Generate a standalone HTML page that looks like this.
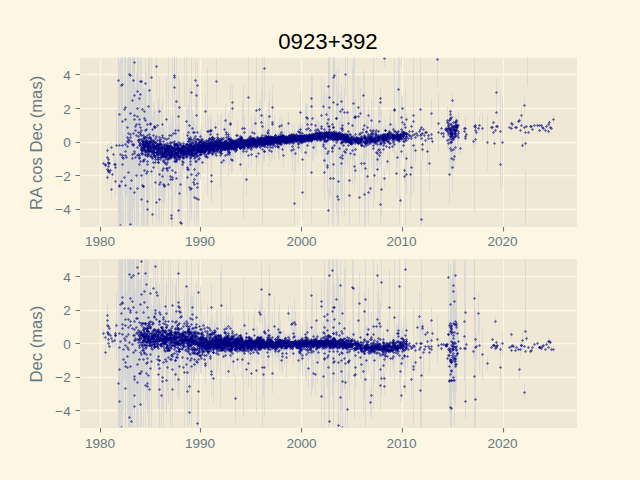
<!DOCTYPE html><html><head><meta charset="utf-8"><title>0923+392</title><style>html,body{margin:0;padding:0;background:#fdf6e3;font-family:"Liberation Sans",sans-serif}svg{display:block}</style></head><body><svg width="640" height="480" viewBox="0 0 640 480"><defs>
<clipPath id="c1"><rect x="80" y="57.6" width="496" height="168"/></clipPath>
<clipPath id="c2"><rect x="80" y="259.2" width="496" height="168"/></clipPath>
</defs>
<rect width="640" height="480" fill="#fdf6e3"/>
<rect x="80" y="58" width="497" height="169" fill="#eee8d5"/>
<rect x="80" y="259" width="497" height="169" fill="#eee8d5"/>
<path d="M100.5 59V226M200.5 59V226M301.5 59V226M402.5 59V226M503.5 59V226M81 209.5H576M81 175.5H576M81 142.5H576M81 108.5H576M81 74.5H576M100.5 260V427M200.5 260V427M301.5 260V427M402.5 260V427M503.5 260V427M81 410.5H576M81 377.5H576M81 343.5H576M81 310.5H576M81 276.5H576" stroke="#fdf6e3" stroke-width="1.3" fill="none"/>
<defs><marker id="m" markerUnits="userSpaceOnUse" markerWidth="4" markerHeight="4" refX="2" refY="2" overflow="visible"><path d="M2 0.44999999999999996 L3.55 2 2 3.55 0.44999999999999996 2z" fill="#000080" fill-opacity="0.6"/></marker></defs><g clip-path="url(#c1)"><g transform="translate(.5 .5)">
<path d="M120 182.4V227.1M122 115.5V173.8M123 134V181.8M125 55.1V227.1M127 69.2V222.9M127 58.9V194.1M127 116.8V165.7M129 183.6V227.1M130 133.3V227.1M131 101.1V181.3M132 55.1V227.1M132 124.9V190.3M133 130.3V158.6M133 55.1V131.6M134 55.1V227.1M136 72.3V176.2M138 123.6V156.5M139 131.5V195.7M139 141.7V172.9M140 146.7V176.3M140 136.1V152.1M141 127V142.7M141 125.8V153.6M141 144.8V155M142 142.1V150M142 135.7V150.8M142 147.2V153.7M143 140.4V147.2M143 146.3V149.8M143 145.2V152.3M143 142.8V146.2M144 134.5V156.8M144 146.2V150.3M144 89V147.3M144 137.9V147.6M144 133.5V140.9M145 151V156.1M145 145.5V163.7M145 143.7V148.2M145 130.8V143.2M146 116.2V227.1M146 139V145.2M147 142.2V145.6M147 143.3V149.4M147 128.4V140.6M147 145.9V154.8M147 142.1V151M147 144.3V153M148 143.2V150.4M148 143.9V149.6M148 141V166.7M149 142.6V146.9M149 139.7V150.2M149 55.1V150.5M149 147.4V154M150 145.6V149.8M151 142.4V159.7M151 55.1V178M151 144.7V166.6M151 147.1V160M151 133.6V144.1M152 140.4V149.5M152 149.3V164.5M153 135.2V148.2M153 158.2V175.2M154 147V152.9M154 143.7V160.2M154 140.6V145.7M154 141.7V148.1M154 138.8V152.5M154 107.7V146.8M154 152.5V156.9M154 141.6V151.8M155 144.1V148.1M155 152.9V160M155 133.9V142.8M155 148.2V215M156 144V148.5M157 134.6V145.1M157 143.9V158.8M157 146.5V152.2M157 148.1V156.1M158 98.9V218.8M158 154.6V169.1M158 143V153.8M158 143.1V146.7M158 147.5V175.9M159 134.3V151.8M159 140.2V148.5M159 147.1V158.7M159 106.7V172.4M159 151.5V156.3M159 126.1V148M160 145.9V155.3M160 141.2V146.5M160 145.8V149.1M161 144V150.8M162 148.5V153.4M162 141.2V161.2M162 97.9V149.8M163 136.9V151.5M163 155.6V164M163 150.9V157.3M164 153.6V158.4M164 152.3V160.4M164 127.4V149.5M164 172.3V199.8M165 144V155.9M165 149.8V153.4M165 141.4V147.5M165 147.9V157.9M165 146.2V153.7M165 144.6V154.4M165 146.8V153.3M166 152.7V158.8M166 143.2V147.3M166 145.3V156.9M166 151.4V155.5M166 160.3V166.8M166 144.1V150.6M166 145.2V152.3M166 138.8V151.3M167 142.5V159.8M168 144.3V148.3M168 152.8V163.1M168 154.4V162.9M168 146.9V151.9M169 150.5V153.3M169 147.1V156.9M169 152V157.2M170 151.2V160.9M170 112.3V181.3M170 149.2V158.6M170 152.1V159.1M171 147.5V154.7M171 150.6V156.4M171 145.9V157.9M172 145.5V155.7M172 129.2V180.9M173 115.9V150.4M174 144.3V151.9M174 152.3V162.2M174 142.5V153.2M174 148.3V152.1M174 136.3V149.3M174 139.8V149M174 151.3V158.8M175 149V160.6M175 147.4V152.8M175 148.7V155.2M176 156.7V161.7M176 141.2V154M176 145.6V154.8M176 155V159.8M177 151.9V157.5M177 144.2V151.2M177 144.9V149.2M177 152.5V156.7M178 139.2V155.7M178 148.8V163.1M179 154.4V159.5M179 148.3V152.3M179 148.5V151.8M179 147.6V153.8M180 149.7V156.8M180 147.9V151M180 153.1V159.8M182 147.4V153.8M182 144.2V157.2M182 139.8V154.1M183 132.2V152.9M183 141.1V151.3M183 153.5V160.1M183 150.5V156.7M184 144.3V147.7M184 147V154.2M184 137V163.1M186 148.4V155.6M186 129.5V159.3M186 150.4V164.5M186 144V152.1M186 139.3V151M186 151V157.7M186 141.2V163.4M186 55.1V194.9M187 139.4V149.6M187 142.7V150.1M187 148V152M187 142.5V154.4M187 148.6V157.2M187 152.3V156.6M188 147V153.3M188 140.5V156M188 144.3V157.4M188 147.5V152.9M189 141.5V147.7M189 146.2V151.9M189 131.5V145.7M189 143.5V149.3M189 150.2V154.3M189 141.5V152.2M190 152.3V155.7M190 165.8V212.2M190 126.2V196.8M191 145.7V152.4M191 147V152.5M191 148.2V152.8M191 149.8V153.6M191 147.8V159.1M192 147.7V149.9M192 140.4V144.9M192 136.4V164.8M192 151.1V155.7M192 145.1V151.5M192 146.8V151.2M192 151.3V155.3M193 116.8V147.4M193 153.4V156.9M194 137.5V154.2M194 141.5V149.9M194 148.6V151.6M194 146V153.1M194 140.8V148.7M195 136.1V148M195 148.1V173.5M195 144.4V150.5M195 151.7V161.7M195 147.5V156.5M196 134.7V144.1M196 150.1V160.1M197 141.9V147.3M197 144.8V152.1M197 147V152.1M197 148.2V152.6M197 143.6V153.7M197 151.4V158.9M197 144.9V156.5M197 92.4V171.7M198 148.2V152.1M198 147.2V156.9M199 147.5V152.6M199 145.7V151.7M199 149.7V165.4M199 142.8V146.6M199 138V145.6M200 129.2V142.5M201 139.7V162.9M201 148.1V153.5M201 133.3V148.7M201 146.2V152.2M202 136.5V149.3M203 142.7V145.6M203 141.2V144.4M203 141.7V145.9M204 139.3V152M204 145.4V148.2M204 143.3V160.8M204 150.1V153.2M204 140.6V148.5M205 141.3V146.4M205 147.7V153.4M205 140.3V144.1M206 145.2V153.5M206 142.9V151.5M206 148.1V151.4M206 141.3V149.6M206 133.7V146.5M207 145.8V151.1M207 147.2V151.5M207 142.3V146.2M208 140.8V144.8M208 143.6V150.2M208 144.3V148.4M208 144.8V153.3M208 117.5V143.8M208 149.4V155.8M208 139.3V143M208 144.3V151.7M208 142.9V149.2M209 144.5V147.5M209 141.3V145.6M209 143.5V152.4M209 147.4V154.8M209 142.3V149.1M209 146.8V155M209 134.4V157.5M209 147.7V153.5M210 142.9V152.5M210 144.5V153.1M211 147V153.5M211 133.9V149M211 141.6V146.3M211 133.8V142.4M211 143.8V151.1M211 140.2V146.7M211 144V146.5M212 146.3V149.8M212 143.3V147.7M212 143V147.9M212 142.2V145.5M212 129.9V144.7M213 138.4V157.6M213 144.3V148M213 143V155M213 142.6V145.7M213 144.7V148M213 139.8V145.1M213 141.6V146M214 147.3V153.4M214 146.7V154M215 141.8V144.3M215 146.3V149.2M215 121.4V133M215 141.9V146.4M216 146.9V151.2M216 143.6V151.1M216 143.9V146.9M217 143.3V146.9M217 141.9V147.5M217 142.4V150.4M217 141.2V147.1M217 145.7V155.9M217 143.9V147.4M217 137.2V142.8M217 113.2V155.4M217 143.3V146M218 135.1V153.4M218 135V140.3M218 142.1V151.2M218 140.4V145.6M218 141.2V148.2M219 137.5V142M219 140.4V143.7M219 142.9V145.9M220 115.1V187.1M220 144.4V147.7M220 144.7V148.9M221 145.5V153.8M221 142.3V146.3M221 147.7V157.4M221 141.5V146.4M221 137.5V146M221 141.5V144.3M222 141.5V145.1M223 144.2V148.5M223 142.9V145.8M223 139.2V149.3M224 140.5V144.3M224 142.7V145.9M224 147.2V151.2M224 139.6V147.7M224 144.6V146.7M225 141.2V147.6M225 143V145.5M225 140.9V146.3M225 139.3V143.2M225 147V163.9M225 140.5V147M225 141.8V145.6M225 146.7V150.7M225 130.2V157.4M226 118.9V145M226 145.7V148.6M226 139.1V143.7M226 143.9V148M227 142.6V152M227 146.8V150.4M227 143.8V147.8M228 141.4V149.9M228 123.1V175.8M228 147.8V155M228 113V159.1M228 143.6V149.5M229 136.1V141.3M229 143.8V150.3M229 145V158.1M229 148.3V150.7M230 135.9V157.5M230 141.8V147M230 145.6V150.1M231 142.7V150.2M231 139.7V142.5M231 144.7V147.6M231 137.9V144.7M231 143.7V146.5M231 139.6V143.2M231 145.2V173.5M232 142.9V146M232 104V111.5M232 137.7V157.3M232 138.2V143.3M232 145.5V147.9M232 141.5V147.3M233 146.4V150.1M234 140.3V146.7M234 142.6V145.9M234 139.9V145.3M234 143.5V149.1M234 145.7V148.3M234 142.8V146.2M235 144.2V149.1M235 143.9V147.2M235 143.5V146.4M236 139.7V147.6M236 131.6V139.1M236 142V146.4M236 143.7V148.3M236 142.9V146.8M236 138.8V144.4M236 139.5V142.8M236 143.2V146.3M237 144.3V147.9M237 121.3V149.4M237 144.3V148.1M238 141.9V146.8M239 138.8V143.7M239 142.2V146.1M240 140.2V144.4M240 136.1V141.7M240 141.4V146.5M240 142.1V154.6M240 143.1V149.6M241 138.8V143.4M241 134.8V140.1M241 137.1V140.4M241 140.6V143.4M241 141.2V147.7M242 142.1V147.9M242 140.7V145.5M242 137.5V145M243 141.9V146.9M243 135.3V149.9M243 140.1V145.7M243 137V142.3M244 141.9V149.9M244 142.8V147.5M245 134.1V145.8M245 141.5V144.3M245 143V147.8M245 136.5V142.5M246 149.1V153.1M246 143.2V147.7M247 140.9V145.1M247 137.3V142.8M247 142.9V149.7M247 144.9V147.1M248 143.8V147.9M248 142.9V145.3M248 143.2V148.2M248 130.6V146.7M248 143.9V148.5M249 127.6V147M249 141.2V144.6M249 141.3V145.6M249 139.1V146.6M249 141V146.2M249 139.3V143.6M249 139.1V144.6M249 141.7V145.8M250 138.4V141.1M250 142.1V144.8M250 142V144.2M251 140.1V144.4M251 140.5V144.9M251 142.9V147.2M251 136.2V140.3M251 141.1V146.3M252 141V145.2M253 139V143.8M253 134.9V140.6M253 140.1V146.1M253 140.5V144M253 138.3V155.5M254 143.1V146.1M254 141.8V146.7M254 137.2V141.5M254 141V147.3M254 140.3V143.8M255 136.5V156.2M255 139.5V144.8M255 137.8V142.6M255 140.3V143M255 140.6V146.9M255 140.4V144.6M256 144.5V148.9M256 143.7V148.6M256 141V146.9M256 141.6V146.5M257 138.2V143.1M257 134.6V140.3M257 137V143.1M257 134.9V139.6M259 139.5V142.7M259 139.6V141.8M259 140.6V144.2M260 133.9V142.1M260 136.4V142.1M260 135.5V140.8M260 140.3V143.5M260 139.6V142.6M260 139.5V144.1M261 138.4V141.7M262 138.3V144.9M262 138.9V144.5M262 137V143.5M262 140.6V143.6M262 141.1V145M262 55.1V227.1M263 135.6V145.9M264 141.8V144.9M264 142.4V144.7M264 142.1V159.6M264 137.9V141.7M265 141.2V145.7M265 134.7V140.8M266 141.7V143.7M267 139.6V144.7M267 138V149.4M267 138.3V141.4M268 140.1V142.3M268 137.4V141.1M268 140.4V143.6M268 139.9V146.7M268 136.9V140.9M268 138.8V141.4M269 90V142M269 134V166.6M270 138V140.4M270 140.6V143.3M270 135.3V137.8M270 139.3V144.2M271 137.3V140.3M271 136.8V139.1M271 136.8V140.3M271 135.1V139M271 136.5V140.4M272 136.5V140.5M272 136.1V140M272 135.9V140.4M272 139V144M273 139.3V142.6M273 138.6V143.4M273 136.4V138.5M274 137.1V140.2M274 113.9V160.3M274 135.5V139.1M275 138.4V141.2M275 136.6V143.8M276 139.3V144.1M276 136.7V140M276 136.3V143M276 138.7V143.7M276 137V142.9M277 137.8V143.6M277 133.6V141.3M277 139.5V145.3M278 138.4V145.2M278 132.2V141.5M278 132.8V139.6M278 138.5V141.8M279 137.8V140.7M279 137.9V140.8M279 140.1V144.4M279 118V134.9M280 137.9V149.2M280 135.1V138.8M280 135.3V139.9M281 126.9V137.3M281 137.6V140.2M281 140.4V147.5M281 139V146M281 135.1V140.7M282 135.6V140.5M282 135.7V139.5M282 138.4V141.8M282 137.3V140.8M282 137.7V160.2M283 135.6V138.9M283 137.7V142.3M283 129.8V146M284 134.6V138.1M284 136.7V141.3M284 138.7V141.9M285 136.6V140.6M285 134.9V142.4M285 134.1V140M286 133.2V142.5M286 139.3V145.9M286 139.1V143.9M286 135.7V144.7M286 137.2V140.4M287 136.7V142.8M288 133.6V139.1M288 137V139.2M288 135.9V139.4M288 134.7V139.3M290 135.4V141.9M290 138.1V140.5M291 133.8V137.2M291 134.2V137.8M291 142.1V158.3M291 135.4V139.9M292 134.9V142.6M292 136.7V140.6M292 138.4V141.3M292 135.5V140M292 138V141M293 134.8V139.7M293 136.9V144.8M294 134.6V137.9M294 135.6V139.7M294 135V138.1M294 136.7V139.2M295 137V141M295 136.4V138.7M295 136.4V139.6M296 134.1V136.2M296 135.3V142M296 133.9V139.7M296 132V135.5M296 135.9V141.6M297 136.9V139.6M298 134.8V137.1M298 135.6V141.9M298 136V138.2M298 135.3V142.9M298 136.2V140.7M299 138.6V141.2M299 135.9V142.3M300 130.7V150.2M300 137.3V141.8M300 136.2V142.1M300 133.7V140.8M300 139.1V141.9M301 134.3V139.8M301 133.2V136.5M301 136.5V140.6M301 135V138M302 129.3V148M302 139.4V144.5M302 128.6V137.9M302 123.3V149.5M302 137.5V141.8M303 136.3V141M303 135.9V138.5M303 133.7V137.9M304 133.1V138.1M304 135.3V139.2M305 134.7V143.9M305 133.5V137.7M305 131.8V139.4M305 104.2V199.5M306 136.7V140.7M306 135.8V139M306 135.9V138.5M307 135V138.6M307 129.6V139.6M307 135.3V138.4M307 135.9V142.6M307 133.4V138.3M307 135.8V140.2M308 134.1V141.6M308 135.4V140.9M308 135.9V140.6M308 134.9V138.2M308 134.9V137.4M308 134.5V144.7M309 136.3V139.8M309 136.5V138.8M309 134.4V140.1M309 135.3V138M310 134.7V140.8M310 134.5V138.2M310 136.7V139.7M310 134.6V138.6M310 132.5V139.4M310 136.8V139.1M311 133.7V145.8M311 134.4V136.5M311 134.4V136.7M311 119.4V225.3M311 133.9V138.1M312 135.4V140M312 136.3V139.9M312 135.1V139.2M312 131.3V138M312 136.5V140.7M313 136.1V139.9M313 135.3V138.8M313 135.5V138.3M313 133.7V137.9M314 135V137.1M314 135.1V137.3M314 134.9V141.3M314 134.5V139.8M314 135.9V139.1M315 124.8V151.9M315 135.5V139.3M315 132.1V136.8M316 133.7V136.9M316 135.1V138.4M316 134V140M317 125.2V140.6M317 134.1V138.2M317 119.3V138.8M318 132.4V138.5M318 133.9V136.3M319 120.7V143.6M319 133.9V142.2M319 131.6V135.4M319 134.9V137.6M319 132.6V141.3M320 132.2V137.8M320 130.1V136.4M320 131.3V135.3M320 135.7V141.9M320 137.8V141.3M321 134.1V137.9M321 76.1V154.7M322 134V137.2M322 135V137.9M322 135.9V139M322 134V136.5M322 132V136.3M322 133.1V136.6M323 135V138.5M323 131.8V134.6M323 131.9V138.6M324 152.6V192.1M324 125.6V138.8M324 120.8V155.2M325 128.4V138.1M325 134.4V137.1M325 135.8V138.7M325 131.1V137.9M325 135.2V144.9M326 132.6V137.8M326 130.9V135.8M327 137.6V142.9M327 102.2V143.4M327 136.6V143.4M327 133.4V137.4M328 186.1V227.1M328 110.8V127.1M329 132.5V138.7M329 134.6V136.7M329 131.9V138M329 132.5V139.7M330 132.9V137.8M331 131.8V134.4M331 135.7V138.3M332 133.7V137.3M332 130.2V135.3M332 79.4V223.3M332 131.6V136.1M332 132.8V137.5M332 134.6V142.2M333 136.2V140.1M333 136.1V139M333 113.8V153.2M333 133.5V143.5M333 55.1V205.9M333 118.7V136.2M333 135.9V140.1M334 126.6V134.8M334 130.4V135.8M334 55.1V94.5M334 138.3V151.9M334 126.1V150M334 55.1V73.8M334 132.8V137.3M335 135.3V140M336 132.9V137M336 69.8V213.5M336 130.9V133.6M337 143.2V227.1M337 137.9V140.1M338 137.1V141.5M338 134.6V139.2M338 135.9V140.4M338 134.4V138.1M339 134.2V137.8M339 125.1V141M339 138.7V157.1M339 119.6V144.5M340 132.9V135.7M340 130.7V140.4M340 135.9V139.3M340 134.3V137.2M341 134V152.4M341 134.3V138.7M342 144V165.4M342 134.7V141.2M342 129.7V139.9M342 123.8V136.6M343 132.4V137.8M343 137.8V152.7M343 134.3V137M343 136.9V144.1M344 131.2V136.1M344 136.1V141.3M344 135.8V137.9M345 135.9V140.5M345 133.8V138.9M346 132V136.3M346 137.8V141.8M347 137.1V140.2M347 134.5V139.1M347 138.8V143.2M348 110.9V135.1M350 138.1V141.3M350 140.5V143.9M350 125.1V142.4M351 138.6V141.1M352 136.1V139.5M353 135.4V141M353 55.1V155M354 137V142M354 137.1V141.4M355 138.2V142.1M355 144.1V152.9M355 140.5V145.2M355 138.2V140.6M355 138.4V142.8M355 132.2V135.8M355 98.6V133.6M356 135V139.5M356 139.8V142.1M357 138.9V141.7M357 135.9V141M358 138.7V141.4M358 140.5V144.9M358 135.6V140.7M358 75.3V137.9M359 135.7V140M360 130.4V135.7M360 86.6V140.1M361 135.5V142.7M361 141.8V148.2M362 137V141.4M363 69.7V119.7M363 92.5V166.1M364 140.1V144.7M364 133.5V141.1M365 140.1V145.1M365 137.1V144.4M365 136.6V140.1M366 128.6V158.3M366 139.5V142.8M367 137.4V142.2M368 137.8V140M368 106V123.8M368 134.8V138.9M368 136.3V140.4M370 138.5V143.4M370 129V142.4M370 135.4V142.3M370 135.2V140.1M370 141.2V144.9M370 136.6V143.8M370 124.6V135.6M371 132.8V143.1M371 136.8V139.2M371 133.8V138M371 139.2V142.3M371 138.6V141.9M372 128.2V138.2M372 133.3V148.3M373 55.1V206.4M373 137.5V141M373 135.9V141M373 137.5V140.6M373 138.7V141.7M373 129.8V150.8M374 137.3V142.6M374 150.5V200.1M374 138.1V143.3M375 138.3V141.5M375 126.6V138.2M375 131.9V136.2M376 55.1V59M376 138.6V141.3M377 134.9V140.6M377 132.2V141.8M377 133.7V139.7M377 134.9V171.9M378 137.8V140.7M378 133.9V137.1M379 135.9V139.9M379 106.5V134.7M379 141.4V156.5M379 135.1V139.4M380 133.5V138.8M380 135.9V140M381 161.4V216.6M381 133.1V137.4M382 134.9V141.6M383 136.7V142M383 131.6V143.7M383 136V139.5M383 130V142.8M384 135.1V137.7M384 133.3V135.5M384 168.9V187.8M384 137V148.1M385 132.4V136.6M386 136.3V141.1M386 134.8V143.5M386 135.5V138.8M387 134.5V140.3M387 135.9V138.9M387 137.6V140.1M387 132.2V135.5M387 152V169.6M387 125.1V143.9M387 131V136.9M388 134V147.9M388 135.7V139.3M389 122.2V139.4M390 135.4V138.5M390 134.2V138M392 134.1V140.7M392 123.2V149.5M392 132.4V137.9M393 131.9V138M393 133.4V135.8M394 136V138.3M394 93.7V125.7M395 135.6V139.2M395 135.8V139M396 151.1V195.1M396 134.4V138M396 138.2V140.6M396 136.9V139.5M397 132.2V136.7M397 131.9V136.8M397 147.5V167.3M399 55.1V227.1M399 137.3V140.2M400 133V137.5M400 132.7V136.2M400 132.2V138.1M400 132.2V140.5M400 133.8V138.1M401 125.6V133.1M401 134.3V137.9M402 130.6V132.7M402 133.1V135.2M403 135.2V140.5M403 132.3V156.8M403 125.2V157.4M404 126.7V139.7M404 131.6V135.4M406 152.6V163.9M406 113.1V124.5M107 144V156M107 152.7V160.7M108 168.1V174.1M114 153.9V173.9M115 166.9V194.9M400 195V205M421 158.8V227.1M411 122.9V128.9M409 132.6V136.6M408 132V136M408 135V141M414 132V136M417 132V138M422 131.4V135.4M421 134.8V140.8M422 138.8V158.8M428 132.6V136.6M438 121.8V141.8M466 131.9V135.9M465 134.4V138.4M465 136.2V140.2M473 132.8V148.8M475 132.9V144.9M496 124.4V128.4M497 122.8V128.8M494 138V148M502 97V187M511 126V130M518 117.5V123.5M521 106.9V122.9M521 122.9V126.9M524 124.8V128.8M528 130V134M532 126.9V130.9M537 121.9V127.9M539 122.9V126.9M539 127.9V131.9M545 126.9V132.9M551 126V130M454 120.9V139.9M456 126.9V133.5M456 118.7V124M455 125.4V133.9M456 120.1V132.6M448 122.2V127.4M451 128.1V138.2M457 122.2V147.1M451 126.6V130.7M450 124V143.7M455 130.2V137.7M448 126.2V130.6M448 125.6V139.3M453 134.4V139.1M455 121.6V129.9M453 137.8V140.6M450 129.3V143.5M458 126.8V135.5M452 127.9V138.7M452 130.4V137.5M455 123.8V136.8M452 127.3V138.2M450 131.4V133.7M450 108.9V128.8M452 128.1V134.4M452 92V108M450 110V118M449 144V204M193 168V196M197 166.8V198.8M197 156.9V216.9M194 171.7V221.7M196 167.8V227.1M195 55.1V110M170 167.5V183.5M174 55.1V106.5" stroke="#d3d3d3" stroke-opacity="0.69" fill="none"/>
<path d="M115 161.2V166.7M118 55.1V227.1M119 141.5V227.1M119 62V166.5M119 80.3V227.1M121 87.9V227.1M122 135.7V191.5M122 123.1V186.2M127 118V155.9M128 112.9V171.2M130 171.5V227.1M132 65.9V227.1M133 112V178.7M134 55.1V196.4M134 78.4V227.1M134 55.1V227.1M134 104.8V201.2M135 96.9V154.5M135 147.6V166.6M137 141.1V168.7M137 55.1V133.6M137 55.1V181.6M138 133.7V174M138 60.3V219.2M138 107.3V156.5M139 141.4V167.9M140 134.2V151.5M140 102.7V152.1M141 76.9V227.1M141 144.9V204.6M141 143.9V154.7M141 55.1V200.1M142 146.3V156.4M142 78.4V140.1M142 145.8V149.9M143 142.1V146.1M143 85.9V203.7M143 119V150.7M144 144V150M144 142.4V152.3M144 141.3V155.9M144 134.8V138.7M144 138.1V202.2M145 136.3V145M145 88.7V172M145 55.1V127.8M145 147.3V153.8M146 135.7V146.1M146 134V140.2M146 126.7V162.1M146 70.4V188.3M147 142.4V148.6M147 139.6V145.4M147 140.1V146.9M148 149.1V156.9M148 136.9V151M148 55.8V155.2M148 136.3V146.2M149 138.8V146.1M150 144.1V152.7M150 99.5V146.1M150 92V155.7M150 136.3V146.2M150 145.4V151.8M150 153.2V157.8M151 142.8V150.7M151 138.6V147M151 132V148.1M152 153.9V161.3M152 142.1V146.8M152 146.3V155.8M153 144.8V154.7M153 153.3V171.2M153 142.4V147M153 152.4V154.4M153 143.4V149.9M154 149.2V156.5M154 143.3V152.2M154 144.9V167.3M154 143.2V149.9M154 149.3V153.9M154 142.6V148.6M154 105.8V145.8M155 144.5V173.8M155 125.7V157.3M156 144.7V160.3M156 147.8V156.2M156 141.2V155.3M156 143.5V147.4M157 137.6V152M157 139.9V147.4M158 143V151.2M158 151.8V156.5M158 147.9V153.5M158 142.9V149.7M158 146.4V151.8M159 142.8V153.1M159 76.4V146M159 142.8V148M159 145.1V152.3M160 135.7V147.3M160 152.9V160.1M161 140.7V148.2M161 146.2V150.9M161 153V158.5M162 150.1V202.6M162 145V149.4M162 149.3V158.6M163 135.6V200.4M163 129.9V227.1M163 148.2V159.3M163 153V214.6M163 145.6V150.5M164 141.7V147.7M164 152.2V156.2M165 153.4V158.3M165 157.3V161.4M165 143.8V151.7M165 146.3V155.4M166 145.6V153.9M166 151.9V157.2M166 125.3V151.8M167 157.9V166.3M167 144.1V152.7M167 139.6V152.4M167 156.3V161.6M167 142.1V152.4M167 144.1V150.4M168 149V158.2M168 148.3V153M169 150V154.9M169 143.9V148.9M169 150.2V157.4M170 150.4V159.5M170 155V160.2M170 144V150.2M170 143.6V152.2M171 121V149.2M171 142.7V148.9M171 145.8V151.1M171 149.4V154.9M172 146.7V159.5M172 115.2V227.1M172 141.2V153.3M172 148V152.8M172 55.1V227.1M172 144.9V151.6M172 153.1V158.8M173 144.5V151.6M174 148.4V155.4M174 143.1V150.1M174 153.9V162.8M174 152V155.3M174 138.3V183M175 149.2V156.4M175 137.6V151.2M175 142.1V147.8M175 99.6V159.6M176 146.6V150.9M176 139.9V148M176 137.3V150.2M177 151.6V155.4M177 135.8V154.4M177 134V153.8M177 148V157.4M178 73.6V157.6M178 145V158.9M178 149.4V157M178 134.2V165.4M178 147V153.3M178 115.2V176.5M179 154.1V163.9M179 146.7V150.4M179 151.7V159.6M179 153.2V159.4M180 139.7V147.2M180 142.9V147M180 147.9V158.8M180 149V152.6M181 148.8V154.7M181 144.5V151.3M182 151.8V158.8M182 145.5V151.4M183 150.6V155.7M183 154V169.5M183 142.7V148.7M184 144.6V151.4M184 150.4V159.1M184 146.3V153.4M185 143.6V151.3M185 149.8V153.5M185 146.7V155.8M185 149.7V153.3M186 144.7V150.4M186 153.6V158.3M186 144.9V151.3M187 153.5V158.2M187 147.9V151.4M187 145.7V151M188 144.7V150.6M188 146.3V150.8M188 144.6V154.1M189 150.4V158.7M190 138.4V149.7M190 152.3V164.1M190 136.9V141.5M190 146.2V154M190 138.4V147.7M191 138.3V153.9M191 146.7V154.5M191 148.4V156.7M192 139.7V156.4M192 143.8V166M192 138.5V145.8M192 152.1V156.9M193 145V148.4M193 146.8V149.5M193 144.6V148M193 139.3V156.4M194 150.6V155.4M194 140.5V146.9M194 151.7V155.9M195 138.4V144.3M195 144.8V151.7M195 141.7V151.8M196 146.5V152.3M196 149.6V153.6M196 139.3V145.2M197 146.4V150.5M197 144.4V149.5M197 146.8V155.2M197 144.5V148M198 135.8V227.1M198 141.5V146.5M198 146.3V199.8M198 147.8V152.2M199 131.4V160M199 148.4V152.9M199 138.6V145.6M200 134V148.2M200 147.7V151.1M200 146.2V157.2M201 141V146M201 142.2V149.3M202 149.6V152.7M202 148.7V150.8M202 140.8V148.9M202 138.6V155M202 138.4V149.1M202 137.3V145.1M203 147.9V153.1M203 142.6V148.2M203 142.3V149.4M203 142.5V154.5M203 141.5V151.4M203 147.5V155.6M203 148.8V152.8M203 141.4V144.7M204 139.2V152M204 142.8V149M204 144.8V156.9M204 151.6V157.2M204 144.2V152.4M205 148.7V153.4M205 147.8V151M205 142.1V149.4M206 143.1V149.1M206 142.6V150.8M206 146.5V150.6M206 141.9V152.9M206 144.7V149.1M207 144.3V151.3M207 145.2V149.7M207 141.5V153.9M207 142.1V147.4M207 67.5V194.5M207 144.1V148.9M207 145.2V168.3M207 142.6V152M208 146.7V149.8M209 145.5V148.5M209 140.2V144.8M209 143.2V146.8M210 142.7V151.2M210 145.9V153.8M210 150.4V153.7M210 114.1V147.1M210 122.2V137.7M211 160.2V202.8M211 140.8V146.4M212 150.6V154.7M212 151.1V156.2M212 139.3V146.8M212 140.5V144.4M212 143.8V148.2M212 129V148.2M212 144.3V148.3M213 147.6V150.9M213 147.5V152.7M213 142.2V147.9M213 133.7V155.1M213 142.3V149.5M213 149.4V152.9M214 143.7V152.6M215 140.9V145.9M215 143.1V147.9M215 141.7V147.5M216 142.9V149M216 150.7V159.2M216 145.6V148.7M216 142V144.6M216 143.5V149.4M216 148.7V153.1M216 138.8V145.7M217 137.7V140.7M217 144V146.4M217 145.9V152.4M217 141.9V151.1M218 143.1V146.2M218 143.5V149.8M218 143.2V148.3M219 150V155M219 138.5V147.9M219 140V144M219 141.6V145M220 145.2V148.9M220 140.4V144.6M220 146.5V151.5M220 136.1V143.8M220 148.5V161.8M221 149.1V156.3M221 144.5V149.1M221 112.3V212.3M221 135.7V150.4M221 135.9V139.9M221 142.6V146.1M222 145.7V151.8M222 142.5V148.6M222 139.8V143.2M222 141.9V145.5M222 141.5V144.1M223 152.1V167.1M223 146.1V150.3M223 135.9V140.4M223 144.2V147.3M223 142.4V156.3M223 141.7V151.8M224 146.3V150.9M224 122.6V134.6M224 144.5V151.9M224 134.1V161.1M224 142.7V146.6M224 125.1V158.3M225 103.6V136.4M225 139.3V145.2M225 144.5V148.8M225 142.8V146.7M226 140.1V143.6M226 145.8V149M226 125.7V149.3M226 145.5V150.3M226 128.7V140.3M227 142.6V149.2M227 142V145M227 143.7V146.6M227 141.8V147M227 143.2V146.5M227 151.1V156.5M227 143.3V146.7M227 147.1V150.4M228 143.6V146.6M228 134.7V140.4M229 140.2V143.5M229 143.6V146.4M229 146.7V149.2M229 144.1V164.2M229 142.2V150.4M229 138.2V146.6M229 144.3V146.4M230 145V151.8M230 115V130.3M230 138.6V141.6M230 139.1V143.6M231 140.1V142.5M231 136.3V142.1M231 139.3V144.9M231 143.6V147.8M231 131.4V148.1M231 143.3V145.4M232 143.2V146.6M232 146.6V148.7M232 144.7V146.7M232 139V144.1M232 142.2V146.1M232 137.5V145.6M232 147.5V172.5M232 140.5V144.4M233 143.8V146.1M233 137.2V161M233 144.1V146.9M233 139.6V143.2M233 141.7V146M234 144.7V153.5M234 138.1V147.7M234 143.5V152.1M234 137.1V152.3M235 138.4V141M235 145.3V147.5M235 144.4V152.9M237 140.9V146.3M237 140.9V149.5M238 136.3V141.1M238 143.6V146.2M238 143.4V149.1M238 141.7V146.5M239 141.6V144.6M240 139.7V144.3M240 140.1V144.1M240 156.6V170.4M240 145.4V148.1M240 143V150.4M241 143.3V149.8M241 135V158.6M241 140.2V144.9M241 144V148M241 142.2V144.5M241 141.1V143.4M242 138.6V143.5M242 142.8V147.8M242 130.4V147.1M242 140.5V143M242 137.3V148.4M242 142.7V145M243 143V145.8M243 141.6V148.9M243 144.8V149.1M243 83.9V218.8M243 144.1V148.1M244 140.2V145.1M244 138.9V143.5M244 137.5V142.5M244 142.7V147.4M244 123.1V132.7M244 144.6V148.5M244 142.6V145.3M244 142V147.5M244 141.7V154.9M245 142.1V146.5M245 140.9V143.7M246 162.4V194.7M246 142.5V147.2M246 139.6V142.4M246 142.2V145.8M247 141.8V144M247 139.4V142.8M248 142.2V145.7M248 143.5V146.1M249 142.2V144.7M249 139.9V142.8M249 139.7V144.3M249 143.1V146.5M250 139.3V142.8M250 136.9V144.5M250 143.3V146.4M250 139V144.2M250 141.7V145.2M251 138V143.5M251 138.9V142M251 142.7V149.4M251 144V154.8M251 143.3V148.8M251 140.7V143.3M251 140.6V145.3M252 122.6V141.8M253 134.9V142M253 140V143.9M254 139.3V147M254 142.1V145.4M255 142.4V146.2M255 139.4V143.1M256 141V150.3M256 143.4V168.3M257 142.9V146.3M257 143V147.1M257 141.5V146.9M258 139.4V142.8M258 139.6V142.3M258 137V141.1M258 135.9V143.4M258 138.5V143.3M258 136.5V141.2M258 138.5V142.4M258 140.8V143.1M259 142.6V146M259 137.9V142M259 139.4V144M259 138.1V150M260 138V156.5M260 137V139.5M260 139.6V146.2M260 142.5V146.4M261 137.9V142.2M261 106.3V137.1M261 137.9V141.4M261 138.1V145.3M261 136V138.8M261 142.2V145.1M261 140.8V144.6M261 139.3V141.3M261 90.1V139.1M262 139.2V142.7M262 137.1V139.8M262 142.8V146.3M262 139.2V144.4M263 140.3V144.8M263 140.9V143.8M263 113.3V163.3M263 137.6V141.7M263 137.7V144.7M264 140.3V143.6M264 142V159.7M264 144V147.6M264 137.9V141.1M264 137.9V140.8M264 138.6V143.8M265 138V142.8M265 135.1V139M265 140.2V144.3M266 135.1V139.4M266 138V144.1M266 139V142.2M266 138V140.9M266 137.9V143.7M266 139V146.5M267 138.5V155.5M267 140V147.4M267 137.1V142.4M267 138.2V141M268 139.5V143.6M268 136.8V141.2M268 135.9V139.3M268 132.2V146.1M268 138V142M268 129.3V147.8M268 132.3V142.2M268 133.8V138.6M269 135.9V143.5M269 135.7V138.5M269 137.9V142.8M269 139V141.8M270 133.9V138.2M270 138.6V147.6M271 141V160.5M271 139.5V144.9M271 138.7V141.9M271 142.3V145.6M271 137.8V142M271 138.5V143.2M271 138.2V143.1M271 137.7V145.3M271 139.3V143.2M271 139.3V143.3M271 138.4V143M272 140.1V143.1M272 136.3V140.5M272 138.9V142.4M272 84.8V158.7M272 135.5V141.6M273 140.5V144.8M273 138.5V143.3M273 141.5V149.1M273 140.5V147.4M274 137.9V141.7M274 139.8V142.8M274 137.4V142.6M274 133.9V143.4M275 136.9V140.7M275 138.1V142.7M275 140.6V143.4M276 131.4V146.4M276 134.5V138.6M276 139.9V143.2M276 137.3V142M276 138V143.5M277 139.9V152.6M277 134.7V143.1M277 140.1V148.8M277 141.2V144.7M278 135.5V139.2M278 136.5V140.5M278 139.6V152M279 131.6V144.6M279 137.9V145.5M279 135V140.8M279 139.2V142.1M279 135.9V140.3M279 127V149.4M279 122.3V159.9M280 134.5V140.4M280 135.1V140.5M280 134V140.7M280 132.9V138.3M280 137.9V144.7M280 138.3V142.7M281 132V141.5M281 137.4V143M281 127.3V146.2M281 136.2V139.1M281 137.2V140.8M282 135.5V139.9M282 139.9V143.3M282 138.7V141.4M282 133.6V139.4M282 133.6V136.6M283 135.5V140M283 139V141.1M283 132.1V140M283 138.5V142.3M283 136.4V140.1M284 137.5V140.6M284 127.1V150.3M285 135.5V140.1M285 138.2V141.9M285 133.9V140.3M285 136.1V146.9M285 138.6V141.4M285 135.1V140.4M285 135.3V140.6M286 137.9V140.4M286 138.1V140.4M286 139.8V145.1M286 135.1V140.1M286 138.9V141.6M286 135.9V138.9M287 135.9V143.7M287 136.8V139.6M287 137.9V144.2M287 135.6V139.2M287 138.5V143.4M288 135.3V142M288 138.3V145.8M288 134.6V141.8M288 136.5V141.4M289 134.5V139.9M289 135.6V142.8M289 134.4V140.2M289 129.7V139.7M290 134.4V141.9M290 136.5V142.1M290 137V141.6M290 135.1V139.5M291 137.7V142.5M291 138.7V142.4M291 137.1V139.2M292 136.8V139.8M292 136.1V141M293 135V141.5M293 136.6V139.6M294 136.9V140.2M294 125.5V144.8M294 136.2V139.8M295 131.8V145.9M295 135.1V171.1M295 137.3V141.2M295 139.1V143.8M295 136.4V139.4M296 132.7V148.5M297 136.4V140.4M297 136V139.6M297 134.3V137.5M297 135.6V138.1M298 136.4V138.7M298 134V140.5M298 135.3V138.5M298 136.4V139.7M298 137.3V140.1M299 133.7V144.1M299 137.2V140M299 134.4V138.4M300 136.3V140.2M300 136.5V142.7M300 133.5V139.8M300 136.2V138.3M300 135.6V139.9M301 134.5V140.5M301 135.8V140.7M301 134.7V140.7M301 135.6V140.2M301 136.1V139.2M301 134.2V137.7M302 135V138.7M302 134.9V138.4M303 137V142M303 137.2V141M303 134.4V139.5M303 135.3V141.8M303 133.5V138.6M303 136.1V142.9M305 135.2V139.8M305 137.2V139.5M306 132.9V137.1M306 133.9V136.8M306 135.8V139.4M307 136.3V139.4M308 135.9V145.3M308 136V138.8M309 133.9V139.6M309 133.7V136.5M309 135.5V141M310 138.1V142.1M310 135V137.8M310 138.1V141.4M310 133.1V136.7M310 130.8V140.8M311 132.8V135.7M311 74.2V122.5M311 137.9V144.4M312 134.6V141.4M312 133.5V138.7M312 136.3V142.4M312 134.1V138.9M313 132.1V138.8M313 133.1V138.5M313 135V139.6M313 134.4V160M314 136.7V140.6M314 134.6V139.8M315 130.3V135.1M315 134.2V138M315 126.2V146.2M315 131.2V140.7M315 133.4V137.6M315 135.4V140.4M315 133.7V138.7M316 135V138.5M316 135V138.4M316 133.5V136.7M316 135.1V139.3M316 124.3V140M316 133.8V136.1M316 134.1V141.5M316 132.2V138.3M316 132.5V135M316 135V138.6M317 129.3V136.2M317 132.6V137.5M317 135.9V137.9M317 133.8V136.9M317 130.4V139M317 132.9V137M318 135.1V138.9M318 132.7V137M318 134.2V137.2M318 132.8V138.4M319 133.9V139.7M319 132.2V138.1M319 133.5V137.1M320 135.1V137.3M320 132.2V136.4M320 134.5V138.8M320 133.4V137.1M320 132.1V137.7M321 131.7V137.9M321 134.9V139.7M321 113.2V142M321 133.7V139.3M321 133.4V137.5M322 129.3V142.1M322 134.3V139.3M323 135.8V139.6M324 135.3V138M325 133.7V136.6M325 131.5V164.5M325 131.7V138.5M326 127.9V135.4M326 130.5V136.3M326 131.8V136.5M327 128.2V145.7M327 142.9V191.9M327 135.4V138.5M327 114.8V191.6M328 133.2V136.6M328 62.6V108.7M328 131.8V136.8M328 55.1V132.5M328 140.8V161.9M329 128.9V136.1M329 132.9V137.1M330 133.5V136.8M330 161V195.7M330 133.2V136.1M330 134.5V137M330 133.7V136.1M331 133.9V137.8M332 132.7V135.8M332 134.7V141.4M332 132V135.9M332 137.2V140.6M332 135.1V137.4M332 131.3V134.7M332 133.4V135.7M332 133.1V140.8M332 136.5V139.2M333 55.1V107.9M333 134.8V139.7M333 114.5V139.8M333 137.7V141.7M333 134.1V136.9M334 134.2V139M334 133.5V135.9M334 133.3V136.7M335 136V141.2M336 130.5V147.6M336 99.8V135.5M337 133.5V136.8M337 131.5V149.2M338 132.2V135.1M338 134.6V140.1M338 137.2V223.9M338 133.3V137.7M339 134.5V137.5M339 134.9V138.2M340 119.4V194.3M340 134.1V138.9M340 135.4V138.7M340 130V137.7M341 130.5V134.7M341 135.7V139.6M341 134.1V136.1M341 122.7V132.5M341 134.6V138.8M342 120.5V164.2M342 134.3V139.1M342 112.9V142.8M342 115.2V201.1M343 134.1V137M343 135.2V138.5M343 137.1V140.1M343 136V140.3M344 133.9V137.6M344 133.5V138.1M344 135V139M344 88.4V135.5M344 137.8V141.4M347 138.2V142.2M347 131.1V141M347 133.1V137M347 132.1V140.6M348 138.3V142.9M348 138.8V141M348 135.9V140.4M348 138V143.7M348 138.5V141.7M349 155.9V204.6M349 133.2V140.9M349 139.8V142.3M349 133V135.9M351 136.2V141.8M351 139.6V144.9M351 133.7V137.9M351 139.2V144.7M352 138.3V141.9M352 140.4V159M353 124.1V160.8M354 136.3V139.8M355 110.9V123M356 135.6V138.9M357 136.2V139.3M357 140V142.8M358 105.3V126.7M359 152.7V227.1M360 137.7V140.9M360 139.6V142.4M360 138.8V144.1M361 153.8V172.3M361 137.5V141.6M361 131.6V141.1M362 124.7V140M364 135.1V156.1M364 134.8V138M364 106.5V142.6M365 135.1V138.1M365 137.2V199M365 142.1V144.5M366 139.6V143.1M366 120V143.2M367 140.4V143M367 118.7V134.9M368 141.7V145.3M370 179.5V195.8M371 139.2V142.5M371 98.1V167.4M371 135.3V139.6M371 108.6V131.6M372 138.1V142.1M373 134.9V143.7M375 141.5V145M376 139.4V144.2M376 131.1V136.9M377 154.4V182.7M377 137.9V141.9M377 137.2V140.7M378 134.4V141.4M378 137.8V141.2M378 100.2V162.8M378 132.6V139.6M378 140.6V159.4M379 138.1V141.1M380 123V164.4M380 87.9V116.4M380 181.1V226.9M381 135.4V150.7M382 132.6V136.6M383 136.4V139.5M383 134.4V138.7M383 125.5V145.3M383 138.4V142.1M384 135.5V140.7M385 137.2V139.7M387 135V141.4M387 132.7V136.2M388 138V143M388 134.3V138.5M389 116.3V178.2M389 133.6V139.9M389 137.6V140.2M389 130.6V134.5M390 136.4V139M390 140V145.3M391 134.2V139M392 135.3V139M392 133V142.6M392 137.4V141.7M392 133.3V137.7M392 140.5V151.5M393 134.8V142.1M393 137.5V140.5M394 133V136.9M394 57.6V160.4M394 127.5V153.1M394 141.8V145.7M394 123.4V138.1M395 123V139.7M397 129.1V138.4M397 133V138M397 130.9V133.3M398 134.4V139.3M398 134.2V141.4M398 55.1V130.3M400 130.6V137.3M401 135V140.1M402 94.7V120.5M403 130.3V133.9M404 130.8V135.4M404 105.8V142.5M404 137.1V144.2M405 87.5V179.4M406 137.5V141.5M406 132.2V135.3M406 135.3V137.9M406 131.3V135.1M103 159.9V165.9M105 162.1V168.1M108 155.9V161.9M108 159V165M108 162.8V168.8M109 168V176M113 146V162M111 176.9V200.9M404 165.8V173.8M404 170V182M411 135.8V139.8M415 138V162M415 135V139M421 125.1V129.1M419 128.9V132.9M425 137V143M422 136.2V152.2M427 130.9V170.9M429 132.8V192.8M431 131.8V135.8M431 135.5V139.5M432 137.9V143.9M437 55.1V85.8M441 130V136M443 130V136M464 126V130M479 116.9V132.9M478 124.6V130.6M491 124.8V128.8M496 107V117M500 90.8V170.8M500 138.8V188.8M509 124.8V128.8M511 120V126M512 121.9V125.9M520 127.9V131.9M526 124V128M531 124V128M534 122.9V126.9M542 124.8V128.8M543 125.6V129.6M448 119.2V132.5M458 133.8V141.1M450 125.9V131.5M452 116V135.8M451 124.5V143.3M448 125.5V141.8M453 124.8V127.5M453 121V134.7M455 128.8V133.4M454 130.5V135.3M450 128.1V131.5M447 120.2V124.3M452 133.9V136.2M454 124.8V127.9M453 126.7V132M456 116.2V124.6M455 122V128.5M456 125.8V133M456 120.2V134M450 115.7V120.3M453 131.7V165.4M451 130V169.2M446 126.9V130.9M159 163.9V183.9M160 167.7V195.7M152 174V227.1M171 174.9V227.1M181 152.7V227.1" stroke="#d3d3d3" stroke-opacity="0.69" fill="none"/>
<path d="M115 155.9V177.3M116 108.4V180.7M119 123.6V167M121 55.1V194.6M122 55.1V227.1M122 100.1V141.2M122 136.9V177.9M123 195.1V227.1M125 55.1V207.5M128 55.1V141.5M128 116.1V149.7M128 55.1V227.1M129 55.1V227.1M130 55.1V227.1M131 79.8V227.1M134 131.2V170.2M135 86V173.9M136 73.7V196.2M136 126.2V227.1M139 136.4V180.6M139 113.7V176.8M140 55.1V127.3M140 120.5V170M140 123.3V141M142 134.5V148.2M142 148.7V157.1M142 148.7V158.4M143 141.4V227.1M143 140.2V143.9M143 139.4V179.7M143 131.6V144M143 149.2V222.5M144 201.6V227.1M144 145.4V154M144 140V177.9M144 88.4V132.9M145 87.9V151.7M145 147.5V152.8M146 133V152.5M146 134.9V144.2M146 142.4V146.9M147 108.3V227.1M147 141.5V145.5M147 142.6V152.4M147 150.3V154.2M147 180.4V220.7M147 146.9V166M148 135.5V140.5M148 145.9V154M148 146.6V151.4M148 140.1V153.9M148 144.1V146.9M149 114V153.9M149 134.7V146.7M150 142.4V147.1M151 148.2V154.6M151 154.8V188M151 144.3V152.1M152 147V155.7M152 139.4V163.6M153 143.7V153.3M153 136.8V151.7M154 145.7V152.2M154 140V169.3M155 150.1V174.2M155 137.6V145.5M156 138V153.7M156 131.7V140.4M157 97.6V151.8M157 148.6V155.9M157 140.7V148M157 149.5V157.6M157 144.7V154.1M157 144.3V151.5M158 147.3V167.4M159 166.1V201.6M159 145.7V150M160 143.9V151.7M160 141.4V146.5M160 127.8V150M161 142.6V150M161 145.4V151.5M161 154.5V160.2M161 152.7V156.1M162 145.6V152.8M162 125.1V145.1M162 121.1V153.9M162 152.8V160.4M162 144.5V148.2M163 151.2V161.1M163 150.8V157.5M163 142V155.8M163 128.4V153M163 152.1V159.3M163 150.9V154.7M164 148.4V155.1M164 148.8V154.5M164 153.3V157.5M164 151.5V155.2M165 130V195M166 149.1V186.2M166 147.7V155.1M166 130.6V183.2M166 74.7V162.9M166 144.7V152.9M167 149V154.1M167 154.9V185.5M167 137.6V148.8M167 149.8V186.5M167 150.5V157.6M168 154V160.6M169 151.2V156.1M169 145.3V153.5M169 153V160.9M169 147.2V151.5M169 146.8V152.3M169 125.3V145.4M170 137.9V147.1M170 149.5V154.2M170 139.6V156.4M170 146.2V150M170 141.8V149.2M171 150.8V156.4M171 146.9V153.8M171 154.3V158.7M171 147.5V155.6M172 143.6V150M172 135.6V149.1M172 163.7V189.5M173 147V152.3M173 146.7V149.9M174 134.6V146.6M174 152.6V155.6M174 142.8V146.5M174 152.9V159.5M175 141.5V148.8M175 151.6V155.2M175 148.1V156.3M175 147.3V166.6M175 145.9V197.6M176 132.1V156.2M176 55.1V163.3M176 156.2V163.4M176 148.7V156.6M177 124.3V165.3M177 152V156.2M177 144.1V148M178 110.4V150.4M178 147.9V153.1M178 144.4V152.6M178 148.4V154.2M178 151.1V155.2M179 79.1V135.7M179 147.3V152.3M179 133.2V163.8M179 139.3V157.5M179 146V152.6M180 149.1V153M180 146V154.7M181 145.9V153.7M181 149.3V151.4M181 146.5V151.6M181 143.1V151.9M182 148.6V154.9M182 152.4V160.7M182 148.4V158.8M183 146V155.7M183 143.2V151.6M183 152.9V160.3M183 143.8V153.2M183 140.7V149.8M183 145.2V153M184 150.4V154.9M184 55.1V106.4M185 141.6V160.7M185 149V155M185 149.4V157.4M185 146.7V153.9M186 139.4V148.6M186 149.8V158.4M187 144.2V158.7M187 161.6V191.7M187 155.6V177.4M187 127.8V141.3M187 149.3V156.3M188 142.1V149.4M188 148.2V157.6M188 127.7V154.1M188 144.8V152.3M188 147.1V151.7M188 148.2V152.1M188 145.1V152.4M188 132.1V144M189 149.9V157.9M189 146.7V154.9M189 142.7V145.4M189 147.4V154M189 87.4V162.6M189 149.9V157.1M190 148.2V153.4M190 157V171.9M190 146.5V154.5M190 143.8V146.1M190 137.8V144M190 153.2V161M191 147.3V152.9M191 146V151.6M191 144.7V147.9M191 152.8V156.4M191 148.1V151.2M192 139.3V146.1M193 150.6V153.4M193 145.9V148.6M194 149.9V157.8M194 143.6V148.4M194 151.2V156.8M194 120.7V143.2M195 140.7V147.9M195 148.4V150.8M196 133.4V152.5M196 78V152.5M196 141.9V148.5M196 143.4V161.8M196 145V176M197 147.3V151.1M197 136.8V141M198 149.1V154.5M198 141.8V149.3M198 151.2V166M198 136V142.8M198 143.4V147.2M198 144V149.8M198 146.2V151.6M199 140.5V147.5M199 143.9V151M199 151.6V159.2M199 147.2V153.3M199 144.8V147.6M199 137.9V147.3M199 138.6V145.1M200 144.4V153.6M200 150.9V157.6M200 145.2V147.9M200 144.8V149.9M201 140.1V147M201 150.4V154.6M201 141.6V153.3M201 123.2V154M201 140.9V149.3M201 143V147.9M201 147.6V151.7M201 140.9V146.7M201 146.9V152.9M201 142.8V153.4M201 141.8V150.1M201 141.3V148.4M201 134.1V147.2M202 142.5V148M202 146.3V151M202 148.9V154.2M202 146.5V153.2M202 135V142.8M203 146.7V151M204 142.8V147M204 148.1V155.4M204 133.6V149.7M204 137.5V143.7M204 142.7V150.7M206 139.5V147.2M206 137.3V149M206 150.5V158.5M207 144.2V148.4M207 145.4V150.4M208 132.6V158.7M208 149.2V152.9M208 141.5V147.4M208 149.5V156M208 147V150.9M208 137.1V143.3M209 133.8V142.3M209 136.6V141.3M210 140.1V147.3M210 143.3V145.8M210 142.5V151.9M210 131.8V146.5M210 146V151.3M211 116.7V142.5M211 141.3V146.7M211 146.9V151M211 139.4V145.8M212 149.9V154.1M212 145.5V152.7M212 141.9V146.9M212 140.8V147.4M213 139.6V145.9M213 144.5V148.8M213 144.5V149.3M214 143.2V147.9M214 145.8V155.8M214 138.2V144.4M214 143.5V146.2M214 145.1V150M215 141.4V150.4M215 137.7V147M215 144.6V147M215 138.1V143.2M216 136.3V148.3M216 58.2V103.3M216 140.7V146.8M216 140.4V144.6M216 141.5V146.3M217 146.6V151.1M217 147.3V151.5M217 144.3V149.7M218 138.1V143.3M218 141.5V150.4M218 141.4V146.9M218 146.1V151.1M218 144.3V149.6M218 139.5V145.5M218 139.9V147M219 138.3V144M219 141.1V144M219 142.6V146M219 140.6V147.2M219 138V153.4M220 149.4V152.5M220 143.3V146.9M220 147.5V149.7M220 143.8V150.4M220 143.9V149.4M220 142.1V150.3M220 136.9V146.2M221 142.3V147M222 144.3V147.9M222 142.8V146.4M224 139.2V148.5M225 142.1V144.3M225 147V151.5M226 141.7V146.5M226 146V149.4M226 143.5V149.7M226 140.9V143.4M227 145.7V151.2M227 144V149M227 139.9V158.6M227 143.6V146.1M227 139.6V147.7M227 144.4V147.7M228 141.4V154.1M228 140.6V142.8M228 138.9V151.8M228 148.6V155.3M228 142.4V147.5M228 140.8V142.9M228 145.5V148.6M228 145.5V148.7M228 134.6V155.3M228 138.9V147.6M229 142.5V145M229 144.6V146.8M230 145.5V148.1M231 145.3V147.9M231 141.2V143.4M231 142.1V145.8M231 143.5V147M232 140.4V144.4M232 142.7V145.4M232 138.9V145.5M232 141.5V147.7M232 84.9V119.3M233 142.1V149.7M233 141.2V144.1M233 142.6V146.2M233 139.3V143.8M233 138.9V141.6M233 141.3V146.4M233 140.5V144.3M234 145.1V149.6M234 138.2V144.6M234 139.6V148.8M235 139.3V145M235 136.9V145.1M235 141.1V147M236 142.3V147M236 139.3V145.2M236 138.5V143.3M236 140.5V145.1M236 143.6V149.3M236 145.4V149.6M236 141.1V143.5M236 138.6V142.8M237 138.6V142.9M237 141.3V146.7M237 139.6V143.9M237 142.7V147.3M237 140.4V144.7M237 143.5V146.1M237 142.3V149.5M237 140.2V142.7M237 137.7V140.3M238 142.6V146.5M238 141.8V145.9M239 136.6V139.8M239 142.9V146.8M239 142V144.7M239 136.8V143M239 141.8V144M240 141.3V146M240 143.2V151M240 143.4V145.6M240 140.7V145.5M240 140.1V143.9M240 144.1V146.7M240 132.7V138.5M240 144.1V149.8M240 139.8V148.6M241 135.7V139.2M241 135V141.6M241 136.8V139.6M241 137.5V143.7M241 134V153.1M242 100.2V156M242 143.4V147.3M242 139.3V143.4M243 139.3V143.1M243 143.8V148.9M243 140.3V143.9M244 138.9V142.3M244 114.8V148.6M244 138.2V144.4M245 141.6V144.1M245 142.4V144.5M246 139.9V147.6M246 137.2V145.7M246 140.6V143.4M247 142.8V146.9M247 140.8V143M247 139.9V145.8M247 140.4V144.6M248 139.5V142.8M248 139V141.5M248 140.8V144.1M248 144.5V148M249 140.8V145.6M249 142.1V145.5M249 138.9V146.6M250 140.1V142.6M250 142.3V149.6M250 128.7V143.1M250 142.3V152.7M250 140.4V146M250 141.4V145.2M250 140.1V144.7M251 138.1V141.3M251 117.3V162.9M251 144.1V146.2M251 141.2V145.2M251 141.9V166.2M251 139.8V145.2M252 135.7V140.1M252 141.2V144.2M252 140.3V145.1M253 141.7V144.7M253 138.2V141.2M253 142.4V145.2M254 115.2V151.6M254 138.6V142.3M254 134.7V140.6M254 139.7V142.4M254 141.7V144.3M254 138.7V145.5M254 137.2V143.5M254 137.8V141.3M255 141.6V143.6M255 138.6V143.8M255 137.9V143.2M255 138.3V143.7M256 136V142M256 141.8V146.8M257 137.7V141.9M257 140.2V143.8M257 137.7V141.2M258 138.7V143.3M258 138.8V141.8M258 140.2V142.6M258 139.9V142.7M259 138.5V142.5M259 142.5V149M259 141.2V144.8M259 142.1V146.6M259 139.5V143.7M260 139.3V142.2M260 136.8V145M261 136.4V139.7M261 142.6V146.8M261 138.3V141.9M261 142.1V146.9M261 136.5V141.7M261 139.5V142.5M262 102.8V149M262 138.7V144.9M263 139.2V146.2M263 134.5V152.1M263 138.9V141.5M264 127.3V160.8M264 131.7V142.5M264 55.1V101.8M264 138.2V141M264 142V145.5M265 137.6V141.9M265 121.3V149.2M266 138.5V141M267 137.2V142.8M268 102.2V157.9M268 131.4V139.9M268 131.5V144.3M268 140.8V145.3M268 138.9V141.9M269 138.9V142.5M269 130.7V147.4M269 138.7V143.1M269 137V140.2M269 142.6V147.9M270 137.8V143M270 141.1V146.9M270 138.7V145.7M270 139.4V145.1M270 140V145.3M271 133.4V141.1M271 139.3V143.3M271 139.2V142M271 135.3V140.5M272 135.4V138.6M272 136.2V144.5M272 134.9V140M272 129.1V149.9M272 96.4V117.5M272 139.5V142.9M272 137.1V140.6M273 141.3V144.7M273 140.3V142.7M273 136.9V140.7M274 136.9V139.7M274 139.5V143.1M275 139.4V142.8M275 139.5V142.9M275 135.7V139M275 136.2V142.9M275 130.7V145.2M275 129.4V150.2M275 127.7V142.4M275 136.1V142.4M276 138.7V140.8M276 139.3V142.7M276 136.5V140.1M276 138.8V141.8M276 138.5V141.6M277 132.9V141.4M278 135.3V159.3M278 137.6V142.4M278 136V143.3M278 131.4V141.2M278 135.3V140.7M278 136.6V141.6M279 139.2V141.8M279 136.9V142.5M279 140.2V144.2M280 139.9V143.5M280 137.4V140.9M280 132.7V138.9M280 136V140.4M280 141V145.3M281 137.4V141M281 114.4V135.7M281 134.2V140.4M281 136.8V139.1M281 139.9V142.8M281 136.8V142.7M281 134.9V140.2M282 120.3V149.4M282 137.9V140.4M282 137.9V141M282 138.6V141.2M283 138.5V141M283 133.6V137.2M284 138.1V143.2M284 139.1V142.3M284 137V142M285 135.4V141.5M285 139.9V142.9M285 131.9V141.5M285 134.1V142.8M285 135.9V142.3M286 137.3V142.2M286 136V140.5M286 133.2V138.7M286 137.2V141.7M286 134.2V145M286 129V146.6M287 135.3V138.1M287 136.9V140.3M287 136.5V139.9M287 140.5V143.9M287 137V140M288 137.2V140M288 137.9V142.1M288 134.7V140.6M289 138.9V141.9M289 132V138.6M289 137.1V140.3M290 139V143.3M290 137.5V139.5M290 132.9V144.2M290 138V142.8M290 139.6V142.7M290 135.9V142.3M291 136V142M291 139.6V141.7M291 138.3V140.7M291 137V141.4M291 134.6V138.7M291 136.6V147M291 131.9V137M292 134.7V141.5M292 136.8V139M292 132.5V142.1M292 122.3V170M292 137.8V141.6M293 132.7V150.8M293 134.2V146.6M293 141.4V156.8M293 136.9V140.8M293 135.3V138.5M294 132.5V138M294 137.3V140M294 136.2V140.7M294 137.2V140.1M294 123.6V227.1M294 138V141.7M295 134.2V141.2M295 136.2V139.2M295 136.6V139.5M296 137.5V141M297 129.1V142.1M297 135V139.1M297 138.9V142.9M298 138.1V141.3M298 125.8V136.9M298 133.9V138.4M298 132.4V162.1M298 137V140.5M298 137.1V140.9M298 136.7V142.3M299 132.9V136.2M299 134.8V141.2M300 118.9V139M300 112.1V151.5M300 90.4V134.5M300 135.1V139.8M301 133.3V139M301 136.6V140M301 136.6V139.5M301 139.1V145.1M301 135.7V139.7M301 133V138.2M302 133V138M302 136V140.5M302 134.2V138.8M303 137.3V143.7M304 135.3V138.6M304 136.1V140.6M304 135.8V140.9M304 133.7V136.2M304 133V137.2M305 134.2V137.5M305 135.6V142.5M305 135.8V138.6M306 135.9V139.4M306 136.9V140.8M306 135.4V139.3M306 107.6V125.6M306 134.4V137.7M307 134.1V138.8M307 134.4V156.3M307 103.8V131.9M307 138.2V141.8M307 134.4V137.4M307 110.5V137.9M308 137.5V140.4M308 135.1V139M308 135.7V138.5M308 116.8V138.5M308 136.5V139.2M308 133.5V137.9M309 129.2V138.7M310 118.3V141.5M310 135.8V138.6M310 134.7V137.3M311 134.8V139.5M311 132.1V139.7M311 137.1V141.8M311 133.8V139.2M311 135.1V137.9M311 135.9V138.1M311 137.1V139.6M311 135.4V139.3M312 133.3V135.9M312 133.9V137.3M313 132V135.6M313 134.5V137.5M313 133V137.1M313 132.9V136.8M313 134.4V138.8M313 131V136.6M313 132.4V136.9M314 134.4V136.8M315 124.9V135M315 134.3V136.8M315 133.4V137.1M315 132.5V141.2M315 112.9V138.1M316 133V136.8M316 135.2V141.7M317 132.9V141.6M317 132.7V138.8M317 132.5V143.8M318 134.1V136.8M318 134.5V139.4M319 133.5V136.8M319 125.1V138.1M319 136.7V140.5M319 133.9V137.9M319 132.6V136.2M320 134.2V137.5M320 135.3V137.9M320 134.5V136.9M320 133.3V140.6M320 134.6V138M321 129.5V144.9M321 135.8V138.5M321 112.2V139.8M321 137.7V140.7M321 133.8V140.1M321 131V137.5M321 130.5V134.1M321 130.7V145.7M322 135.3V139.8M322 134.4V139.8M323 132.8V136.4M323 128V163.1M324 121.2V144.7M324 134.8V136.9M324 126.7V144M324 135.9V139.9M324 136.3V141.3M324 81.4V200.7M324 132V135.7M324 132.3V137.1M324 132.1V137M324 132.9V136.7M324 134.6V137.3M325 133.7V137.5M325 134.5V136.9M325 134.3V147.1M326 133.1V137M326 132.6V136.2M326 129.5V134.1M326 136.3V144.9M326 130.2V134M327 144.5V184.8M327 133V135.4M328 134.2V138.5M328 131.7V134.9M328 135.4V138.9M328 136.1V141.8M328 132.4V136.8M328 129V134.3M328 134V136.7M328 135.5V137.7M329 134.2V139.9M329 136.5V139.8M329 132.1V137.5M330 134.5V139.9M330 132.6V134.7M330 133V137M331 129.6V134.9M331 132.9V135.8M331 134.1V136.8M332 133.5V138M332 133.4V138.9M333 144.5V210.7M333 134.6V139.4M333 133.6V139M333 131.7V137.2M333 130.3V145.5M333 72.6V227.1M334 135.5V139.5M334 135V138.1M334 133.3V139.1M334 130.5V136.5M335 132.8V138M335 135.8V138M335 131.7V135.8M335 130.9V137.1M335 131.2V135.5M335 136.8V140.6M336 130.7V134.9M336 109.9V126.9M336 133V137.9M336 134.3V137.2M337 132.1V135.9M337 132.4V140.5M337 132.7V136.9M337 134V140.7M338 131.1V134.5M338 134.3V137.1M338 133.3V138.7M340 135V137M340 134.2V137.6M341 84.3V117.8M341 130.1V139.9M342 115.9V133.7M342 97.3V120.4M343 134.1V138.3M343 129.2V144.8M343 134.1V136.3M343 136.3V140.6M343 136.5V139.1M344 135.8V138.7M344 136.8V140.4M344 133.1V140.4M344 136.6V140.6M345 140.2V164.4M345 137.5V142.3M345 133.9V147.9M346 138.3V144.1M346 135.9V138.5M346 135.2V138.9M346 141.3V157M347 55.1V168.8M347 132.4V138.4M347 132.8V141.8M348 114.8V146.5M348 138.6V142.5M348 136.6V140.3M348 141.9V147.5M349 137.3V140.1M349 137V139.4M351 133.2V140.3M351 139.7V142.6M351 136.3V140.3M351 137.1V142M351 142.5V145.9M352 65.5V183.8M352 141.6V144M353 133.3V139.6M354 137.4V140.9M355 160.7V180M356 139.2V143M356 138.7V142.4M356 136.1V141.5M357 138.6V142.6M357 134.2V143.1M358 140.5V143.9M358 140.8V144.8M358 139.9V145M358 136.9V138.9M360 137.9V142.2M360 138.5V142.6M360 138.3V144.8M360 135.4V142.4M361 137V141M362 135.9V140.7M364 134.7V139.1M364 73V227.1M364 153.3V227.1M364 138.2V144.7M364 132.1V136.9M364 125.9V149.9M365 158.1V227.1M365 138.4V143.3M365 134.3V141.7M366 134V145.7M366 114.6V147M366 142.9V147.5M366 135.5V141.4M366 139.6V143.1M366 136.5V141.7M367 133.4V137.9M367 140.2V142.7M367 138.6V145.2M368 132V136.8M369 138.6V141.8M369 135.8V137.8M370 135.4V142.2M371 136.8V142M372 139V141.6M373 135.9V142.6M375 136.1V139.3M375 134.3V137.9M375 135V139.9M376 122.8V138M377 138.2V142.6M378 135.4V139.7M379 136.5V140.4M380 91.5V105.1M380 138.4V141.1M380 132.8V137.3M381 140.3V143.1M382 136.8V141.7M382 135.3V139.9M383 129.4V141.8M383 136.5V140.9M383 131.7V138.1M384 133.3V136.1M384 55.1V66.2M385 133.8V138.5M385 119.1V141.5M385 135V142.6M385 137V140.8M385 134.3V142.2M386 134.5V137.1M386 135.6V139.4M388 134.7V137.4M388 133.4V137.5M388 133.3V136.6M389 136.6V148.8M389 126.8V137.4M389 135.6V138.7M391 130.5V135.9M392 134.9V137.9M393 133.7V151M394 134.8V138.3M394 134.5V137.4M394 136.8V139.5M396 131.3V134.6M396 132V137.9M397 134.4V137.5M397 132.9V138.5M397 135.3V143.7M397 132.9V136.5M398 126V136.9M398 131.9V148.6M399 134.7V141.8M400 129.9V137.2M401 137.5V140M402 128.9V136.4M402 127.9V133.6M403 132.2V137.1M405 121.7V131.5M405 158.7V227.1M406 132.2V140.4M110 166.8V172.8M111 142V152M112 168.9V178.9M412 128.9V132.9M416 131V135M420 127V131M424 132.6V136.6M431 98V128M441 125.4V131.4M464 128.8V132.8M475 127.1V133.1M476 129V135M492 124.8V128.8M496 77.8V105.8M515 124.8V128.8M519 116.5V122.5M524 96.9V112.9M525 130V134M522 136.9V152.9M525 135V151M546 123.8V127.8M549 118V126M553 113.9V123.9M527 55.1V85.5M449 127.9V132.5M451 134.5V141.1M451 122.1V140.1M455 131.6V139.6M450 125.9V138.3M453 115.4V127.9M449 119.1V136.2M456 123.2V129.1M447 130.8V148.2M450 138.4V145.2M457 117.7V136.4M449 111.8V128.1M456 119.4V129M451 130.8V141.6M456 117.9V133.7M451 121.7V133.1M453 127.1V131.9M448 136.3V150.6M451 127.4V156M450 127.8V169.2M450 106.9V114.9M446 126.4V130.4M454 143.9V167.9M451 144V172M453 146.8V170.8M452 141.9V191.9M191 163.9V183.9M196 162.7V186.7M194 168.8V188.8M194 171.6V195.6M197 62.5V106.5M196 77V113M159 158.8V227.1M171 177.8V227.1M180 164V204M178 150V227.1M180 151.9V227.1M174 55.1V99.5M174 67V107" stroke="#d3d3d3" stroke-opacity="0.69" fill="none"/>
<path d="M118 55.1V227.1M120 55.1V227.1M122 55.1V148M124 55.1V165.2M124 160.5V194M125 131.8V170.7M125 55.1V227.1M125 149.5V220.3M125 55.1V227.1M125 82.2V131.2M126 118.1V195.7M128 120V157.7M129 55.1V227.1M130 55.1V126.5M130 55.1V227.1M130 100.1V168.6M132 55.1V227.1M133 56.6V209.4M134 56.4V133.8M134 57.4V172.3M136 129.7V220M137 134.3V159.6M137 140.1V227.1M137 82.3V133.3M138 55.1V227.1M139 76.5V118.8M139 87.1V161M139 101.3V136.7M139 129.4V154.8M139 118.1V160M140 112V156.2M140 55.1V158.5M141 135.1V160.1M141 140.7V164.5M141 122.3V138.5M141 137.9V155.6M141 129.5V148.9M142 133.5V227.1M143 129.1V152.6M143 137.6V150M143 134.8V146.9M143 139.4V143.8M143 109.3V212.3M144 142.4V147.8M144 134.8V143.1M144 143.8V148.6M145 147V156.2M145 138.8V149.5M145 141.9V149.8M145 141.1V147.4M145 140.1V148.4M146 122.7V158.2M146 139.4V144.2M146 144.1V158.2M146 136.7V147.3M147 149.4V177.9M147 149.2V158.5M147 131.4V227.1M147 111.5V135.6M147 144.5V146.7M147 129.7V192.4M148 65.2V227.1M148 141.6V147.6M148 145.3V153.7M148 141.6V150.5M149 148V152.8M149 140V147.7M149 148.2V153M149 86.3V200.2M149 119.6V154.2M150 145.2V149.5M150 135.1V147.7M150 137.7V146.6M150 138.4V164.5M150 117.8V158.7M150 129.9V145.1M151 142.7V148.4M152 148.5V156.2M152 144.7V148.4M152 116.1V142.3M152 136.6V148.1M152 147.1V153.8M153 137.6V143.7M153 151.5V155.9M153 144.4V150.9M153 101.2V169.1M153 127.7V152.6M154 138.9V144.1M154 143.5V150.8M155 144.5V150.1M155 135.9V178.1M155 145.9V150.7M155 109.2V144.9M156 137.1V148M156 143.5V155.1M156 55.1V95.6M157 150.2V156M157 140.9V150.9M157 146V151.4M157 144.5V158.9M157 139.5V168.2M157 147.5V169.7M157 152.3V157.7M158 136.6V154.3M158 131.4V181.7M159 143.4V160M159 145.7V153.6M160 139.3V147.5M160 148.9V157.2M160 154V163.8M160 149.4V152.8M161 147.2V152.7M161 153V157.5M161 104.2V227.1M161 136.9V166.9M161 145.8V159.3M162 151V154.3M162 138.9V155.3M162 150V158.4M162 158V181.2M163 147.7V174.2M163 149.3V158.1M164 154.8V169.2M164 149.9V156.1M164 148.6V154.1M164 167.2V202.9M164 140.1V151.2M164 143.7V149.8M164 142.7V153.6M165 145.8V152.5M165 151.3V162.8M165 147.6V153.9M166 150.7V156.9M166 151.4V159.8M167 144.4V151M167 143.1V148.6M167 146.5V154.1M168 55.1V227.1M168 151V157.1M168 145.1V151M168 142.2V148.2M168 143V148M168 148.4V153.7M169 144.7V150.4M169 147V151.1M169 148.5V154.1M169 159.3V174.9M170 142.5V149M170 149.4V155.6M170 149.9V159.4M170 132.9V152.6M170 145.5V150.7M170 152.5V161.3M170 143.4V152M171 150.5V158.5M171 128.9V171M171 143.9V150.4M171 150.8V157.6M171 153.3V159.3M171 142.6V155.3M172 144.1V150.7M172 147.7V158.8M172 149.3V160.6M173 145.5V150.9M173 147.5V154.9M174 147.1V158.5M174 145.4V148.7M175 148.1V152.4M175 151.4V155.1M175 157.3V164.3M175 103.9V162M176 163.9V191.9M176 150.4V159.5M176 152.8V165.6M176 158.3V162.7M176 145.3V151.8M176 148.9V157.4M177 151.4V154.3M177 149.2V155.1M177 152.4V156.1M178 148.4V153.1M178 152V160.5M178 150.2V155.8M178 155.7V161.1M178 152.5V158.2M178 138.2V145M178 146.6V152.3M179 153.2V159.8M179 137.4V150.4M179 143.8V153.9M179 169.4V217.5M180 147.4V152.9M180 153.5V160.1M181 149.9V154.9M181 144.3V150.5M181 141.9V147.7M181 151.1V155.1M182 149.5V154.6M182 145.1V149.4M182 143.6V159.1M182 148.4V154.2M182 148.4V178.6M182 151V154.9M182 155.8V166.8M182 148.8V157.3M183 152V156.1M183 148.1V168.2M183 140.6V152.3M183 149.8V155.7M183 142.2V151.1M184 144.6V147.4M184 147.3V153.2M185 142.7V152.3M185 149.6V153.4M185 151.3V159.1M187 138.4V160.6M187 115.3V172.3M187 108.1V227.1M188 137.6V143.6M188 148.8V155.6M188 147.2V153.5M188 141.7V158.9M188 143.6V151.5M188 147.2V152.6M188 101.8V161.4M189 107.8V227.1M189 148.3V152.6M189 144.9V150.9M190 145.4V152.2M190 142.9V152.1M190 131.8V142.3M190 142.5V147.1M191 83.7V206.3M191 152.6V155.8M191 159.8V215.3M191 129.3V148.5M191 142.2V148M191 127.4V184.2M191 55.1V220M191 145.7V151.7M192 144.2V149M192 142V152.9M192 148.6V158.2M192 110.1V146.5M192 143.2V153M193 151.5V155.5M193 153.4V156.9M193 149.8V160.3M193 147.7V151.7M193 146.9V152.1M193 146.8V151M193 121.8V158.8M194 151.5V165.2M194 135.5V140.8M194 146.4V152.9M194 153.7V158.1M195 142.7V151.1M195 141.4V149.2M195 125.1V147.3M196 144.4V158.8M197 151.1V160.4M197 142.2V146.6M197 140.4V156.9M197 143.7V148.3M197 144.3V152.6M198 146V151.8M199 139.7V154.8M199 136V144.8M199 143.5V147.9M200 144.5V149.7M200 129.3V179.1M200 148.2V153M200 144.6V148.3M201 145.6V148.3M201 146.9V161.7M201 141.5V150.3M202 148.6V151.2M202 145.5V151.4M202 142.5V152.8M202 152.4V172.2M203 146V153.3M203 144.9V150.9M203 144.6V154M203 137.6V147.2M204 135.9V151M204 138.9V145.5M204 141.8V152.8M205 148.5V163.4M205 93V129.4M205 146.3V156.3M205 141.9V148.3M206 143.4V148M206 146.4V151.4M206 135.6V149.9M206 153V158.8M206 140.4V145.2M206 144.8V151.8M207 147.2V150.1M207 137.8V144.9M208 148.5V155.8M208 145.4V147.9M209 148.2V153.2M209 138.6V148.9M209 142.4V145.9M210 140.2V144.1M210 141.7V145.2M210 135.9V160.8M210 133.6V154.3M210 119.9V148.2M211 152.9V196.6M211 146.9V149.6M211 138.1V143.6M211 144.5V147.8M211 143.6V148.4M212 147.3V153.6M212 133.2V141.2M212 143.7V151M212 146.7V149.8M213 136.5V143.6M213 140V148.1M213 139V151.2M213 139.6V148.2M213 142.5V147M213 147V150.2M213 147V151.4M213 130.5V147.7M214 136.3V139.9M214 139.9V148.6M214 148.6V152.3M215 140.6V145.5M215 139.6V146.1M215 138.5V144.7M215 149.7V155.7M215 142.1V150.5M215 141V145.5M216 142.1V146.5M216 142V148.8M216 145.4V148.4M216 137.9V142.1M216 139.1V151.1M217 146.6V152.4M217 141.4V144.9M217 123.4V150.4M218 141V148M218 144.8V149.2M218 133.8V148.6M218 139.4V147.1M218 145.1V149.3M218 145.3V149.9M219 144.6V147.1M219 144.2V150.2M219 145.5V148.5M219 138.4V143.1M220 145.2V150.6M220 135V142.6M221 147.2V151.9M221 146.3V149.5M221 146.6V150.2M221 142.2V148.8M221 137.8V141.9M221 143.1V154M222 142.1V146.7M222 137.5V140.1M222 135.9V150.9M223 140.2V146.5M223 142.8V149M223 141.5V144.6M223 135.2V152.4M223 141.9V147.1M223 141.4V152.1M224 139.6V143M224 142V150.2M224 136.8V146.4M224 140.6V143.7M225 139.6V142.6M225 143.4V149.1M225 140.8V148.7M225 144.9V150.8M226 139.9V151.7M226 142.1V148.1M226 117.5V162.7M227 139.7V145.8M227 145.2V148.3M228 126.9V141.4M228 135.6V141.5M228 140.8V148.1M229 143.8V147.9M229 136V142.7M229 142.6V146.5M229 136.2V141.6M229 149.6V153.6M229 143.5V147.8M230 138.8V142.2M230 82.4V165.5M230 140.2V146.2M230 139.2V144.1M230 140.7V146M230 132.6V143.6M231 144.4V149.8M231 135.2V145.9M231 147.9V150.6M231 138.5V144.4M232 145.2V147.6M232 141.4V144.6M234 141.7V145.2M234 146.3V149M234 142.7V145.4M234 144.2V149.3M234 145.5V147.9M235 141.8V148M235 143V151M235 139.2V162.9M235 141.8V145.3M236 148.1V152.5M236 142.2V145.4M236 147.2V150.6M236 139.9V143M237 140.6V144.7M238 142.6V146.2M238 140.9V144.6M238 142.6V145.4M239 138.7V144.2M239 145.4V148.5M239 137V143.4M239 140.7V143.9M239 134V143.5M240 144.5V147.1M240 144.6V149.7M240 137.9V141.5M240 138.5V156.7M241 142.4V145.3M241 139.5V142.2M242 136.4V144.5M242 145.5V149.4M242 142.9V146.3M243 139.2V143.7M243 136.7V142.8M243 138.3V143.7M243 137.7V144.2M243 137.7V141.7M243 141.3V157.5M244 138.5V144.2M244 142.1V144.7M244 141.5V148.7M245 139.6V143.6M245 140.8V144.2M245 140.6V146.8M246 139.5V144.1M246 142.4V146M247 141.1V146M247 144.7V150.5M247 140.6V145.6M247 139V147.9M247 137.4V140.9M247 135V146.1M247 138.3V143.8M248 137.3V142.1M248 55.1V151.1M248 142.2V167.8M248 139.1V143.1M248 141.8V152M248 143.5V145.7M248 138.9V144.5M248 139.2V142.6M249 142.1V146.5M249 137.9V144.5M249 141.9V144.2M249 136.4V139.6M249 143.8V147.8M249 137.9V142.8M249 143.6V145.9M249 141.1V144.3M249 140.8V147.1M250 141.4V145M250 139.6V143.5M250 139.9V142.4M251 139.8V147.2M251 137.5V139.8M251 141.3V143.7M251 136.1V140.7M251 143V149.3M251 139.3V141.7M251 140.9V144.8M252 141V143.6M252 140.4V144M252 141.5V144.8M252 135.5V144.8M252 142V148.2M252 142.6V146.4M252 137.5V146.8M253 136.3V142.5M253 142.2V145.5M253 137.7V141M254 138.8V141M254 137.1V140.5M254 139.8V143.6M255 115V130.4M255 139.6V144.4M255 139.3V146.4M255 135.6V145.2M256 137.2V141.9M256 139.1V142.2M256 55.1V174.7M257 140.6V143.4M257 143.1V146.1M257 141.4V144.1M257 130.6V148.5M257 139.8V142.3M257 137.8V142.4M258 138.6V143.5M258 138.2V141.9M258 143.3V163.6M258 139.9V146.4M258 138.4V143.5M258 138.8V142.5M258 140V144.2M258 139.8V143.1M259 140.3V145.6M259 141V145.9M259 98.5V119.9M259 134.1V141.8M259 136.1V143M260 140V145.9M260 138V142M260 137.2V140.8M261 136.1V139.6M261 139V142.2M261 140.8V145.1M261 136.2V144M261 136.3V144.5M261 136V141.4M261 141.8V145.1M262 137.8V145.5M262 126.4V144.2M262 137.7V142.1M262 142.6V145.8M262 143.3V146.7M262 138.4V141.5M263 143.1V146.6M263 135.2V141.2M263 140.8V143.6M263 138.7V142.7M263 136.4V141.7M264 134.4V144M264 140.1V143.4M265 139.7V145.6M265 139.1V142.5M265 138.8V143.6M265 138.3V140.8M265 143.9V147.7M266 134V139M266 139.2V143.4M266 137.2V139.9M266 134.5V138.9M266 137.7V142.6M267 137.7V140.7M267 137.9V143M267 137.6V142M267 115.5V149.1M267 140.6V147.5M267 137.6V139.6M268 123.6V143.3M268 138.4V141.9M268 128.2V147.8M268 134.8V143.1M268 139.2V142.7M268 134.1V140.3M269 140.4V143M269 140.7V143.6M270 135.1V141.1M270 137.1V140.4M270 138.2V143.2M270 144.9V148.3M270 141.9V145.7M271 133.8V147.6M271 139.6V142.5M271 138.4V141.5M271 134.2V140.8M272 135.9V139.6M272 134.4V139.4M272 103.2V145.2M272 143.8V149.3M272 137.6V140.9M273 139.6V141.6M273 139.3V142.8M273 138.4V140.4M274 137.5V139.8M274 135.1V146.7M274 135.5V140.9M274 133.6V140.3M274 137.4V141.3M274 140V145M275 138.1V143.4M275 140V151.4M275 132.5V138.2M275 136.7V145.1M275 138.4V142.2M275 139.9V142.2M275 137.9V141M276 137.3V140.1M276 136V142.8M276 137.3V142.5M276 138.8V143.1M277 135.9V140.2M277 132.2V146.3M277 140V143.9M277 138.9V143.7M277 137.6V140.8M278 138.3V140.7M278 137.7V141M278 134.8V141M279 136.7V141M279 138.2V143.4M279 139.9V147M279 140.1V144M279 137.1V140.6M280 135.2V140.5M280 132.2V145.7M280 138V140.7M280 138.4V141.2M280 140.2V145.4M280 128.1V139.6M281 134.9V139.3M282 132.8V138.7M282 136.6V141.3M282 136.7V140.9M282 135.9V140.5M282 132.2V141.5M282 136.5V139.4M283 135.1V141.2M283 137.2V139.9M283 143.3V166.8M284 140V144.6M284 141.1V145.5M284 134.7V141M284 139.8V144M285 137.3V143.4M286 136.2V140.8M286 140V143.3M286 136.4V139.7M286 123.7V154.6M286 136.7V144.6M286 138.8V141.3M286 138.2V144.2M287 136.5V140.8M287 136.4V138.8M287 138.4V142.4M287 136.6V141.7M287 139.4V142.7M288 133.6V139.5M288 136.5V139.8M288 137.9V141.9M288 134.7V147.5M288 112.5V133.1M288 137.3V140.3M289 139.4V143.2M289 136.4V142.9M289 136V150.3M289 137.4V139.8M290 135.9V140.2M290 135.5V142.6M290 134.4V137.5M290 136.9V140.8M291 137.8V142.6M291 138.3V143.7M292 136.6V138.8M292 135.8V139.1M292 132.4V137.5M292 135.5V139.3M292 136.9V139.8M292 134.4V138.1M293 138.8V147M293 137.8V141.1M293 131.6V139.8M293 131.7V136M293 134.6V137.9M293 136.7V139.2M294 136.8V140M294 135.9V138.1M294 136.1V139.9M294 136.8V140.9M294 137V139.1M294 137V141.6M294 136.5V139.8M295 135.8V141.1M295 136.3V140.9M295 135V138.7M295 134.4V137.9M295 134.6V139.2M296 134.6V138.3M296 137.4V143.1M296 135.5V138.9M296 137.5V140.1M297 136.7V140M297 136V139.9M297 134.8V138.4M298 132.1V140.2M298 136.8V148.5M298 133.4V139.7M298 135.5V139M298 134.9V140M298 133.8V153.4M299 122.7V141.5M299 139.9V144.1M299 133.3V139M299 135V139.4M299 135.8V138.8M300 134.1V138.2M300 137.7V143M300 135.1V137.9M300 136.7V138.9M300 137.8V140.6M300 130.8V138.5M300 135.3V143.1M300 135.7V138.1M300 135.5V138.4M301 137.4V140.1M301 137.7V139.8M301 124.4V153M301 131.8V140.2M301 134.1V138.8M301 136.5V146.6M301 131.7V147.4M302 147.5V170M302 164.7V218.6M302 136.9V138.9M302 133.4V140.5M302 135.4V138.5M303 137.8V142.2M303 132.6V141.6M303 135.5V138.7M303 135.6V138.3M304 138.6V142.8M304 135.6V139.8M304 134.6V137.2M304 138.4V141.4M305 136.3V139.3M305 137.4V141.6M305 135.6V140.5M305 135.1V137.8M305 134.4V137.6M305 139V142.7M305 134.4V142.1M306 102.8V154.5M306 137.5V141.6M306 136.1V138.9M307 134.2V138.3M308 136.3V138.7M308 136.8V139.5M308 131.3V138.8M308 135.5V139.9M309 133.2V139.6M309 135.3V140.6M309 133.5V138.2M309 127.8V146.7M309 134.6V139.2M309 136.8V140.7M310 135.7V139.1M311 135.5V139.1M311 113.5V134.2M311 135.2V139.6M311 89V123.8M312 75V160.8M312 136.5V141.7M312 131.9V140.3M312 130.9V138M312 132.5V136.7M313 135.2V138.8M313 133.2V138.8M314 133.4V137.7M314 127.4V148.4M314 136.2V139M315 134.3V136.3M315 132V134.4M316 132.6V138.9M316 136.8V139M316 136.1V141.7M316 127.4V141.3M316 133.1V138.4M316 119.8V155M316 133V137M316 134.2V138M317 134.9V142M317 133.1V138.3M317 138.1V141.7M318 134V136.9M318 135.7V141.2M318 121V139.6M318 132.2V135.3M319 131.2V136.5M319 132.3V135.8M320 133.9V138.2M320 130.8V136M320 130.9V135M320 133.7V137.6M320 135.7V138M321 132.5V137.2M321 134.4V137.6M321 131.7V135M322 133.6V139.9M322 133V137.6M322 132V137.6M322 124.3V142.6M322 133.7V140.5M322 133.2V135.8M322 125.9V141.9M322 134.9V137.9M323 137.6V151M323 93.1V119.4M323 136.6V140.9M323 132.7V136M324 133.1V141.5M324 117.2V140.3M324 131.8V136.4M324 141.2V179M325 133.4V136.5M325 134V137.2M325 131.5V134.2M325 132.5V136.3M325 134.3V140.3M325 133.7V136.2M325 133.7V137.2M325 131.4V138.5M326 132.3V135.9M326 92.1V136.6M327 135.8V138.8M327 134.2V137.6M327 131.3V135.3M328 115.2V137.7M328 134.1V136.6M328 133.9V136.1M328 134.2V138.3M328 130.2V138.5M328 132.9V137.4M328 133.8V137.4M328 133.9V137.2M328 126.1V142.3M328 135.7V137.8M329 129.4V133.1M329 132.4V136.7M329 55.1V165.3M329 135V138.7M329 77.7V135.5M329 130V134.5M329 123.6V134.2M329 55.1V199.2M330 131.6V134.8M330 135V138.2M330 136.7V140.4M331 135.5V139.2M332 80.7V216.2M332 131V137.5M332 137.9V155.5M332 111.4V136.3M332 135.2V138.6M332 134.1V138.4M333 132.7V135.8M333 132.6V137M333 131.7V135.1M333 134.2V136.9M333 130V134.6M334 135.1V138M334 133.4V140.2M334 129.2V136.9M334 134.3V138.9M334 136.7V139.8M335 132.9V135.2M335 132.7V135.6M335 133.1V136.3M335 132.4V134.8M335 133.5V141.3M336 132.5V136.1M336 133.6V136M336 132.7V140.9M336 136V138.7M337 89.4V118.2M337 135.2V137.3M338 131.1V136.6M338 134.6V141.2M338 66.1V227.1M339 135.3V140M339 122V146.4M339 133.2V136.8M339 135.1V137.3M340 133.1V143.8M340 134V138M340 91.5V129.8M340 137V141.8M340 134.3V138.8M341 114.5V212.5M341 137.9V140.8M341 107.6V177M342 133V135.8M342 133.1V137.3M342 137.8V144.1M342 132.1V139.8M342 134.6V139.2M342 135.5V139M343 136.7V141.7M343 132.1V138.7M344 133.3V139.2M344 135.7V143.8M344 133.4V137.8M344 136V139.4M344 87.4V215M345 55.1V94.4M345 132.3V136.4M345 134.3V139.6M345 139.6V143.9M345 135.3V140.5M346 133.1V140.8M346 137.4V140M347 137.5V139.6M347 136.9V141.3M348 140.2V143.6M349 148.6V227.1M349 136.3V141.8M350 139V142.2M350 141.8V144M350 138.5V144.6M350 147.2V158.9M350 140.6V145.4M351 138.8V141.9M351 137.6V139.9M351 139.5V146.9M352 137V140.8M352 138V140.3M353 135.9V141.7M354 139.4V143.2M354 152.6V180M354 145.1V163.1M354 55.1V190.3M355 138.3V142.5M355 137.6V141M357 132.5V143.2M358 140.5V145.8M358 136.5V142.2M359 132.1V136.1M360 137.2V141.2M360 141.6V143.7M361 142.8V146.3M362 142.4V148M362 139.4V143.8M363 139V142.3M365 136.8V140.3M365 140.4V144.8M367 167.6V183.8M368 135.6V227.1M368 132.4V143.2M369 140V142.7M369 132.2V137.5M369 140.2V142.8M370 133.7V139.5M371 121.6V146.5M372 135.1V137.2M372 125.6V136.9M372 136.6V141.2M373 139.9V150.7M373 131.6V136.6M373 113.5V183.4M374 135.7V141.2M374 136.1V146.3M374 130V145.6M375 137.6V142.2M375 140.3V144.4M375 138V143.3M376 133.6V136.7M376 138.3V165.3M377 133.9V154M377 151.1V167.6M379 134.5V138.9M379 136.7V139.7M379 142V167.5M380 140.7V144.4M380 145.6V157.7M381 109.6V164.1M382 134.7V139.6M382 133.6V138.9M382 137.7V142.2M383 140.7V149.3M383 130.1V137.4M383 138.1V143.9M383 141.5V155.9M384 136.4V142.4M384 137V146.8M384 134.8V138.1M384 132.3V139.6M385 119.9V139.2M386 142.6V148.9M386 134.5V136.6M387 138.8V142.4M388 131.5V135.2M388 133.2V136.1M390 134.3V138.9M390 131.2V136.4M390 109.1V138.1M391 134.6V138M391 131V137.1M392 133.9V138.6M393 130.2V139.1M393 113V145.1M393 132.1V135.4M395 130.8V141.1M395 132.2V138.4M397 136.4V139.8M397 133.3V135.7M397 135.4V142.3M398 138.2V140.8M398 133V145.7M398 130.9V138.6M399 134.1V140.2M400 136.3V140.4M400 134.2V138.8M401 142.6V158.5M401 94.9V140M401 55.1V66M402 134.9V140.1M402 116.1V128.7M403 134.2V136.9M403 133.4V138.3M403 133V136.3M404 127V136.2M405 134.5V143M405 136.9V139.3M406 133.1V137.9M406 131.3V135.5M105 159.9V167.9M108 160.5V164.5M109 159.9V165.9M107 164.9V172.9M108 166.8V172.8M107 168.9V184.9M413 55.1V191M406 153.8V193.8M410 137.8V209.8M413 115.9V125.9M412 132.6V136.6M413 135V155M411 136.9V196.9M410 134V138M409 129V133M420 55.1V227.1M423 127V131M421 132V136M420 132.6V136.6M426 129.5V133.5M425 130.1V134.1M428 136V140M438 93V153M443 132.9V138.9M460 141.6V153.6M465 115.6V139.6M474 55.1V211.4M475 121.1V129.1M475 124V130M482 112.6V142.6M487 114V170M493 118.8V124.8M495 127.5V131.5M493 130V134M516 124.8V128.8M530 124V128M541 122.9V126.9M548 128V134M548 119.9V127.9M550 124.8V128.8M525 169.5V227.1M455 133.3V138.2M457 121.6V128.5M451 124.7V140.3M455 116.9V126.6M451 130.9V140.9M451 137.4V145.1M455 127V131.3M451 119.9V128.5M450 119.5V129.3M447 106.2V133M450 133.9V137.8M458 119.7V129.4M449 136.6V140.6M451 114.5V119.3M452 118.4V135.1M454 123.8V129.3M450 126.2V132.6M455 128.1V137.4M453 136.1V139.8M452 136.4V141.8M448 118.2V127.7M447 127.5V134.9M456 124.5V130.2M454 127.1V134.5M458 111.6V153.6M455 114.2V129M455 133.5V160.7M446 127.5V131.5M447 126.9V130.9M445 127.1V131.1M188 161V177M194 163V175M156 171.9V227.1M170 169.1V189.1M168 168V200" stroke="#d3d3d3" stroke-opacity="0.69" fill="none"/>
<path d="M115 164 115 167 116 145 118 80 119 186 119 145 119 114 119 185 120 154 120 225 121 85 121 181 122 84 122 164 122 121 122 157 122 155 122 145 123 158 124 109 124 177 125 151 125 144 125 185 125 119 125 155 125 107 126 157 127 146 127 127 127 137 127 141 128 139 128 133 128 142 128 172 129 140 129 74 130 75 130 188 130 137 130 224 130 113 130 134 131 141 131 180 132 144 132 158 132 154 132 100 133 144 133 80 133 133 133 145 134 192 134 151 134 119 134 62 134 153 134 95 134 115 135 126 135 157 135 130 136 135 136 175 136 124 137 155 137 147 137 188 137 91 137 116 137 108 138 154 138 140 138 136 138 132 138 140 139 158 139 98 139 124 139 119 139 142 139 139 139 155 139 164 139 145 139 157 140 81 140 134 140 143 140 127 140 145 140 161 140 94 140 132 140 144 141 148 141 153 141 130 141 199 141 135 141 175 141 149 141 147 141 139 141 81 141 140 141 150 142 151 142 141 142 109 142 146 142 148 142 143 142 153 142 150 142 185 142 154 143 186 143 141 143 142 143 144 143 160 143 144 143 148 143 145 143 135 143 138 143 144 143 149 143 141 143 145 143 142 143 161 143 186 144 147 144 145 144 146 144 139 144 147 144 149 144 150 144 148 144 118 144 137 144 159 144 111 144 170 144 143 144 146 144 137 145 152 145 154 145 144 145 141 145 146 145 155 145 146 145 120 145 150 145 130 145 144 145 83 145 144 145 137 145 151 146 140 146 141 146 143 146 140 146 137 146 173 146 142 146 151 146 144 146 142 146 142 146 129 146 145 147 164 147 171 147 144 147 146 147 146 147 154 147 144 147 209 147 124 147 135 147 150 147 148 147 146 147 152 147 143 147 201 147 147 147 161 147 143 147 156 147 149 148 138 148 155 148 145 148 153 148 150 148 150 148 149 148 144 148 147 148 147 148 106 148 145 148 147 148 146 148 141 148 154 149 150 149 144 149 142 149 145 149 145 149 134 149 90 149 151 149 151 149 143 149 137 149 141 150 148 150 147 150 148 150 145 150 123 150 124 150 141 150 141 150 149 150 142 150 156 150 151 150 138 150 137 151 147 151 146 151 151 151 77 151 156 151 154 151 151 151 171 151 143 151 139 151 140 151 148 152 152 152 147 152 145 152 158 152 144 152 151 152 151 152 157 152 129 152 142 152 151 152 150 153 141 153 154 153 150 153 162 153 145 153 153 153 147 153 142 153 167 153 148 153 135 153 140 153 148 153 144 154 153 154 141 154 148 154 150 154 152 154 147 154 149 154 143 154 156 154 155 154 145 154 146 154 127 154 147 154 152 154 155 154 146 154 147 154 126 155 159 155 146 155 147 155 157 155 142 155 156 155 138 155 182 155 162 155 142 155 148 155 127 156 152 156 152 156 143 156 149 156 146 156 148 156 136 156 146 156 66 156 145 157 153 157 145 157 125 157 140 157 144 157 146 157 152 157 149 157 144 157 152 157 154 157 154 157 159 157 149 157 151 157 149 157 148 157 152 157 155 158 159 158 147 158 157 158 145 158 162 158 148 158 154 158 157 158 151 158 145 158 162 158 146 158 149 159 143 159 152 159 144 159 184 159 148 159 148 159 150 159 111 159 153 159 145 159 140 159 154 159 149 159 137 160 141 160 143 160 148 160 153 160 151 160 159 160 144 160 144 160 139 160 151 160 147 160 157 161 144 161 150 161 149 161 155 161 147 161 156 161 146 161 148 161 157 161 152 161 154 161 153 162 149 162 135 162 153 162 176 162 147 162 151 162 137 162 157 162 151 162 146 162 154 162 170 162 147 162 154 162 124 163 156 163 154 163 144 163 168 163 160 163 154 163 184 163 161 163 149 163 148 163 141 163 156 163 153 163 154 163 154 164 162 164 153 164 145 164 156 164 156 164 151 164 152 164 185 164 146 164 138 164 152 164 147 164 155 164 148 164 186 164 153 164 154 165 156 165 150 165 152 165 144 165 149 165 159 165 163 165 157 165 153 165 148 165 150 165 151 165 149 165 151 165 150 166 150 166 168 166 154 166 156 166 151 166 157 166 119 166 149 166 145 166 151 166 153 166 164 166 147 166 156 166 149 166 145 166 155 166 139 167 162 167 148 167 152 167 170 167 146 167 148 167 143 167 168 167 146 167 159 167 150 167 151 167 154 167 147 167 147 168 157 168 138 168 154 168 148 168 154 168 146 168 158 168 145 168 146 168 151 168 151 168 159 168 149 169 152 169 154 169 149 169 148 169 152 169 149 169 152 169 146 169 157 169 151 169 167 169 149 169 150 169 135 169 155 169 154 170 156 170 146 170 142 170 155 170 152 170 152 170 155 170 143 170 148 170 147 170 148 170 148 170 157 170 145 170 158 170 147 170 154 170 148 170 156 170 148 171 135 171 146 171 155 171 150 171 154 171 150 171 151 171 157 171 147 171 148 171 154 171 152 171 154 171 156 171 149 171 152 171 152 172 147 172 151 172 147 172 153 172 142 172 177 172 179 172 147 172 150 172 170 172 153 172 155 172 148 172 155 172 156 173 150 173 148 173 148 173 148 173 133 173 151 174 153 174 147 174 141 174 152 174 147 174 148 174 158 174 157 174 154 174 154 174 145 174 161 174 148 174 150 174 143 174 156 174 144 174 155 175 155 175 150 175 145 175 153 175 144 175 150 175 153 175 153 175 152 175 145 175 161 175 133 175 157 175 172 175 152 175 130 176 159 176 149 176 144 176 144 176 178 176 101 176 155 176 159 176 148 176 150 176 160 176 161 176 157 176 153 176 144 176 149 176 153 177 154 177 145 177 155 177 153 177 148 177 154 177 147 177 152 177 146 177 145 177 144 177 153 177 155 177 154 178 116 178 151 178 130 178 147 178 151 178 156 178 156 178 152 178 153 178 148 178 151 178 153 178 158 178 155 178 142 178 149 178 150 178 150 178 153 178 146 179 157 179 150 179 107 179 150 179 159 179 149 179 150 179 149 179 148 179 156 179 144 179 156 179 149 179 149 179 156 179 151 179 193 180 155 180 153 180 143 180 149 180 156 180 150 180 145 180 157 180 151 180 153 180 151 180 150 181 152 181 152 181 150 181 148 181 147 181 150 181 149 181 145 181 148 181 153 182 155 182 152 182 147 182 148 182 151 182 152 182 151 182 164 182 157 182 153 182 161 182 154 182 153 182 151 182 151 182 147 183 143 183 154 183 158 183 151 183 153 183 147 183 146 183 157 183 146 183 162 183 153 183 149 183 145 183 146 183 157 183 154 183 147 183 149 184 148 184 153 184 146 184 146 184 151 184 150 184 155 184 150 184 150 185 147 185 151 185 152 185 147 185 152 185 151 185 152 185 153 185 150 185 155 185 152 186 144 186 152 186 144 186 157 186 148 186 145 186 148 186 156 186 154 186 148 186 152 186 121 186 154 187 144 187 151 187 156 187 146 187 177 187 149 187 167 187 144 187 169 187 150 187 135 187 148 187 153 187 150 187 154 187 153 187 148 188 146 188 153 188 141 188 152 188 141 188 150 188 148 188 150 188 149 188 148 188 149 188 149 188 150 188 150 188 150 188 148 188 149 188 132 188 151 188 138 188 149 188 150 189 154 189 187 189 151 189 144 189 151 189 150 189 145 189 149 189 139 189 155 189 125 189 146 189 153 189 148 189 152 189 147 190 144 190 151 190 154 190 164 190 189 190 150 190 149 190 158 190 147 190 139 190 145 190 137 190 145 190 141 190 150 190 143 190 161 190 157 191 149 191 150 191 145 191 146 191 150 191 149 191 154 191 150 191 152 191 151 191 146 191 188 191 139 191 145 191 155 191 156 191 92 191 149 191 150 191 153 191 153 192 147 192 148 192 147 192 149 192 153 192 143 192 155 192 128 192 151 192 142 192 148 192 153 192 148 192 149 192 143 192 154 192 153 193 154 193 132 193 152 193 147 193 148 193 155 193 147 193 146 193 155 193 155 193 148 193 150 193 149 193 149 193 140 194 153 194 154 194 144 194 146 194 158 194 138 194 146 194 154 194 154 194 146 194 132 194 150 194 150 194 150 194 156 194 145 195 144 195 142 195 150 195 161 195 147 195 141 195 148 195 147 195 147 195 157 195 145 195 136 195 152 196 153 196 149 196 139 196 143 196 115 196 152 196 145 196 153 196 161 196 155 196 142 196 152 197 148 197 156 197 145 197 147 197 148 197 144 197 150 197 149 197 151 197 149 197 146 197 150 197 139 197 149 197 155 197 146 197 151 197 148 197 132 198 152 198 146 198 159 198 139 198 145 198 147 198 199 198 150 198 144 198 149 198 173 198 152 198 150 198 149 199 144 199 147 199 150 199 149 199 158 199 150 199 155 199 150 199 147 199 146 199 146 199 143 199 151 199 145 199 140 199 142 199 146 199 142 199 142 200 149 200 147 200 154 200 154 200 151 200 141 200 147 200 147 200 149 200 152 200 136 200 146 201 151 201 144 201 144 201 151 201 152 201 147 201 146 201 139 201 147 201 154 201 145 201 146 201 145 201 150 201 144 201 150 201 141 201 148 201 146 201 149 201 145 201 141 202 151 202 145 202 150 202 145 202 149 202 150 202 148 202 147 202 144 202 152 202 150 202 141 202 148 202 143 202 162 202 139 203 150 203 150 203 144 203 143 203 148 203 144 203 149 203 145 203 146 203 149 203 148 203 146 203 152 203 151 203 142 203 143 204 146 204 146 204 146 204 145 204 152 204 151 204 142 204 147 204 143 204 141 204 154 204 152 204 152 204 147 204 142 204 148 204 147 204 145 205 151 205 144 205 149 205 156 205 146 205 111 205 151 205 145 205 151 205 142 206 149 206 143 206 146 206 147 206 143 206 147 206 146 206 150 206 149 206 149 206 143 206 156 206 147 206 154 206 143 206 148 206 147 206 145 206 140 207 148 207 148 207 147 207 148 207 146 207 145 207 146 207 149 207 131 207 144 207 149 207 147 207 148 207 157 207 147 207 141 208 146 208 143 208 151 208 144 208 147 208 152 208 153 208 146 208 149 208 149 208 131 208 147 208 153 208 140 208 141 208 148 208 148 208 146 209 146 209 151 209 138 209 143 209 144 209 147 209 148 209 139 209 144 209 142 209 151 209 146 209 151 209 146 209 145 209 151 210 147 210 142 210 145 210 144 210 150 210 148 210 143 210 152 210 131 210 149 210 148 210 130 210 145 210 147 210 139 210 149 210 144 210 134 211 150 211 141 211 175 211 148 211 130 211 181 211 144 211 144 211 138 211 144 211 141 211 149 211 143 211 147 211 143 211 146 211 145 211 146 212 150 212 148 212 148 212 153 212 154 212 137 212 152 212 147 212 146 212 143 212 142 212 145 212 149 212 144 212 144 212 146 212 139 212 137 212 148 212 146 212 144 213 140 213 148 213 146 213 149 213 149 213 144 213 144 213 150 213 143 213 145 213 145 213 144 213 146 213 147 213 142 213 144 213 144 213 145 213 144 213 149 213 149 213 139 213 146 213 151 213 147 214 146 214 138 214 151 214 150 214 144 214 148 214 141 214 150 214 145 214 148 214 150 215 143 215 143 215 143 215 143 215 148 215 146 215 145 215 142 215 142 215 127 215 144 215 153 215 146 215 143 215 145 215 146 215 141 216 142 216 146 216 81 216 149 216 144 216 144 216 155 216 145 216 147 216 147 216 143 216 147 216 145 216 146 216 151 216 140 216 145 216 142 216 142 216 144 217 139 217 145 217 145 217 145 217 150 217 146 217 144 217 151 217 143 217 146 217 149 217 149 217 137 217 147 217 140 217 149 217 147 217 134 217 147 217 145 218 144 218 138 218 141 218 145 218 146 218 145 218 147 218 144 218 147 218 141 218 147 218 149 218 143 218 147 218 143 218 142 218 145 218 146 218 147 218 148 218 143 219 152 219 146 219 141 219 143 219 144 219 140 219 143 219 144 219 147 219 142 219 147 219 144 219 142 219 143 219 141 219 146 220 151 220 151 220 145 220 145 220 147 220 146 220 147 220 143 220 149 220 148 220 149 220 147 220 147 220 139 220 146 220 142 220 140 220 155 221 150 221 150 221 144 221 145 221 153 221 153 221 144 221 147 221 148 221 162 221 145 221 143 221 138 221 148 221 145 221 140 221 142 221 143 221 149 221 144 222 149 222 143 222 146 222 144 222 146 222 145 222 142 222 144 222 143 222 139 222 143 223 143 223 146 223 146 223 160 223 144 223 143 223 144 223 144 223 144 223 148 223 138 223 147 223 146 223 149 223 147 224 141 224 142 224 149 224 144 224 144 224 129 224 149 224 146 224 144 224 148 224 148 224 146 224 142 224 145 224 142 224 142 225 144 225 141 225 146 225 143 225 144 225 149 225 144 225 120 225 145 225 141 225 155 225 144 225 144 225 142 225 147 225 148 225 145 225 149 225 144 226 142 226 132 226 144 226 147 226 147 226 141 226 137 226 146 226 145 226 148 226 147 226 148 226 134 226 146 226 140 226 148 226 142 227 146 227 148 227 147 227 144 227 143 227 147 227 147 227 145 227 149 227 145 227 144 227 145 227 154 227 145 227 144 227 149 227 146 227 149 227 146 228 148 228 134 228 142 228 146 228 149 228 145 228 145 228 138 228 139 228 152 228 145 228 151 228 142 228 147 228 144 228 147 228 145 228 136 228 144 228 143 228 147 229 146 229 142 229 145 229 148 229 144 229 154 229 146 229 139 229 139 229 145 229 147 229 139 229 152 229 152 229 146 229 142 229 149 229 146 229 145 230 140 230 148 230 123 230 140 230 147 230 124 230 144 230 143 230 148 230 141 230 142 230 143 230 138 230 147 231 146 231 141 231 144 231 147 231 141 231 147 231 139 231 142 231 144 231 142 231 146 231 146 231 141 231 145 231 141 231 140 231 145 231 149 231 144 231 141 231 159 231 141 232 145 232 146 232 144 232 148 232 143 232 108 232 142 232 144 232 146 232 147 232 142 232 142 232 144 232 142 232 141 232 147 232 143 232 160 232 145 232 142 232 102 232 144 233 146 233 145 233 143 233 144 233 149 233 142 233 146 233 140 233 144 233 148 233 141 233 142 233 144 234 143 234 144 234 149 234 148 234 144 234 143 234 147 234 143 234 144 234 148 234 147 234 146 234 147 234 145 234 147 234 141 234 144 234 144 235 140 235 147 235 142 235 146 235 145 235 147 235 146 235 141 235 151 235 149 235 145 235 144 235 144 236 144 236 150 236 144 236 135 236 144 236 145 236 142 236 149 236 146 236 141 236 143 236 145 236 145 236 146 236 142 236 141 236 148 236 141 236 145 236 142 236 141 237 144 237 141 237 144 237 142 237 145 237 143 237 143 237 145 237 146 237 146 237 141 237 145 237 135 237 139 237 146 237 146 238 145 238 144 238 144 238 139 238 145 238 146 238 143 238 144 238 144 238 144 238 144 239 141 239 147 239 138 239 140 239 142 239 139 239 145 239 143 239 140 239 143 239 143 239 141 239 144 240 146 240 147 240 144 240 142 240 147 240 142 240 142 240 139 240 144 240 164 240 144 240 147 240 148 240 147 240 140 240 146 240 143 240 142 240 145 240 136 240 148 240 147 240 144 241 147 241 144 241 147 241 141 241 143 241 137 241 146 241 138 241 137 241 143 241 138 241 141 241 142 241 139 241 142 241 144 241 141 241 144 242 141 242 140 242 145 242 128 242 139 242 145 242 147 242 145 242 142 242 142 242 143 242 141 242 141 242 145 242 143 242 144 243 141 243 140 243 141 243 144 243 141 243 141 243 146 243 143 243 144 243 142 243 140 243 145 243 149 243 147 243 151 243 143 243 140 243 146 244 143 244 141 244 140 244 145 244 128 244 147 244 144 244 141 244 145 244 143 244 141 244 145 244 146 244 145 244 132 244 141 244 148 245 144 245 143 245 142 245 140 245 143 245 143 245 145 245 142 245 141 245 142 245 144 245 140 246 142 246 179 246 151 246 145 246 144 246 141 246 141 246 144 246 144 246 142 246 145 247 143 247 140 247 143 247 146 247 144 247 145 247 144 247 148 247 143 247 143 247 139 247 142 247 145 247 141 247 141 247 146 247 141 247 143 247 142 248 146 248 144 248 140 248 97 248 141 248 144 248 140 248 146 248 155 248 139 248 145 248 142 248 146 248 146 248 141 248 147 248 145 248 142 248 143 248 141 249 137 249 143 249 144 249 143 249 143 249 141 249 143 249 143 249 141 249 143 249 144 249 144 249 138 249 141 249 146 249 142 249 142 249 140 249 143 249 145 249 145 249 143 249 144 249 144 250 141 250 143 250 142 250 142 250 141 250 141 250 140 250 146 250 145 250 142 250 141 250 136 250 143 250 148 250 143 250 143 250 143 250 142 250 143 251 142 251 144 251 141 251 139 251 142 251 143 251 140 251 145 251 146 251 138 251 149 251 146 251 140 251 140 251 146 251 143 251 140 251 145 251 142 251 143 251 138 251 154 251 143 251 143 251 144 252 142 252 142 252 143 252 140 252 143 252 145 252 145 252 138 252 132 252 143 252 142 252 143 253 141 253 139 253 144 253 138 253 143 253 142 253 143 253 140 253 147 253 141 253 138 253 144 253 144 253 139 253 142 254 145 254 140 254 139 254 133 254 140 254 138 254 141 254 144 254 143 254 139 254 143 254 144 254 142 254 140 254 142 254 142 254 140 254 144 254 142 255 146 255 144 255 143 255 141 255 123 255 142 255 142 255 143 255 141 255 141 255 140 255 142 255 141 255 140 255 144 255 143 256 139 256 144 256 146 256 147 256 146 256 140 256 144 256 144 256 156 256 141 256 110 257 141 257 145 257 140 257 142 257 145 257 137 257 140 257 142 257 145 257 143 257 144 257 137 257 140 257 141 257 139 257 140 258 141 258 141 258 140 258 141 258 140 258 141 258 153 258 139 258 141 258 143 258 140 258 141 258 141 258 142 258 141 258 141 258 139 258 141 258 140 258 142 259 141 259 144 259 140 259 140 259 142 259 143 259 143 259 140 259 109 259 146 259 143 259 142 259 138 259 144 259 144 259 142 259 140 259 141 259 142 260 147 260 138 260 143 260 140 260 138 260 143 260 139 260 138 260 141 260 142 260 139 260 141 260 144 260 141 260 142 261 138 261 138 261 140 261 122 261 145 261 140 261 142 261 140 261 137 261 141 261 140 261 144 261 143 261 140 261 143 261 140 261 145 261 139 261 141 261 140 261 139 261 115 261 143 262 126 262 142 262 135 262 141 262 140 262 140 262 138 262 142 262 145 262 142 262 144 262 142 262 145 262 142 262 140 262 140 262 142 262 143 262 149 263 143 263 145 263 142 263 141 263 138 263 140 263 141 263 141 263 138 263 143 263 142 263 141 263 143 263 139 263 140 264 142 264 143 264 144 264 151 264 139 264 144 264 151 264 137 264 140 264 142 264 68 264 146 264 140 264 144 264 139 264 139 264 141 265 143 265 140 265 143 265 138 265 141 265 135 265 140 265 137 265 141 265 142 265 140 265 146 266 143 266 136 266 140 266 141 266 137 266 139 266 141 266 141 266 137 266 139 266 141 266 143 266 140 267 142 267 139 267 147 267 144 267 144 267 140 267 140 267 140 267 132 267 140 267 140 267 144 267 140 267 140 267 139 268 142 268 133 268 142 268 141 268 130 268 139 268 136 268 139 268 142 268 138 268 140 268 138 268 138 268 139 268 143 268 140 268 139 268 139 268 141 268 137 268 143 268 137 268 136 268 140 268 139 268 140 269 116 269 141 269 142 269 143 269 150 269 140 269 139 269 142 269 141 269 139 269 137 269 140 269 145 269 140 270 138 270 139 270 140 270 139 270 140 270 136 270 144 270 141 270 142 270 142 270 142 270 143 270 147 270 137 270 144 270 142 270 143 271 151 271 141 271 141 271 139 271 142 271 140 271 144 271 140 271 137 271 140 271 138 271 141 271 141 271 141 271 141 271 141 271 139 271 137 271 141 271 141 271 138 271 138 271 138 271 141 272 142 272 139 272 137 272 140 272 137 272 138 272 137 272 139 272 138 272 107 272 124 272 138 272 141 272 141 272 147 272 139 272 122 272 138 272 142 272 139 272 139 273 141 273 141 273 143 273 141 273 141 273 145 273 143 273 141 273 137 273 139 273 144 273 141 273 139 274 139 274 137 274 140 274 141 274 139 274 137 274 141 274 140 274 139 274 138 274 137 274 138 274 139 274 143 274 141 275 141 275 141 275 139 275 146 275 141 275 140 275 135 275 137 275 140 275 140 275 138 275 140 275 141 275 140 275 140 275 140 275 135 275 141 275 139 275 142 275 139 276 142 276 139 276 140 276 139 276 139 276 139 276 138 276 141 276 137 276 142 276 140 276 140 276 141 276 138 276 141 276 140 276 140 276 141 276 140 276 140 277 138 277 139 277 141 277 139 277 137 277 146 277 139 277 137 277 142 277 144 277 142 277 141 277 143 277 139 278 147 278 142 278 139 278 139 278 140 278 140 278 137 278 137 278 138 278 136 278 136 278 139 278 140 278 138 278 146 278 139 279 139 279 141 279 139 279 138 279 142 279 141 279 143 279 140 279 138 279 141 279 139 279 141 279 142 279 138 279 138 279 142 279 139 279 141 279 142 279 126 280 144 280 137 280 138 280 137 280 142 280 138 280 136 280 141 280 137 280 138 280 139 280 140 280 139 280 136 280 139 280 138 280 140 280 143 280 143 280 134 281 132 281 137 281 139 281 140 281 125 281 139 281 137 281 137 281 144 281 142 281 138 281 137 281 141 281 138 281 138 281 140 281 138 281 139 282 138 282 138 282 136 282 139 282 138 282 135 282 140 282 142 282 140 282 139 282 139 282 149 282 139 282 138 282 139 282 136 282 140 282 136 282 140 282 135 282 137 282 138 283 138 283 137 283 140 283 140 283 140 283 138 283 139 283 136 283 155 283 138 283 140 283 135 283 138 284 142 284 141 284 143 284 136 284 139 284 140 284 138 284 139 284 139 284 141 284 139 284 142 285 138 285 138 285 140 285 141 285 139 285 137 285 137 285 142 285 141 285 140 285 140 285 138 285 139 285 137 285 138 285 139 285 138 286 138 286 140 286 139 286 143 286 139 286 142 286 138 286 141 286 138 286 139 286 139 286 142 286 140 286 138 286 141 286 140 286 140 286 140 286 137 286 136 286 139 286 140 286 138 286 139 286 141 287 140 287 139 287 140 287 138 287 138 287 141 287 140 287 139 287 141 287 137 287 139 287 138 287 137 287 142 287 138 287 141 288 139 288 139 288 140 288 139 288 137 288 136 288 138 288 142 288 138 288 140 288 141 288 138 288 138 288 123 288 138 288 139 288 137 288 139 289 141 289 137 289 140 289 139 289 137 289 135 289 140 289 143 289 139 289 135 289 139 289 139 290 138 290 138 290 141 290 139 290 138 290 139 290 138 290 139 290 139 290 140 290 139 290 139 290 137 290 136 290 141 290 139 290 139 291 140 291 135 291 139 291 141 291 140 291 136 291 150 291 139 291 140 291 141 291 138 291 137 291 142 291 134 291 138 291 141 292 138 292 138 292 139 292 138 292 139 292 137 292 137 292 140 292 135 292 138 292 139 292 139 292 137 292 138 292 146 292 140 292 139 292 138 292 138 292 136 293 139 293 138 293 142 293 143 293 139 293 140 293 136 293 137 293 149 293 134 293 136 293 141 293 139 293 137 293 138 293 138 294 138 294 137 294 138 294 135 294 139 294 138 294 136 294 139 294 139 294 138 294 139 294 139 294 138 294 138 294 203 294 140 294 135 294 137 294 138 294 138 295 138 295 139 295 137 295 138 295 139 295 153 295 138 295 139 295 136 295 139 295 141 295 137 295 138 295 138 295 138 295 138 296 136 296 141 296 139 296 140 296 137 296 135 296 139 296 137 296 134 296 139 296 139 297 138 297 138 297 138 297 138 297 136 297 138 297 136 297 137 297 138 297 137 297 141 297 137 298 136 298 136 298 140 298 138 298 138 298 143 298 137 298 139 298 131 298 137 298 136 298 137 298 137 298 147 298 139 298 137 298 137 298 144 298 138 298 139 298 139 298 138 298 139 298 139 298 136 299 132 299 142 299 136 299 135 299 137 299 138 299 139 299 140 299 137 299 139 299 139 299 136 300 138 300 129 300 136 300 140 300 136 300 132 300 140 300 140 300 112 300 138 300 140 300 139 300 139 300 135 300 137 300 139 300 137 300 137 300 137 300 138 300 137 300 137 300 141 301 139 301 139 301 137 301 138 301 138 301 136 301 138 301 138 301 138 301 139 301 142 301 135 301 138 301 138 301 139 301 136 301 136 301 138 301 138 301 136 301 136 301 136 301 142 301 140 302 139 302 142 302 159 302 192 302 136 302 137 302 138 302 138 302 137 302 133 302 136 302 140 302 137 302 137 302 137 303 140 303 137 303 139 303 140 303 139 303 137 303 137 303 137 303 137 303 139 303 141 303 136 303 136 303 139 304 136 304 137 304 137 304 141 304 138 304 138 304 138 304 137 304 136 304 135 304 135 304 140 305 136 305 139 305 139 305 136 305 138 305 137 305 139 305 138 305 138 305 136 305 136 305 136 305 141 305 138 305 152 305 138 306 129 306 138 306 139 306 139 306 137 306 117 306 135 306 140 306 137 306 137 306 138 306 135 306 138 306 138 306 136 307 137 307 136 307 145 307 138 307 135 307 137 307 118 307 140 307 139 307 136 307 124 307 136 307 136 307 138 308 137 308 141 308 138 308 139 308 137 308 138 308 137 308 138 308 136 308 137 308 138 308 136 308 137 308 140 308 139 308 128 308 138 308 135 308 136 308 138 309 136 309 138 309 137 309 138 309 138 309 135 309 136 309 137 309 137 309 134 309 138 309 137 309 137 309 139 310 130 310 138 310 140 310 136 310 137 310 140 310 137 310 135 310 136 310 138 310 136 310 137 310 136 310 136 310 138 311 140 311 134 311 135 311 98 311 137 311 137 311 136 311 136 311 172 311 124 311 139 311 137 311 137 311 141 311 136 311 137 311 138 311 137 311 136 311 106 312 138 312 118 312 139 312 136 312 138 312 136 312 135 312 134 312 139 312 136 312 138 312 137 312 135 312 139 312 135 312 136 313 138 313 135 313 137 313 137 313 137 313 134 313 136 313 136 313 135 313 137 313 135 313 136 313 147 313 137 313 136 313 136 313 134 313 135 314 136 314 138 314 136 314 136 314 136 314 138 314 138 314 137 314 139 314 138 314 137 315 135 315 138 315 130 315 133 315 136 315 136 315 136 315 136 315 136 315 135 315 137 315 137 315 125 315 138 315 134 315 133 315 136 316 136 316 137 316 138 316 137 316 139 316 135 316 137 316 135 316 137 316 137 316 132 316 135 316 138 316 135 316 134 316 138 316 134 316 137 316 136 316 135 316 137 316 138 316 135 316 136 317 133 317 133 317 136 317 135 317 129 317 138 317 137 317 135 317 135 317 137 317 136 317 135 317 136 317 137 317 140 317 138 318 136 318 137 318 135 318 135 318 138 318 135 318 135 318 130 318 136 318 136 318 137 318 134 318 135 319 132 319 135 319 132 319 137 319 139 319 138 319 133 319 136 319 135 319 135 319 134 319 136 319 134 319 134 319 137 320 136 320 136 320 137 320 136 320 136 320 133 320 135 320 134 320 134 320 133 320 137 320 133 320 133 320 137 320 139 320 135 320 140 320 136 320 136 320 135 320 137 321 136 321 137 321 137 321 135 321 135 321 126 321 137 321 128 321 139 321 137 321 136 321 134 321 115 321 132 321 138 321 137 321 135 321 133 322 137 322 135 322 135 322 136 322 138 322 136 322 136 322 137 322 135 322 133 322 134 322 137 322 137 322 134 322 134 322 137 322 136 322 135 323 144 323 135 323 146 323 137 323 106 323 133 323 139 323 138 323 135 323 134 324 133 324 137 324 136 324 135 324 172 324 138 324 139 324 134 324 129 324 132 324 141 324 134 324 138 324 134 324 160 324 135 324 135 324 135 324 136 324 137 325 135 325 135 325 133 325 136 325 136 325 137 325 148 325 133 325 136 325 136 325 135 325 134 325 137 325 135 325 135 325 135 325 135 325 140 325 141 326 135 326 135 326 132 326 134 326 132 326 141 326 134 326 132 326 133 326 134 326 114 326 133 327 137 327 137 327 167 327 140 327 136 327 123 327 140 327 133 327 135 327 165 327 137 327 153 327 134 328 126 328 135 328 135 328 136 328 136 328 134 328 135 328 135 328 136 328 86 328 134 328 136 328 133 328 137 328 139 328 210 328 135 328 119 328 134 328 132 328 135 328 137 328 151 328 137 329 131 329 135 329 136 329 97 329 137 329 133 329 137 329 135 329 138 329 135 329 107 329 132 329 129 329 136 329 126 329 135 329 136 330 137 330 135 330 134 330 137 330 135 330 133 330 137 330 139 330 135 330 178 330 135 330 136 330 135 331 137 331 137 331 132 331 133 331 134 331 135 331 136 331 137 332 136 332 133 332 148 332 134 332 134 332 136 332 138 332 147 332 134 332 139 332 124 332 151 332 136 332 134 332 137 332 135 332 133 332 136 332 138 332 136 332 135 332 137 332 134 332 138 333 134 333 77 333 137 333 135 333 178 333 138 333 133 333 137 333 138 333 134 333 127 333 138 333 102 333 127 333 136 333 136 333 134 333 138 333 140 333 164 333 135 333 132 333 138 333 134 334 138 334 131 334 137 334 133 334 75 334 137 334 137 334 136 334 135 334 133 334 135 334 137 334 137 334 136 334 136 334 138 334 134 334 145 334 138 334 135 335 138 335 134 335 135 335 137 335 134 335 135 335 134 335 134 335 139 335 134 335 137 335 133 335 139 336 135 336 134 336 133 336 135 336 118 336 142 336 136 336 139 336 137 336 135 336 137 336 136 336 118 336 132 337 196 337 135 337 104 337 136 337 134 337 140 337 136 337 134 337 135 337 139 337 137 337 135 338 139 338 134 338 133 338 134 338 137 338 138 338 137 338 181 338 199 338 136 338 138 338 136 338 136 338 136 339 136 339 136 339 138 339 137 339 136 339 133 339 134 339 135 339 148 339 136 339 132 340 138 340 136 340 134 340 111 340 157 340 136 340 138 340 137 340 139 340 136 340 137 340 136 340 134 340 137 340 136 341 143 341 135 341 136 341 133 341 101 341 138 341 135 341 163 341 135 341 128 341 137 341 139 341 142 342 155 342 138 342 135 342 134 342 125 342 142 342 135 342 141 342 109 342 136 342 137 342 137 342 130 342 128 342 158 342 137 343 139 343 135 343 135 343 145 343 136 343 137 343 136 343 136 343 135 343 137 343 141 343 138 343 138 343 139 343 137 343 138 344 136 344 140 344 137 344 136 344 134 344 136 344 137 344 139 344 139 344 136 344 137 344 112 344 138 344 151 344 140 344 139 344 137 345 74 345 134 345 138 345 137 345 152 345 140 345 142 345 136 345 138 345 141 346 134 346 137 346 141 346 137 346 137 346 140 346 149 346 139 347 139 347 112 347 140 347 139 347 136 347 135 347 139 347 137 347 135 347 136 347 137 347 141 348 131 348 141 348 141 348 123 348 140 348 138 348 138 348 141 348 142 348 145 348 140 349 139 349 180 349 137 349 141 349 134 349 195 349 138 349 139 350 140 350 141 350 143 350 142 350 142 350 153 350 134 350 143 351 139 351 140 351 142 351 137 351 136 351 141 351 138 351 140 351 140 351 139 351 144 351 142 351 143 352 140 352 125 352 143 352 138 352 139 352 139 352 150 353 139 353 138 353 142 353 136 353 103 354 141 354 140 354 139 354 139 354 166 354 154 354 117 354 138 355 140 355 149 355 140 355 143 355 117 355 139 355 141 355 134 355 170 355 139 355 116 356 137 356 141 356 141 356 139 356 141 356 137 356 139 357 138 357 140 357 141 357 139 357 138 357 138 357 141 358 140 358 143 358 142 358 143 358 138 358 116 358 107 358 139 358 143 358 142 358 138 359 134 359 138 359 197 360 139 360 133 360 139 360 141 360 140 360 113 360 141 360 143 360 142 360 139 360 141 361 163 361 139 361 140 361 145 361 145 361 136 361 139 361 139 361 137 362 139 362 145 362 138 362 142 362 132 363 95 363 141 363 129 364 137 364 163 364 194 364 146 364 142 364 136 364 125 364 141 364 137 364 135 364 138 365 137 365 143 365 168 365 139 365 141 365 143 365 141 365 138 365 138 365 143 366 141 366 143 366 140 366 131 366 132 366 145 366 138 366 141 366 139 366 141 367 136 367 141 367 142 367 176 367 142 367 140 367 127 368 192 368 139 368 138 368 115 368 144 368 137 368 134 368 138 369 141 369 135 369 140 369 142 369 137 370 141 370 137 370 136 370 139 370 139 370 138 370 188 370 143 370 140 370 130 371 134 371 139 371 138 371 141 371 133 371 138 371 137 371 136 371 141 371 140 371 120 372 136 372 140 372 133 372 140 372 141 372 131 372 139 373 130 373 145 373 139 373 134 373 148 373 138 373 142 373 139 373 139 373 140 373 140 373 139 374 138 374 140 374 141 374 139 374 175 374 141 374 138 375 140 375 138 375 140 375 136 375 137 375 132 375 142 375 143 375 134 375 141 376 142 376 130 376 135 376 134 376 152 376 140 377 138 377 169 377 137 377 144 377 137 377 140 377 159 377 153 377 140 377 139 378 138 378 139 378 131 378 139 378 136 378 141 378 137 378 138 378 150 378 135 378 137 379 137 379 138 379 138 379 140 379 138 379 121 379 155 379 149 379 137 380 136 380 144 380 98 380 102 380 143 380 140 380 204 380 135 380 152 380 138 381 189 381 142 381 135 381 137 381 143 382 139 382 137 382 135 382 138 382 136 382 140 382 138 383 138 383 145 383 136 383 139 383 136 383 138 383 134 383 141 383 138 383 136 383 139 383 135 383 149 383 137 383 139 383 135 383 140 384 136 384 134 384 138 384 139 384 142 384 138 384 136 384 178 384 143 384 136 384 135 384 58 385 136 385 130 385 134 385 140 385 130 385 139 385 139 385 138 385 138 386 146 386 139 386 136 386 139 386 136 386 138 386 137 387 137 387 137 387 139 387 138 387 134 387 161 387 134 387 134 387 141 387 134 388 141 388 137 388 141 388 133 388 136 388 135 388 135 388 136 388 135 389 143 389 147 389 131 389 132 389 137 389 137 389 139 389 133 390 137 390 137 390 134 390 138 390 124 390 143 390 136 391 137 391 136 391 133 391 134 392 136 392 136 392 137 392 137 392 138 392 136 392 140 392 136 392 146 392 135 393 138 393 139 393 135 393 135 393 137 393 129 393 142 393 134 393 135 394 137 394 135 394 109 394 137 394 140 394 136 394 110 394 144 394 138 394 131 395 136 395 135 395 137 395 137 395 131 396 173 396 136 396 133 396 139 396 135 396 138 397 136 397 138 397 134 397 136 397 134 397 134 397 134 397 135 397 157 397 139 397 139 397 135 397 132 398 140 398 131 398 137 398 138 398 139 398 140 398 89 398 135 399 141 399 136 399 139 399 137 399 138 400 138 400 135 400 137 400 134 400 135 400 134 400 136 400 134 400 136 401 139 401 151 401 117 401 138 401 129 401 136 402 108 402 137 402 132 402 133 402 131 402 122 402 134 403 132 403 138 403 136 403 145 403 136 403 135 403 135 403 141 404 133 404 132 404 133 404 124 404 134 404 141 405 139 405 127 405 138 405 133 406 140 406 134 406 136 406 158 406 137 406 136 406 133 406 133 406 134 406 119 103 163 105 164 105 165 107 150 107 157 108 159 108 162 108 163 109 163 108 166 107 169 108 170 108 171 109 172 110 170 111 147 112 174 107 177 113 154 114 164 115 181 111 189 413 115 404 170 404 176 406 174 410 174 400 200 421 219 413 121 411 126 412 131 409 135 411 138 412 135 413 145 415 150 411 167 408 134 410 136 408 138 409 131 414 134 416 133 415 137 417 135 420 109 421 127 420 129 419 131 423 129 421 134 420 135 422 133 424 135 426 132 425 132 421 138 425 140 422 144 422 149 427 151 429 163 428 135 428 138 431 134 431 138 432 141 431 113 437 59 438 123 438 132 441 128 441 133 443 133 443 136 460 148 465 128 464 131 466 134 465 136 465 138 464 128 474 126 475 125 475 127 475 130 476 132 473 141 475 139 479 125 478 128 482 128 487 142 493 122 491 127 492 127 496 126 497 126 495 130 493 132 494 143 496 92 496 112 500 131 502 142 500 164 509 127 511 123 512 124 511 128 515 127 516 127 518 121 519 120 521 115 524 105 521 125 520 130 524 127 526 126 525 132 528 132 522 145 525 143 530 126 531 126 532 129 534 125 537 125 539 125 541 125 539 130 542 127 543 128 545 130 546 126 548 131 548 124 549 122 550 127 551 128 553 119 449 130 455 136 448 126 451 138 458 137 454 130 450 129 457 125 456 130 452 126 451 131 455 136 451 132 456 121 455 122 451 136 450 132 454 136 451 141 455 129 455 130 451 124 451 134 453 122 456 126 450 124 447 120 448 125 451 133 450 136 457 135 451 129 450 134 449 128 448 134 453 126 458 125 453 128 455 134 449 139 455 133 451 117 455 131 452 127 454 127 450 129 448 128 454 133 455 133 449 128 456 126 453 138 450 130 447 122 448 132 447 140 452 135 452 139 454 126 453 129 450 142 457 127 449 120 453 137 455 126 453 139 450 136 448 123 456 120 458 131 456 124 447 131 451 136 456 126 452 133 452 134 455 125 455 130 456 127 454 131 452 133 451 127 458 133 453 129 450 133 456 129 456 127 450 119 455 122 450 118 448 143 452 131 455 147 453 149 451 150 451 142 450 148 452 100 450 111 450 114 446 129 446 130 447 129 446 128 445 129 454 156 451 158 453 159 452 167 449 174 188 169 191 174 194 169 196 175 194 179 193 182 194 184 197 183 197 187 194 197 196 198 195 80 197 85 196 95 159 174 160 182 159 199 156 202 152 214 170 176 170 179 168 184 171 215 171 218 180 184 178 210 180 222 181 223 174 75 174 77 174 87" fill="none" marker-start="url(#m)" marker-mid="url(#m)" marker-end="url(#m)"/>
</g></g>
<g clip-path="url(#c2)"><g transform="translate(.5 .5)">
<path d="M119 314.2V428.7M119 256.7V428.7M122 256.7V428.7M122 273.8V330M122 298.4V350.6M129 256.7V428.7M129 282.2V401.3M130 256.7V428.7M130 256.7V353.2M130 284.9V365.3M131 256.7V308.4M134 316.4V428.7M134 318.7V428.7M134 321.5V428.7M134 258.2V411.3M136 256.7V389.2M137 295.6V339.9M137 317.9V409.8M138 319.4V364.9M139 313.4V357.8M139 296.8V373.8M139 313.9V375.4M140 309.8V352.3M141 304.1V345.6M141 256.7V305.1M141 323.7V345.7M143 288.3V428.7M143 318.3V362.1M143 328.4V344M143 315.8V352.7M143 331.3V352.8M143 341.1V354M143 271.1V352.1M144 309.7V362.9M144 291.9V311.9M144 325.4V336.1M145 337.2V359.1M145 313.8V334.3M145 309.8V346.2M145 318.4V328.1M145 326.3V345.5M146 326.7V341.3M146 323.2V348.4M146 309.9V398.6M147 318.6V336.7M147 328.9V347.1M147 345.2V379.7M147 330V345.9M147 328V334.9M147 269V382.3M148 315.3V330.1M148 309.6V353.2M149 319.4V328.8M149 335V428.7M150 321.1V331.9M150 336.4V346.7M150 330.9V355.3M150 312.1V342.7M151 351.7V370.2M151 325.9V340M151 310.5V365M151 319.1V352.1M152 326.5V348.5M152 338.2V345.9M152 311.9V335.6M152 315.3V356.7M152 307.3V336.7M154 332.5V355.2M154 327.9V340.4M154 316V341.6M154 311.1V322.4M154 323.9V370.1M155 285.6V340.1M155 324.6V345.6M155 335.3V344.1M156 317.7V342.5M156 332.7V349.8M157 331.8V355.8M157 336.3V346.5M157 334.7V347.7M157 328.1V340.7M157 333.9V348.9M157 333.5V349.1M158 337.4V359M158 330.6V338M159 314.5V349.8M159 316.2V325.4M159 283.2V428.7M159 299.9V323.3M160 332V348.1M160 320.4V340.8M160 330.2V343.6M160 312.4V352.7M160 328.5V347.7M161 333V355.3M161 326V343.2M161 330V340.5M161 318.9V335M162 328.8V337.6M162 316.7V342.7M162 329V339.8M162 331V339.2M162 330.7V347.1M163 323.3V341M163 331.7V346.5M163 319.5V405M163 334.5V357.4M163 316.7V353.6M164 325.4V345.8M164 337.1V349.9M165 319V340.1M165 335.8V346M165 341.1V360.7M166 341.1V354.1M166 317.8V335.3M166 281.2V412.7M166 335.9V342.8M166 315.7V337.4M166 304.6V378.5M167 325.1V343.8M167 332.2V343.7M167 307.5V342.2M168 328.9V339.9M168 325.9V334M168 340V355.7M169 342.2V354.2M169 336.6V344.1M169 324.7V348.6M169 340.2V346.6M169 325.5V340.2M170 325.5V341.2M170 334.3V359.7M170 328.7V338.1M170 330V346.5M170 326.5V350M170 329V346.7M171 334V342.9M171 328.9V338.5M172 376.6V401.8M172 362V375.6M172 327.7V349.1M172 328.2V342M173 329.5V346.2M173 309.4V363.8M173 331.3V343.6M174 332.2V345.2M174 310.2V381M174 323.2V348.6M175 313.1V342.9M175 342.6V351.5M175 339.2V350.4M175 335.6V350M176 329.6V345.1M176 330.3V355.6M176 334.3V342.2M177 316.7V397M177 336.7V349.1M177 338.1V348.1M177 336V347.6M178 332.2V341.1M178 322.1V343.5M178 330.3V348.8M178 318.7V336.8M178 340.4V354.7M178 333.2V353M178 338.7V351.5M179 336.8V345.1M179 321.6V345.2M179 307.4V314.9M179 332.7V364.8M179 345.8V356.8M179 297.1V316M179 327V375.1M180 332.8V352.6M180 329.1V338.9M180 326.3V342.6M181 306.8V324.4M181 329.4V341.6M181 335.6V350.8M182 348.9V365.1M182 326.1V339.6M182 336.3V347.6M182 329V349.8M182 336.8V346.3M183 325.3V343.5M183 326V336.6M183 334.9V351.2M184 325.3V339.5M184 312.5V428.7M184 288.5V356.6M185 326.8V338.1M185 328.4V338.8M186 333.7V364.9M186 329.6V355.6M186 327.8V346M187 335.7V343.4M187 329.9V348M188 330.2V341.2M188 325.5V336.7M188 332.6V362.8M188 335.6V351.1M189 339.5V352.7M189 318.5V386.6M189 344.2V353M189 330.9V339.1M190 327.7V349.7M190 329.3V353.3M190 349.5V371.1M190 330.2V335.8M190 335.5V345M190 330V343.5M191 335.8V343M191 331.8V341.6M191 335.2V340.1M192 308.1V320.4M192 339.1V343.5M192 337.5V348.5M192 315.4V356.2M192 338.3V347.9M192 334.8V343M192 328.8V340M193 291.3V365.6M193 337.2V346.6M193 337.2V345.6M194 326.1V337.9M194 332.5V348.1M194 331.1V340.9M195 335.3V370.6M195 326.6V347.6M195 328.8V347.5M196 350.2V372.3M196 328.3V343.5M197 336.6V349.8M197 339.9V348.2M198 346V357.8M198 329.1V346.5M199 340.6V346.8M199 319.7V356.1M199 341.7V351.2M199 336.1V352M200 286.1V372.7M200 331.1V344.6M200 329.9V349.1M201 320.8V347M201 342.5V354.5M201 329.9V342.7M202 335.5V338.1M202 334.3V348.3M202 340V344.8M202 325.2V350.1M203 342V346.9M203 341.6V347.2M203 343.3V349.5M203 337.4V348M203 335.8V348.2M204 351.4V358.3M204 336.6V347.7M204 335.2V340.7M204 332.1V352.8M204 338.1V343.7M206 342.1V352.4M206 338.3V345.7M206 342.1V347.3M206 344.4V354.1M206 337V345.6M206 350.1V360.8M206 339.7V348M206 333.5V343.5M207 332V338.8M207 341.9V350.5M207 339.5V346.4M207 341.2V347.3M207 302.7V351M207 342.5V347.7M207 337.7V353.7M207 329.2V337.8M208 334.3V339.8M208 344.5V350.6M208 339.4V349.5M208 344.1V350.7M208 345.6V348.8M209 342.9V348.6M209 339.9V346M209 340.5V343.6M209 337.5V343.3M210 339.2V350.1M210 340.6V344.3M210 331.9V340.1M210 334.9V347.3M210 344.8V349.6M210 342.6V373.3M211 342.5V350.2M211 344.2V347.9M212 337.8V347M212 333.2V345.7M212 340.1V345.8M212 316.9V347.1M213 338.2V342.5M213 338.3V349.7M213 344.7V350.9M213 348.9V354.7M213 337.9V345.7M213 339.2V346.5M213 350.2V353.6M213 343.5V349M213 340.2V345.4M214 342.6V347.4M214 328.3V335.3M214 330.9V342.7M215 333.4V341.6M215 341.2V353.8M215 341.9V346.3M215 341.4V344.8M215 339.4V347.2M216 338.7V343.2M216 337.1V347.7M217 334.7V343.3M217 340V348.5M217 339.3V351.2M217 340.7V347M217 329.6V342.4M217 341.5V348.2M218 343.1V349.3M218 336.4V347.4M218 338.5V343.6M218 337V343.3M218 339V349.4M218 342.2V348M219 333.6V339.3M219 339.6V345.5M219 340.5V347.3M219 335V345.4M220 332.4V338M220 339.4V349.7M220 337V349.5M221 344.6V353.3M221 335V345.1M221 344.7V347.8M222 340.4V344.7M222 339.1V345.7M222 342.1V349.1M222 339.8V344.7M222 338.7V342.5M222 346.8V350.7M223 334.8V349.9M224 345.1V349.4M224 342V345.2M224 323.7V334.5M224 344.5V349.7M225 344.1V348.6M225 333.7V340.5M225 338.5V345.8M226 341.2V346.5M226 331.2V338.3M226 330.8V354.2M226 340.6V346.1M226 339.4V350.8M226 334.8V338.8M227 341.1V344.1M227 338.1V340.9M227 329.8V355.3M227 335.6V339.2M228 335.8V356.5M228 340.4V347.1M228 340.6V343.7M229 347.5V351M229 336.6V354.6M229 336.4V342M229 338.5V346M229 340.7V347.9M229 328.1V347.3M229 345.6V353.2M229 343.8V346.4M230 346.9V354.1M230 340.3V343.6M231 347.2V354.1M231 343.1V348.2M231 341.6V344.8M232 344.9V348.6M232 342.8V345.3M232 337.6V344M232 336V345.4M232 334.9V341.4M232 341.9V344.9M232 339.7V351.6M232 339.3V366.6M233 344.7V347.5M233 344.8V376.3M233 342.9V346.3M234 338.3V344.8M235 343.4V348.7M235 341.9V347.5M236 340.4V345.2M236 341.4V348.8M236 339.7V346.5M236 339.5V344.6M236 335.7V339.5M236 338.6V342.1M236 345.3V350.4M237 342.6V347.9M237 336.3V344.5M237 333.4V342.8M238 342.2V348M239 337.2V342.8M239 346.1V353.3M239 345.3V348.9M240 343.1V347.8M240 332.9V344M240 338.5V345.2M240 344.4V352.8M240 339.4V345.1M241 340.1V348.6M241 344.4V347.7M241 335.5V343.5M241 341.3V345.4M242 340.4V343.4M242 344.4V346.9M242 342V352.6M242 341.7V346.4M242 337.9V355.8M243 341.9V347.1M243 337.8V345.6M243 342.5V347.4M243 347V352.6M243 276.2V415.5M243 341.7V350.1M244 340.8V345.7M244 341.4V345.2M244 345.9V350.4M244 339.2V346M244 330.6V360.9M244 344.6V351.4M244 310.5V340.3M245 339.4V343.9M245 335.4V353.4M245 339.2V343.6M246 328.6V336.5M246 359.9V378.7M246 329.2V345.4M246 344.6V349.1M247 342.2V346.6M247 337.7V349M247 341.5V345.8M247 337.2V351M247 344.3V347.8M247 336.5V343.4M248 341.7V347.7M248 339.1V344M248 344.4V349.8M248 338.6V342.8M248 344.6V349.6M248 343.9V346.6M249 338V343.3M249 338.6V342.9M249 339.2V344.9M250 340.3V343M250 340.2V348.1M250 338.6V342.4M250 343.5V350.2M250 338.5V343M250 346.3V351.1M251 335.8V340.6M251 340.6V349.7M251 336.7V356.1M251 339.8V359.6M251 340.6V345.3M252 340V344.8M252 341.1V350.8M253 339V345.3M253 339.1V345.6M253 344.2V348.5M253 350.3V354M254 340.8V350.3M254 342.4V349.2M255 344.4V352.1M255 341.7V345.3M256 343.4V346.6M257 343.5V347.5M257 337.2V342.6M257 342.5V345.6M257 342.9V349.1M258 345.5V351.5M258 341.1V344.8M258 339.5V342.7M258 339.7V346.9M258 335.5V341.7M258 343.1V347M259 341.7V345.7M259 338.7V341.2M259 340.3V344.6M259 302V321.8M259 339.9V343.8M259 338.1V342.5M259 336.9V345M260 340V345.4M260 333.9V341.2M261 342.7V349.3M261 340.4V344.6M261 342.9V348.9M261 260.8V316.6M262 340.9V349.6M262 338.7V346.3M262 342.5V349.7M262 338.2V343.7M262 340.3V345.3M262 297.1V428.7M263 343.6V348.4M263 344.1V348.1M263 337.8V341.3M263 337.3V343.7M264 339.9V344.7M264 344.5V348.3M266 344V346.9M266 340.6V347.3M267 341.7V345.5M268 340.3V344.7M268 341V356.3M268 336.7V344.1M268 340.9V345.9M268 325.5V345M268 342.4V349.2M268 336.8V352.7M269 320.7V349.4M269 339.4V345M269 340.5V344.2M270 341V350.1M270 336.3V341.1M271 332.7V349.8M271 336.3V354.1M271 339.6V346.1M271 343.2V346.1M271 339.9V349.9M271 338.4V343.6M271 343.3V347.3M271 339.9V345.3M271 340.8V345.3M272 343.2V348.6M272 343V348.1M272 343.3V347.1M272 344.5V349.6M273 341.5V346.2M273 342.1V347M273 343.1V345.7M274 341.2V349.9M274 342.2V344.5M274 343.4V349M275 339.5V344.2M275 343.9V348.9M275 344.6V351.8M276 342.3V346.2M276 342.2V347.3M276 341.7V349.4M276 339.3V348.8M276 342V345.1M277 342.2V345.3M277 330.9V347.3M277 340.7V347.9M278 343V348.1M278 341.9V348.6M278 341.4V346.3M278 341.9V346.8M279 340.6V347.6M279 339.8V346.1M279 343.2V346M279 329.7V370.6M280 341V345.7M280 320.7V342.6M280 342.2V346.4M280 338.5V345.2M280 343.6V347M280 339.1V344.4M280 340.7V345.9M280 340.5V347.3M281 339.9V354.2M281 338.9V345.7M281 333.9V349.8M282 342.1V346.3M282 345.3V347.9M282 340.4V344.1M283 343.7V346.5M284 339.2V343.6M284 332V364.6M284 341.3V345.1M285 340.7V345.5M285 339.5V343.9M285 336.6V343.8M285 341.5V346.3M285 338.4V349M285 339.4V347.4M286 341.7V346M286 343.1V350M286 343.5V345.6M286 343.6V349.1M286 338.4V346.2M286 345.4V360M286 342.2V352.3M286 336.3V347.5M287 335.2V344.5M287 339.9V348.1M287 342.2V345.5M288 341.2V348.8M288 336.6V345.5M288 340.9V346.9M289 340.7V344M290 341.3V344.3M290 343.3V346.3M290 341.2V347.5M291 338.1V346.1M291 318.1V329.6M291 340.1V346.7M292 343V345.6M292 341.7V347.2M293 340.8V347.7M293 342.2V349.6M293 341.9V349M293 340.6V345.4M293 342.8V347.3M293 342.2V345.5M294 340.7V344.3M294 340.2V345.2M294 340.4V344.5M294 341V345.5M294 297.8V345.5M294 340.9V345M294 340.8V345.1M295 339.9V348.9M295 334.9V347M295 341V345.3M295 339.7V344.2M295 339V346.6M296 338.9V344.5M297 343.7V349.8M297 343.8V346M298 342.9V346.3M298 340.4V351.2M298 331.5V349.4M298 338.2V348.7M298 340.6V345M298 340.9V344.3M298 341.8V344.2M299 338.9V343.1M299 343.7V348.7M299 342.7V346.5M299 341.5V348.9M299 344.8V348.4M300 341.2V344.2M301 341.8V344.2M301 337.4V345.8M301 337.3V346.8M301 343.2V346.1M301 336.6V361M301 341.1V347.2M301 339.1V344.2M301 339.9V359.5M302 342.5V346.6M302 341.7V344.6M302 342V347.3M302 340.9V345.9M303 341.5V346.1M303 339.8V344.5M303 339.3V342.3M303 337.9V347.2M304 342.1V345.8M304 340.5V344.4M304 341.9V346.1M304 338.1V342.6M304 342.9V348.8M305 337V348.7M305 341V344.8M305 340.2V349.3M306 343.4V349M306 343.6V346.4M307 341.3V346.6M307 337.8V345.6M308 338.5V345.5M308 341.1V344.3M308 341.8V347.1M308 341.2V343.5M309 338.4V347.6M309 340.1V346.2M310 341.7V356.3M310 341V343.6M310 340.9V345.6M310 341.4V345.2M311 339.3V343.5M311 275.5V314.7M311 307V396.3M311 342.9V345.9M311 341.7V347.3M312 295.6V389.6M312 341.3V345.9M312 340.1V345.3M312 340.2V345.7M313 336.2V346M313 344.4V347.7M313 359.4V386.5M313 340.6V346.5M313 341.9V349.6M314 341.9V345.1M314 340.8V348.1M314 339.2V345.7M314 341.9V347.7M315 342.3V345.4M315 340.2V346.4M315 341.1V345.9M315 342.7V347.7M316 338.3V344.9M316 341.6V344.9M316 341.2V348.9M316 341.3V345.8M316 339.4V345.7M316 292.7V347.9M316 344.7V353.4M317 339.2V346.4M317 332.1V340.8M317 341.4V348.7M317 341V345.8M319 330.6V360.4M319 335.8V345.4M319 339.3V343.9M319 338.7V346.2M319 339.9V344.4M320 339.8V343.5M320 340.7V346.9M320 341.1V343.2M320 340.4V347.7M320 343.6V347.2M320 342V345M321 339.2V344.2M321 341.8V345.7M321 342.5V346.4M321 341.1V346.9M321 280.4V332.5M322 340.5V345M322 339.2V344.2M322 341.2V344.5M322 332.2V350.2M323 323.7V350.9M323 336.9V348.8M323 339.2V344.5M324 342.3V349.6M324 338.2V343M325 337.6V342.3M325 339.5V347.9M326 340.2V346.2M326 338.8V346.7M326 341.3V345.3M326 341.6V350M326 311.1V374.7M326 342.4V351.9M327 338.4V342.7M327 279.3V349.1M327 340.1V343.6M328 316.9V353.7M328 340.8V344M328 339.7V345.6M328 338.5V346.7M328 341.2V345.1M328 339.1V343M328 341.3V345.2M328 343.5V346.3M328 256.7V427.6M329 371.6V428.7M329 341.3V345.9M329 337V346.1M330 343.9V349.3M330 344.7V348.5M330 341.9V345.4M332 337.3V343.4M332 293.2V396M332 339.1V343.7M332 340.9V344.6M333 344.2V349.1M333 339.6V346.1M333 341.3V346.4M333 341.2V347.4M333 324.7V342.3M333 340.4V343.6M334 338.6V346.7M334 335.3V345.6M334 340.9V345M335 339.3V345.4M335 340.9V344M335 342.2V346.6M336 339.7V344.1M336 256.7V381.6M337 338.8V343.5M337 341.9V344.4M337 346.6V355.4M338 339.7V345.9M338 339.6V344.9M338 338.1V341.9M338 338.1V343.8M339 340.1V344.2M339 329.6V358.9M340 340.8V349.9M340 336.2V342.6M340 341.7V345.8M340 340.9V345.5M341 334V370.3M341 337.6V340.7M341 339.8V345.6M341 338.8V353.4M342 370.2V392M342 336V344M342 341.6V346.3M342 340.9V348.7M342 334.7V357.8M342 341.2V347.7M343 340.7V353M343 342.5V346.3M343 340V345.3M343 341.8V345.9M343 339.1V344.7M344 336.4V339.9M344 342.4V347.2M344 339.7V344.7M344 341.3V345.8M344 339.7V344.7M344 341.3V345.7M346 345.5V350.6M347 339.1V342.2M347 333.5V340.8M347 342.9V355.2M348 343.6V348.2M348 342.2V346.9M349 336.1V340.6M350 344.1V348M350 342.4V345.9M350 340.4V344.6M350 342.7V348M351 342.7V347.8M351 335.6V346.5M351 340.7V346M351 342.4V347.6M351 344.4V348M352 342.9V347.4M352 256.7V336.6M352 342.5V344.8M354 336.7V343.5M354 330.9V351.8M354 346.3V349.8M355 343.1V366.1M355 345.5V349.7M356 340.7V345.5M356 347V349.8M357 339.9V343.3M357 340.1V352.4M357 340.2V348.2M357 339.9V345.8M358 341V347M358 342V346.9M358 292.4V346.7M358 340.6V346.7M359 342.1V346.8M359 271.1V334.3M360 335.1V378.9M360 329.8V344.7M360 344.2V349M361 350.1V378.1M361 345.4V353.7M362 342.7V348.2M362 340.9V347.1M363 328.8V414M364 337.2V341M364 337V354.1M365 344.6V353.9M366 335.6V352.2M366 349.2V371.6M366 345.4V350.9M366 341.2V347.9M367 338.8V345.5M367 325.9V341.6M368 341.5V347.8M368 349.6V355.1M369 346.6V349.8M370 347.4V354.6M370 343.7V352.7M370 345.3V349.4M371 311.4V363.3M371 345V350M372 345V349.2M373 256.8V410.3M373 309.5V343.5M374 347.5V355.7M374 342.4V353.4M375 344.1V348.4M375 336.5V351.1M375 343.9V349.1M375 344V348M376 346V359.6M376 340.9V344.7M376 336.5V354.3M377 336.8V345.5M377 290.4V347.6M378 343.8V348.9M379 339.9V358.9M379 351.1V354.7M380 316.8V360.3M381 339.4V359.7M383 343.2V355.3M383 346.4V349.8M383 343V348.4M383 347.2V349.9M384 345.1V348.9M384 344.7V348.7M385 347V365.4M385 343.2V349.8M386 339.7V350.2M386 347.3V350.6M387 338.3V347.8M387 347.4V353.4M387 347.2V349.8M389 347.3V354.7M390 346.9V350.3M391 347.8V352.6M391 344.3V350.6M392 343V348.9M394 343V346.6M394 338.6V359.2M394 344.1V348.6M394 343.7V349.7M396 345.5V349.7M396 345.4V350.8M396 345.5V348.7M397 345.9V350.2M397 323.8V341.2M398 326.6V345.1M399 345.5V348.2M399 341V348M400 344V347.5M401 340.9V346.2M401 343.7V348.4M402 343.3V359.3M403 344.2V349.5M404 340.2V345.2M405 337.8V348M405 256.7V319.3M406 345V349.5M406 339.1V342.8M406 345.3V350.5M107 327.5V335.5M108 331.4V337.4M103 328V338M108 336V342M112 334.9V346.9M108 339.1V347.1M413 342.5V346.5M411 345.6V349.6M420 340.6V344.6M423 324V380M429 345.6V349.6M408 343V347M414 344V348M400 340.8V400.8M415 354V370M421 366.8V382.8M420 319.9V428.7M465 256.7V381.8M464 326V346M478 292.9V332.9M475 343.8V349.8M479 316.9V372.9M493 342.9V346.9M493 343.4V347.4M500 341.9V355.9M516 343.8V349.8M518 346.9V350.9M520 341.9V355.9M522 329.9V349.9M526 334.9V340.9M530 348.8V352.8M531 347.9V351.9M532 344.8V348.8M539 344.8V348.8M539 345.4V349.4M546 341.9V345.9M548 344.8V348.8M550 340V344M452 348.5V361.3M454 315.9V396.4M456 328.9V370.5M450 295.7V407.8M453 333.7V357.9M452 331V353.5M455 337.3V357.1M448 340V357.7M450 327.9V369.5M453 352.5V365.6M453 335.8V361.3M454 345.2V371.6M448 349.1V361M456 289.1V356.9M450 313.5V340.2M451 301.5V360.4M453 338.2V349.2M451 310.8V346.1M457 327.4V339.4M456 298.9V355.3M451 278.4V428.7M454 350.4V371M455 323.6V404.9M450 342V379M454 332.5V427.3M451 360.4V363.5M446 342.4V346.4M447 342V346M453 256.7V324.9M454 260.9V340.9M451 382.5V428.7M451 355V405" stroke="#d3d3d3" stroke-opacity="0.69" fill="none"/>
<path d="M120 256.7V428.7M120 275.3V332.9M122 256.7V394.2M122 273.8V319.9M123 318.8V378.5M124 256.7V379.3M124 314.3V361M125 256.7V403.3M125 298.9V381.4M125 310.4V428.7M128 316.1V352.8M128 256.7V428.7M130 256.7V428.7M132 287.4V369.6M133 256.7V382.4M134 256.7V428.7M134 314.4V365.9M134 287.4V428.7M136 300.1V365.8M136 286.4V349.5M138 308.8V351.7M139 310.5V353.7M140 319V355.1M141 309.4V336.8M141 320.1V345.7M141 315.3V350.1M141 256.7V428.7M141 325.5V382.3M142 326.5V355.5M142 332.9V351.2M142 317.1V352.9M143 330.5V338.4M143 335.6V344.5M143 318.8V326.8M143 320.6V350.1M143 312.9V386.1M144 330.3V345.4M144 334.5V345.1M144 334.9V353.6M145 335.3V428.7M145 336.2V345.7M146 335.5V348.5M146 334.7V360.1M146 336.2V347.5M147 354.6V412.1M147 256.7V372.5M147 331.5V338M147 321V338.8M147 321.8V339.1M147 319V349.7M148 290.2V428.7M148 309.1V324.5M148 326.7V355.8M149 339.1V350.7M149 318.3V335.4M149 323.6V347M150 277.9V308.6M151 302.7V428.7M151 328.9V345.3M151 309.8V386.1M151 329.4V348M152 333.5V344.2M152 326.4V342.3M152 323.5V337.6M153 333.1V343.7M153 333.1V348.8M153 326.2V351.5M154 320.7V337.8M154 316.4V342.9M154 327.8V343.7M155 269.1V350.6M155 326.6V359.4M155 324.2V347.5M155 306.3V360.1M156 282.7V302M157 332.8V345.2M157 330.7V344.3M157 349V369.3M157 325.3V336.6M157 314.7V354.6M157 335.6V350.8M158 346.8V365.3M159 356.6V421.9M159 334.3V344.9M159 310.8V336.6M160 326.4V348.9M160 325.2V339.3M161 256.7V428.7M161 336.8V348.3M162 331.2V345.8M162 313.2V346.8M162 333.3V345.8M163 256.7V428.7M163 330.5V343.8M163 326.4V360.1M163 317.5V329.1M163 334.6V349.4M164 331.1V349.6M164 325.2V336.5M164 321.6V360.5M164 325.7V353M164 343.9V351.3M165 337.5V345.5M165 321.8V342.8M165 332.1V345.1M165 330.6V342.5M166 349.4V410.8M166 282V343.2M166 335.6V352.3M166 335.1V348M167 338.6V362.3M167 337.9V353.2M167 333V340.7M168 256.7V404.1M168 331.6V346.8M168 344.5V353.4M168 345V368.8M168 329.6V346.5M169 326.6V332.6M169 327.6V338.9M169 329.3V347.4M170 325.3V343.6M170 332.8V340.5M170 338.1V349.4M170 328.1V343M171 325.9V342.1M171 319V361.9M171 324.5V340.5M171 343.4V365.7M171 314.8V340.6M172 332.7V348.2M172 336.8V428.7M174 348.8V357.4M174 327.6V344.1M174 325V347.6M174 335.3V348.9M175 328.8V340M175 331.1V348.4M175 323.7V340.6M175 283.5V374.3M175 345.8V373.5M175 357.4V390.9M175 290.6V354.1M176 335.5V344.5M176 283.6V337.6M176 319.6V344.1M176 335.6V349.6M176 343.6V358.1M176 323V342.9M177 321.7V332.4M177 342.6V351.6M178 256.7V382.7M178 317.1V347.2M178 326.8V341.6M178 344.4V356.8M179 331.5V341.8M179 330.9V367.8M179 332.3V347.7M179 325.5V345.1M179 336.1V348.9M179 330.3V341.8M180 343.3V347.5M180 331.2V347M180 305.7V318.6M181 333.8V345.3M181 345.5V349.7M182 329.2V341.7M182 330.8V348.8M182 331V344.8M183 330.5V351M183 327.9V341.4M183 326.1V343M183 337.4V354.7M183 339.8V350.8M183 340.2V354.7M185 330.3V347.6M185 333.6V341.2M185 332V341.1M186 329.3V350.5M186 335.7V347.8M187 330.8V361.4M187 328.6V346.1M187 318.4V332.9M187 335.9V343.3M188 324.4V337.3M188 319.9V340.8M188 338.6V351.2M188 339.4V348.4M188 333.6V357.7M188 331.4V350.4M189 351.9V428.7M189 326.8V337.5M189 327.1V337.9M189 381.1V390.7M190 314V349.1M190 295.4V341.2M190 333.3V342.4M191 316.5V355.6M191 336.4V344.4M191 340.5V353.4M191 256.7V428.7M192 317.7V337.6M192 335.6V344.6M192 344.6V353.6M193 339.2V346M193 341.7V364.8M193 327.1V337.2M194 344.6V373.5M194 350V356.2M194 335.2V343.4M194 346.1V352.3M194 341.8V354.3M195 328.5V342.1M195 325.1V340.4M195 333.5V338.6M195 324.7V336.6M195 339.1V358.5M196 339.3V343.1M196 335.5V344.1M196 336.5V364.3M197 356.9V366.2M197 343.3V353M197 332.8V339.2M197 349.5V355.5M197 336V349.3M197 346.4V361.8M197 339.6V357.9M198 339.7V348M198 330.7V348.1M198 256.7V359.7M198 334.5V342M198 340.2V347.6M198 353.7V428.7M199 335.8V348.1M199 328.3V349.7M199 346.7V348.9M199 346.5V355.4M199 340V350.3M199 341V368.1M199 348.9V356M199 318.1V332.9M200 351.6V359.2M200 341.7V371M200 340.9V345M200 335.9V342.6M200 333V342.7M201 339.3V345M201 330.4V348.5M201 342.4V347.1M201 340.9V350.9M202 334.6V340M202 348.6V356.1M202 341.2V358.3M202 349.7V358M202 344.6V353.9M202 342.1V350.4M202 345.9V355.5M203 337.1V343.5M203 339.7V351.9M203 335.1V350.6M203 327.9V342.2M203 337.4V341.2M203 340.7V344.5M204 350.5V367.8M204 341.3V346.8M204 338.1V357M204 321.5V335.1M204 339.3V351.6M204 336.2V346.2M205 345V348.7M205 333.6V344.5M206 341.6V351.1M206 330.8V343.2M206 334.1V355.8M206 345.9V352M206 330V347.4M206 338.9V345.7M206 335.3V342.1M206 339.5V357M207 343.9V350.6M207 339.8V346.4M207 338.4V345.3M208 326.4V368.5M208 344.5V352.2M208 335.7V348.7M208 339.2V349.4M208 340V345.9M208 342.4V349.7M209 346.8V351.8M209 321.8V355.5M210 343V350.2M210 344V369M210 328.5V340.2M210 321.2V347.3M211 282.4V331.2M211 341.5V350.5M211 339.8V348.4M211 331.5V336.8M211 339.7V350.9M212 327.9V340M212 339.9V345.1M212 342.7V350.4M212 334.7V353.2M212 338.4V343.5M212 335.3V342.3M213 344.1V350.1M213 332.2V348.6M213 346.9V357.6M213 353.3V402.3M213 342V345.4M214 320.1V340.8M214 342.5V350.7M214 337.1V343.9M215 334.5V341.4M215 338.1V342.3M215 336.5V340.6M216 342.9V350.4M216 343.4V350.2M216 342.7V355.2M216 339.5V343.5M217 341.3V345.2M217 340V342.7M217 337.9V345.1M217 342.4V346.4M217 308.4V347.5M217 343V350.2M218 328.1V341.5M218 344V351.4M218 330.8V341.5M218 340.6V343.7M218 333.4V343.1M218 340.1V354.2M218 340.7V347.7M218 338.5V350.4M219 339.7V347M219 341V350.5M219 342.2V349.6M219 342.2V347.8M220 339.2V345.1M220 336V344.1M220 343.2V346.4M220 341.5V348.5M221 338V343.8M221 334.2V339.4M221 345.2V349.7M221 340.6V345.6M221 342.7V344.8M221 333.8V346.9M221 345V349.3M221 340.6V344.6M221 332.5V349M222 346.4V352M223 342.3V346.8M224 336.6V341.6M224 341.2V345.6M224 342.3V352.9M225 341.1V346.7M225 345.8V349.1M225 339.6V342.7M225 336.6V342.4M225 333.5V355.3M225 328.3V347.9M226 341.8V345.6M226 319.1V361.4M227 339.4V346.1M227 343.5V349.4M227 342.3V349.3M227 342.4V345.8M227 331.9V341.8M227 339V345.4M228 332.5V349.8M228 332.4V339.7M228 341.2V347.7M228 346.6V352.4M228 342.5V348.3M228 337.3V342.6M228 329.7V336.5M228 336.4V340.9M229 340.5V343.9M229 342.7V345.5M229 343.6V347.4M229 340.6V344.9M230 343.6V347.3M230 336.3V345.6M230 338.1V358.8M230 288.3V368.2M230 352.3V357.9M230 340.9V345.8M230 341.3V354.7M231 331V340.3M231 337.4V340.1M231 336.3V340M231 340.8V345.5M231 341.3V345.8M231 344V347.8M231 333.5V341.8M231 332.8V357.6M231 343.7V345.8M231 336.9V341M232 344.8V347.7M232 342.1V347M232 319.3V353M233 334.5V343.2M233 343.7V348M233 341V343.7M233 342.1V345.7M234 340.8V347.7M234 342.3V347.3M234 342V344.4M234 336.3V343M235 345.8V353.6M235 333.9V345.5M235 335.9V345.1M235 372.8V422.3M235 345.5V350.1M236 340.1V352.2M236 343.2V349.9M236 346.3V350.9M236 341.1V347.8M236 335.3V342.6M236 331.6V336.5M236 337.4V341.8M236 338.2V342.9M237 341.7V345.8M237 341V345M237 340.3V343.5M237 339V343.4M238 334.9V342.5M238 340.3V344.2M238 335.4V344.7M238 341.7V349.9M238 334.8V341.3M239 334V362.9M239 344.5V349.4M239 339V343M239 340.3V344.3M240 333.3V340M240 340.8V344.9M240 341.8V345.1M240 338.9V349.9M241 334.1V339.9M241 342.2V347.2M241 339.1V342.4M241 336V364.6M242 335V343.5M242 340.3V345.3M242 328V349.7M242 344.9V352.1M243 339.8V344.8M243 340.4V343.8M243 340.6V346.8M244 341.4V348.9M244 340.3V342.9M245 339.5V344.1M245 340.3V345.7M245 342.2V347.5M247 341.7V345.2M247 341.7V346.5M248 344.1V350M248 339.2V386.3M248 332.8V348.5M248 342.1V345.4M249 342.3V346.8M249 336.2V343M249 339.3V344.6M249 339.3V341.8M249 342V346M249 335.5V340.6M250 343.5V347.9M250 342.9V345.4M250 343.1V346.2M251 337.4V348.4M251 343.2V347.2M251 344.8V351M251 341.1V345.6M251 341.9V346.4M252 340.2V344.5M252 341.7V345.1M252 341.2V344.8M252 337.2V343.4M252 337V358.6M252 335.4V351.8M253 341.7V346.8M253 343.5V350.1M253 340V345.7M253 343.2V346.9M253 344V346.8M254 340V343.3M254 341.6V346.9M254 343.2V346.2M254 344.3V349.1M255 343.1V347.7M255 338V344.9M255 341.4V344.8M256 336.6V343.6M256 343.6V348.5M256 342.2V347.3M256 338.5V344.7M257 343.6V347.9M257 340.4V343.9M257 339V343.9M258 333.9V339.7M258 339.7V345.1M258 344.1V349.4M258 344.5V349.1M259 344V349.2M259 345.5V348.6M259 333V344.2M260 305.1V322.8M260 338.8V341.2M260 340.3V345.6M260 341.9V345.1M260 341.1V344.2M260 339.7V343.5M260 332.2V347M261 333.7V358.4M261 343.5V347.5M261 344V351M261 340.7V344.4M261 345.6V349.7M261 333.2V344.1M262 329.7V361.7M262 339.1V343.4M262 343.9V347M262 344.4V347.3M262 342V345.4M263 338.8V345.7M263 342V345M263 337.4V344.2M264 344.3V347.6M264 342.1V345M264 340.4V355.2M264 308.9V355.8M265 344.3V348.5M265 341.6V346.8M265 344.7V351.1M266 343.6V348.5M266 339.5V347.7M266 337.7V347.7M267 340V343.5M267 340.6V345M267 336.9V344.9M268 340.7V344.4M268 342.4V345.7M268 341.5V346.2M268 341.2V344.9M268 340.4V349.6M268 341.9V345.7M269 265.7V321.3M269 321V352.3M269 342.5V346.1M269 341.8V350M270 337.1V342.5M270 341V343.4M270 342.4V345.8M270 337.9V346.4M270 338.4V346.2M270 334.5V345.3M270 343.9V346.8M270 339.4V345.5M271 340.9V345.4M271 343.2V347.3M272 343.7V347.7M272 342.2V346.1M272 311.7V361.7M272 331.8V363.6M272 341.9V346.7M272 339.4V345.5M273 341.9V345.2M273 343.9V347.9M273 343.2V346.2M273 340.5V347.1M274 343.7V346.2M274 341.4V345.1M274 342.7V348M274 339.4V346.9M274 343.8V348.6M275 345.9V352.7M275 341.1V343.9M275 341.9V349.7M275 338.3V362.8M275 333.2V350.1M275 341.9V345.4M275 342V348.8M275 343.7V349.2M276 341.6V348.4M276 342.6V346.5M276 343V346.8M276 337.8V344M276 341.1V344.6M277 338.8V346.1M277 339.6V345.9M277 342.4V347.2M277 338.4V344.5M278 341.5V346.6M278 339.2V345.6M278 339.4V349.7M278 339.4V346.5M278 328.6V343.9M278 343.1V347.6M278 339.6V348.5M279 342.4V346.1M279 340.5V343.9M279 342.1V346.6M280 331.5V347.8M280 336.2V345.9M280 336.5V344.3M280 341.4V347.1M281 331.8V347.5M281 349.9V369.9M281 341.9V346.6M281 342.9V346.7M281 339.4V343.7M281 342V346M282 339.3V346.4M282 343.1V346M282 337.4V349.8M283 342.6V346.2M283 342.5V347.8M283 340.7V345.1M284 340.1V345.4M284 340.9V347.2M284 343.8V348.5M285 343.5V350.8M285 335.9V347.3M285 334.5V342M286 339.7V348.6M287 337.5V346.4M287 342.2V345.5M287 343.1V347.1M287 338.7V344.8M287 340.8V350.9M288 337.9V344.3M288 343.2V347.7M288 343.2V348M288 336.8V349.2M288 341V345.8M288 342.7V347.4M288 341.6V346.8M289 342.2V345.1M289 340.7V347M289 340.3V345.3M289 341.6V344.8M290 344.2V351.3M290 339.8V348.1M290 340V346.5M290 332V357.6M290 340.2V346.5M290 342.5V346.9M290 343.9V347.6M290 339.9V344.9M291 341.8V346.3M291 340.5V344.4M292 340.7V346.1M292 340.2V347M292 306.5V339M292 339.6V344.3M292 339V347.2M293 319V346.4M293 330.2V344.6M294 343.5V346.9M294 342.1V344.4M294 338.5V345.3M294 341V346.2M294 324.2V348.3M294 342.9V345.2M295 341.2V345.3M295 342.1V345.5M296 342.5V349.9M296 327.9V359.7M296 340V343.8M296 340.2V346.4M296 344.3V348.7M296 343.2V345.9M296 339.5V346.8M297 343.7V345.8M297 336.2V347.5M297 340.7V344.8M297 341.6V345.4M298 337.7V350.4M298 340.1V343.5M298 339.1V344.9M298 338.9V346.7M298 340.9V346.8M298 341.7V347.8M298 342.6V347.1M299 343.7V359M299 344.4V350.5M299 336.4V345M299 343.2V360.9M299 339.7V344.2M299 343.6V348.4M300 345.6V360.7M300 341V345M300 346.4V348.7M300 332.1V353.5M300 341.7V347.2M300 340.2V348M300 340.6V347.1M300 338.3V344.8M300 343.8V346.4M300 342.7V345.7M300 338.9V347.5M300 343.6V348.7M301 340.6V348M301 339.1V344.3M302 341.3V375.3M302 325.3V350.8M302 339.3V345.6M302 334.3V351.4M302 341V369M303 341V347M303 341.6V346.7M303 341.8V347.1M303 344.6V347.6M303 339.2V349.2M304 340.4V346M305 340.5V344.8M306 339V343.2M306 337.4V342.2M306 338.9V345.1M306 343.8V347M306 344.8V346.9M306 341.7V345.8M307 342.9V346.9M307 321.9V341.4M307 341.3V345.6M307 341.4V345.3M307 344.4V349.9M307 337.5V346.6M308 343.7V348.4M308 337V344.7M309 341.9V347.5M309 339V342.9M309 338.2V341.6M309 340.7V348.2M309 338.3V359.2M309 340.9V352M309 342V346.4M309 339.1V344.1M309 340.8V345.4M310 341.2V344.7M310 338.9V349.4M311 335.4V359.2M311 341.1V345.9M311 337.9V341.8M311 340V343.7M312 337.8V352.6M312 339.2V344.7M312 343.3V346.4M313 341.4V345.8M313 337.1V343.3M313 330.2V341.5M313 339.2V345.9M313 342V346.5M314 341.3V345.7M314 342V344.8M314 339.2V343.5M314 335.8V342.1M314 341.3V347.6M315 338.1V342M315 327.9V349.1M315 337.8V344M315 339.9V345.7M316 343.4V347.9M316 338V343.2M316 338.9V344.8M316 333.4V350.1M316 344V347.2M316 335.9V360.1M316 340.8V345.6M316 340.4V346.8M317 337.2V349.5M317 337.4V342.7M318 341.6V344.1M318 341.1V344.9M318 341.4V344.7M318 341.5V353.2M318 343V347M318 339.9V346.3M318 340.9V343.2M319 339.3V346.6M320 338.5V344.4M320 340.8V346.4M320 335.1V345.6M320 340.1V346.6M321 339.7V345.4M321 339.3V343.4M321 334.8V353.8M321 339.5V343.2M321 339.5V344.6M322 340.8V348.2M322 341.3V354M322 340.3V346.8M322 340.4V347.5M322 333.6V347.9M323 343.8V347.2M323 338.2V343.4M324 341.9V345.5M324 298.6V334.2M324 340.5V345.1M324 339.1V342.8M325 342.4V345.9M325 340.4V350.8M325 340.4V343.5M325 340.3V347.4M325 339.9V346.8M326 342.2V345.9M326 338.8V343.8M327 328.9V342.9M327 301.4V358.9M327 343.3V349.6M327 335.7V343.6M327 335.9V341.8M327 338.4V342.1M327 288.2V350.9M328 339.6V343.3M328 311.8V357.5M328 338.8V341.2M329 344.8V347.9M329 338.5V347.2M329 338.3V346.9M329 341.2V349.1M329 340.9V346.2M329 320.1V381.9M329 337.7V345M329 330.3V342M329 339.4V342.9M329 339.8V347.8M330 342.3V345.4M330 320.2V351.9M330 339.3V343.9M331 344.2V348.3M331 338.4V345.8M331 341.3V344.9M332 335.6V342.7M332 336.2V349.2M332 339.8V343.9M332 343.4V346.8M332 339.1V346.1M332 343.8V349.4M332 339.3V349.7M332 342.5V345.4M333 341.6V374.2M333 319V334.7M333 256.7V428.7M333 336.6V356.2M333 338.4V343.6M334 285V329.4M334 342.8V349.9M334 337.3V340.8M334 342.9V346.8M334 342.1V347.2M334 325.7V351.1M334 338.1V343.9M335 341.6V345.5M335 341.9V347.2M335 340V343.8M335 339.7V342.8M335 341.9V349.2M336 342.4V347.3M336 341.8V345.9M336 343.6V347M336 340V345.9M336 340.9V344.7M336 342.2V347.3M337 256.7V300.6M337 345.3V350.1M337 340.3V343.3M337 340.1V343.5M338 337.7V343.4M338 342.9V348.5M339 342.3V344.8M339 327.6V342.5M339 345.1V348.9M340 342.1V346M340 357.4V428.7M340 342.3V347.3M340 340.6V346.5M341 342V347.9M342 339.6V343.3M342 336.6V344.5M342 344.9V350.9M342 336.4V353.9M342 361.2V428.7M343 339.2V345.4M343 345.3V350.3M343 339.9V350M343 343V345.6M343 343.2V346.8M343 342.4V350.1M343 340.8V342.9M344 338.7V345.2M344 340.7V346.2M344 266.6V388.5M344 341.1V343.8M345 342.6V348.5M345 256.7V428.7M346 341.5V346.4M346 343.2V349.2M346 339.3V342.5M346 337.4V342.3M347 340.7V347.4M347 333.9V345.5M348 341.4V382.1M348 345V377.9M348 344.8V348.8M350 339.4V357.6M350 331.5V350.1M351 342.5V349M351 341.1V346.2M351 338.8V342M351 337.2V342.7M351 336.2V344.9M352 345.6V350.5M352 329V349.1M353 338.2V348.4M353 314.5V354.1M354 341.4V347.4M355 347.3V351M355 336V349.1M355 341.7V346.9M357 336V346.3M357 345.9V348.8M358 340.8V348.2M358 343V348.2M358 343.1V349.5M358 342.3V345.9M360 342V347.6M360 343.1V346.3M361 341.4V348.8M361 345.2V350M361 347.9V351M362 342.6V350.6M363 337.3V365.3M363 340.1V343.4M364 346.2V349.2M364 312.5V366.8M364 349.1V356.8M365 348.1V351.2M365 324.5V428.7M365 344.1V349.4M365 344.2V349M365 342.5V346.7M366 336.5V360.4M367 341.7V348.6M368 346.3V348.6M368 338.9V356.5M368 347.5V352.1M369 345.3V348.6M370 388.8V416.1M370 331.4V346M371 348.2V356.8M371 340.8V344.4M372 341.4V350.7M372 338.1V354.4M373 332.6V353.1M373 342.1V348.7M373 349.2V353.1M373 343.5V349.9M375 343.2V347M375 347.7V351.8M376 346.4V349.4M377 338.8V351.4M378 287.3V388.2M378 345.4V348.3M378 341.5V351.4M378 345.9V348M379 341V347.1M379 344V349.8M379 343.6V348M379 343.8V348.2M379 299.3V346.3M380 346V351.8M380 359.4V409.8M380 360.5V377.6M380 346.2V352.1M380 341.3V347.3M381 345.9V349.3M381 257.5V306.5M382 345.8V351.1M382 342.3V349.1M383 337.2V349.2M383 330.3V347.7M383 348.9V381.3M384 343.9V347.5M384 342.5V350.6M384 378.1V394.5M384 340.6V348M386 348.2V353.7M386 341.7V345.1M386 344.7V349.5M388 342.8V347.2M388 345.6V351.7M388 343.6V347.8M388 343.1V348.2M388 348.8V352.3M389 331.7V355.7M389 339V346.1M389 348.6V352.1M389 344V348.7M390 349.2V352.2M391 346.8V352.3M392 349.9V365.7M392 336.7V352.5M392 346.3V353.4M393 336.9V347.1M393 338.7V341.1M393 338.4V342M394 346V349.8M394 256.7V380.6M395 337.5V347.9M395 336.3V355.1M396 323.6V359.9M396 347.9V353M397 343.4V349.4M397 347.5V351.2M397 341.7V350.9M398 339.1V343.2M398 321.9V343.8M398 338.6V346.1M398 313V346.6M398 346.6V355.2M399 256.7V382.4M400 340.9V345.1M400 344.1V350.4M401 320.6V356M402 343V346.5M402 340.9V348.1M402 343V345.4M403 336.4V340.9M404 338.7V344M404 341.2V358.8M404 334.7V374.7M406 343.7V347.9M406 342.7V345.1M108 321.9V329.9M108 330.1V336.1M105 332.7V340.7M115 323V347M105 343.8V359.8M419 290.8V340.8M422 317.8V333.8M431 305.8V333.8M427 325.8V337.8M431 335.9V343.9M427 337.8V343.8M412 344.8V348.8M421 258.2V428.2M420 344.8V348.8M431 343.8V347.8M429 332V372M420 347V367M402 352V364M413 358.5V378.5M443 341.9V345.9M464 344.9V350.9M465 383V419M476 331.8V359.8M473 345V357M482 328.9V378.9M487 356V370M494 342.9V346.9M496 343.8V347.8M511 329.9V337.9M513 343.8V347.8M511 347.9V351.9M515 347.9V351.9M521 343.4V347.4M524 344V348M528 344.8V348.8M541 344.9V350.9M545 346.9V350.9M548 336.8V344.8M452 336.7V354.6M451 335.3V353.8M457 350.6V355M452 271.6V391.9M453 338V354.2M447 349.8V366.6M455 353.2V361.8M449 341.6V353.9M456 330.1V380M453 310V335.4M451 308.3V341.8M456 312V338.7M454 316.5V347.5M450 318.5V344M455 307.8V333.5M451 346.9V373.7M451 359.3V380.7M446 342.8V346.8M445 342.8V346.8M449 360V400" stroke="#d3d3d3" stroke-opacity="0.69" fill="none"/>
<path d="M115 321.2V345.2M116 290.3V359.7M118 256.7V428.7M125 301.1V348.4M125 256.7V428.7M125 334.4V390.5M126 290.8V381.4M127 299.4V413.4M128 256.7V428.7M128 322V375.7M130 256.7V388.1M131 318.1V428.7M133 256.7V374.5M133 294.8V410M135 323.4V351.8M136 256.7V428.7M137 314V364M137 282.3V382.6M137 256.7V301.3M138 314.1V363.7M139 278.6V365.4M139 326.3V367.4M139 334.4V384M139 319.4V358.5M140 371.6V428.7M140 313.6V361.4M140 329.6V353.7M140 319V426.4M140 291.6V411.8M140 317.4V349.9M141 321.7V366.4M141 256.7V378M141 318.7V345.6M142 328.9V371.3M142 328.8V341.4M142 336.1V353.1M142 338.7V353.4M142 286.8V384M143 310V347.4M143 331.4V342.8M144 257.2V324.6M144 328.7V344.9M144 330.8V343.9M144 291.3V364.3M144 326.7V350.7M145 331.3V347M145 327.8V344.9M145 256.7V300.5M145 323.4V351.1M146 350.4V375.1M146 354.9V391.1M146 256.7V316.8M147 332.2V351.7M147 317.5V338.8M147 365.4V406.9M147 350.5V365.1M148 333.4V342.9M148 315V335.6M148 323.6V339.3M148 329.8V344M148 256.7V280.4M149 321.6V343.4M149 287V356.3M149 338.7V351.1M150 321.8V387M150 329.7V347.3M150 349.1V386.1M151 338.5V354.1M152 337.8V349.3M153 332.2V343M153 338V343.6M153 336.1V352.7M153 312.1V334.1M154 329.4V340.9M154 328.8V339.9M154 293.1V339.4M154 332.3V351.1M154 331.7V344.6M154 342.1V352.3M154 327.8V340.9M155 328.5V353.4M155 330.5V351.1M155 256.7V292.8M156 319.5V344.2M156 341.4V350.7M156 310.4V352M157 260.8V329.7M157 339.6V352.5M157 322V349M157 320.8V352.3M157 321V340.4M158 292.2V365.6M158 321.9V341.2M158 339.5V407.9M158 330.6V346.2M159 330.7V345.5M159 355V365.2M160 337.8V350.8M160 333.6V344.1M160 341.5V348.4M161 334V345.3M161 337.1V353.7M161 305V349.2M161 335.4V342.2M162 315.1V337.9M162 352.9V409.3M162 322.1V337.9M163 308.8V368.4M163 337.6V346.7M163 334.7V346.3M164 326V336.6M164 336.9V345.4M164 325.3V349.6M164 336V348M165 336.2V350.5M165 314.8V327.7M165 319.7V342.3M165 320.2V345.5M166 332.1V342.5M166 332.2V344.9M166 329.1V342.4M166 348.9V373.4M167 333V356.1M167 329V350M167 343.2V390.8M167 339.6V350M167 338.3V356.3M168 334.5V347.9M168 327.4V349.7M168 329.9V339.4M168 344.8V354.8M169 329.1V336.8M169 331.4V358.1M169 343.2V357.3M170 350.3V368.2M170 327.8V342.1M170 322.5V343M170 332.3V344.3M171 333.7V344.6M171 335.7V345.4M171 333.4V342.5M171 326.2V337.8M171 328.9V341.6M172 335.9V353.7M172 333.6V357.1M172 336.4V349.3M172 314.1V338.2M172 279.9V331M172 349.9V361.9M173 332.1V345.4M174 321.9V343.7M174 329.2V341.4M174 317.8V346.8M174 339.5V348.2M174 328.2V347.7M175 330.2V349.2M175 334V342.5M176 339.5V375.1M176 324.4V348.5M176 330.8V353.2M177 334.5V353.1M178 332.2V340.9M178 327.3V336.4M178 324.6V341.2M179 312.1V333.2M180 328.6V344M180 330.6V349.5M181 321.7V333.4M181 329.5V345.3M181 331.5V345.1M182 334.8V346.5M182 338.6V358.5M182 324.1V342.5M182 324.1V347.6M183 318.6V366.1M183 332.5V348.7M183 334.6V344.7M183 321.8V350.1M184 330V339.7M184 330.3V348.2M185 334.5V364.6M185 333.7V340.2M185 333.6V347.2M186 314.9V327.1M186 333.5V347.8M187 333.9V381.2M187 354.8V427M187 288V414.4M187 331.7V346.2M188 346.2V356.2M188 338.8V347.9M188 323.5V331.9M188 329.5V351M189 335V349.7M189 324.3V334.7M189 331.7V345.4M189 316.8V335.3M190 348.9V358.1M190 332.2V343.3M190 335.3V344.4M190 341.7V347.5M190 332.5V346.1M190 328.3V351.6M191 331.5V344.1M191 339.2V348.2M191 338.8V345.6M191 331.7V344.5M191 314.9V416.9M191 288.8V358.7M191 334.3V344.6M191 335.9V353.3M192 329.8V346.6M192 333.2V370.3M192 328.6V341M193 336.1V344.9M193 336.9V343.1M193 342V351.3M193 330.4V349.8M194 345.9V353.8M194 349V378.9M194 333.4V349.1M194 340.3V347.2M194 323.7V365M194 328.7V336.3M195 336.6V352.1M196 298V335.5M196 334.2V344.5M197 338.6V347M197 339.9V346.9M197 334.8V348.9M197 330V336.3M197 339.3V348M197 399.5V428.7M198 334.6V346.6M198 353.9V364.2M198 339.9V344.7M199 347.3V353.2M200 331V342.1M201 334.4V342.9M201 328.6V336.8M201 323.6V357.3M201 341V349.8M201 338.6V346M201 339.3V344.1M201 341.2V373.8M201 344.7V351.3M201 337.2V347.2M202 342.5V348.2M202 328.6V339.2M202 337.6V346.6M202 321.6V343.1M203 341.6V344.8M203 333V340.3M204 336.7V348.3M204 343V347.1M205 354V372.5M205 339.4V348.4M205 345.8V383.5M206 335.4V345.4M208 340.7V346M208 333.4V361.8M208 338V349.6M209 339.2V347.1M209 331.9V336.6M209 339.5V350.7M209 337.4V344.1M209 340.9V350.6M210 331.6V342.5M211 340.7V348.7M211 346.9V395.8M211 327.7V362.1M211 339.2V347.1M211 344.6V355.8M211 336.5V345.4M212 335.3V344.7M212 337.1V341.8M212 330.4V335.3M212 337.4V346.7M212 341.3V347M212 335.9V343.6M213 340V347.2M213 343.5V355.2M213 345.3V351.8M213 341.8V346.4M214 341.8V346.5M214 340V344.4M215 339.4V342.8M215 330.7V341M215 339.2V348.9M215 323.2V338.4M215 340.5V351.8M215 333.4V341.4M216 309.7V378.1M216 347.7V357.9M216 328V341.2M216 344.9V349.2M216 336.2V342.6M216 331.3V343.9M216 343.4V353.6M217 339.3V344M217 333.8V341.8M217 341.4V346.8M217 331.4V371M217 339.5V342M218 337V346M218 342.1V365.8M218 340.7V346.4M218 337.3V343.5M219 346V349.6M219 339.6V351.6M219 338.2V343.8M219 337.4V341.5M219 334.4V340.8M219 341.2V346.3M220 341.4V347.6M220 339.1V355.9M221 340.1V347.8M222 346.7V353M222 336.8V341.3M222 328.1V360.1M223 336.7V344.7M223 342.4V348.9M223 339.5V344.1M223 353.5V358.2M223 336.1V352.1M223 338.8V349.2M223 344.2V354.5M223 341.9V353.1M224 336.8V341.4M224 334.4V345.1M224 345.6V354.5M224 334.5V345.8M224 324.5V354.1M225 339.9V343.2M225 328.2V338M225 335V340.4M225 334.3V350.4M225 324.7V339.1M225 324.6V376.8M226 301.3V354.4M226 342.1V348.2M226 336.4V347M226 333.5V339.9M226 340.6V346.3M227 342V346.2M227 344.4V350.9M227 338.2V343.2M227 340.3V346.2M228 335.5V346M228 362.8V378.2M229 338.7V344.8M229 336.1V341.1M229 341.4V344.2M229 343V345.6M230 344.1V357.9M230 340.7V344.9M231 347.4V351.2M231 342.8V355M231 318.8V359.1M232 344.3V348.2M232 334.6V339.6M232 341V347.2M233 341.7V345.8M233 338.8V344.4M234 347.1V350.4M234 342.4V349.8M234 333.5V353.6M234 341.8V344.7M234 336.5V345.1M234 338.6V343.3M235 347.5V351.2M235 335.7V340.7M236 345.8V351.8M236 345.1V348.6M236 342.5V345.2M237 343.3V349.4M237 338.3V342.6M237 346.7V354.7M237 343.7V348M237 348.8V369.3M238 338V342.1M238 333.6V337.8M238 342.5V346.2M239 346.7V349.7M239 340V351.1M239 341.1V344.3M239 345.2V351.2M240 342.9V347.3M240 340.1V347.5M240 341.8V348M240 327.8V343M240 342.6V352.4M240 344.9V351.5M240 327.7V342.3M241 335V341.4M241 339V342.7M241 337.6V341M241 342V346.4M242 338.3V344.7M242 339.8V377.9M242 341.6V345.6M242 343.4V349M242 339.8V343.6M243 343.7V348.1M243 346.5V356.2M243 338.4V345.3M243 341.2V355.4M243 338V344.4M244 341.5V345.5M244 333.7V351.8M245 346.1V353.5M245 342.4V344.5M245 338.1V344.1M245 336.6V342.6M246 342.2V347.3M246 336.6V347.5M246 338.9V342.1M246 338.9V342.9M246 338V342.1M246 347.8V351.4M247 340.3V346.9M247 342.9V351.1M247 341.6V346.7M247 342.3V346.5M247 344.3V346.4M248 310.2V363.5M248 340.2V342.3M248 346.9V352M249 340.5V343.5M249 336.4V343.9M249 335.4V342M249 336.9V342.5M249 340.3V346.2M249 340.1V348.6M250 336.3V346.6M250 340.4V344.4M250 339.6V349.8M250 345.8V351.4M250 339.9V343.7M250 342.4V347.7M251 339.9V345.1M251 344.1V350.9M251 345.9V350.1M251 346.8V350.7M251 354.5V392.4M251 342.9V346.4M251 340.4V345.7M252 337.4V346.9M252 342.1V348.3M253 341.1V348.6M253 316.5V341.7M253 338V345.9M253 340.7V343.5M253 337.6V345.7M254 337.5V343M254 342.6V345.6M254 338.8V343.1M254 341.2V345.8M254 342.3V346.1M255 339.1V352.1M255 341.3V344.6M255 338V347.9M255 339.9V347.6M255 340.5V353M255 342.5V347.4M255 339.4V342.8M255 339.5V346.8M256 334.8V342.5M256 340.6V345.9M256 326.2V413.1M257 335.7V340.2M257 341.7V352.6M257 337.5V344.3M257 343.6V347.4M258 343.8V347.7M258 336.4V345.2M258 343.1V346.6M258 343.4V347.9M258 342.6V348.7M258 342.8V346.3M259 339.5V344.5M259 332.8V344.1M259 347.2V351.6M260 334.2V342.7M260 346.4V351.4M260 343.5V349.9M261 341.1V345.1M261 344.7V349.4M261 334.5V339.7M261 342.5V345.9M261 338.6V348M262 335.3V356.3M262 341.4V345.5M262 342.4V346.4M262 338.9V345.7M262 342.7V345.4M262 341.5V346.6M263 338.6V342.4M263 340.3V344M263 343.7V350.1M263 333.5V357.3M263 337.2V340.8M264 338V349.3M264 338.6V344.6M264 318.4V415.4M264 342.8V346.8M264 345.2V348.6M264 339.8V344.1M265 339.1V344.5M265 341.8V347M265 343.4V346.7M266 343.6V346.2M266 341.4V346.6M266 338.7V342.9M266 344V348.2M266 342V344.3M267 339.9V345.3M267 343.8V347.1M268 289.5V370.6M268 336.4V357.7M268 336.9V343M268 328.5V346.6M268 341.6V348M268 344.7V348.5M269 339V347.4M269 342.6V346.3M269 336.4V341.2M270 344.2V354.1M270 340V345.5M271 339.5V342.9M271 343.9V348.5M271 340.3V345M271 334.9V343.5M271 338.9V343.4M271 341.6V346.9M271 338.5V343.6M272 338.1V346.9M272 339.1V345M272 341V348.6M272 338.9V343.1M272 343.2V348.1M273 340.5V343.5M273 340.8V347.4M274 295.5V356.2M274 341.9V346.5M274 339.9V347.2M274 343.8V350.4M275 336.3V341.1M275 341.2V356.4M275 341.5V344.6M275 326.8V351.8M275 339.1V349.5M275 344V348.8M275 341.7V344.8M276 340.2V343M276 342.6V347.8M276 343.1V350.7M277 330.3V356.5M277 332.7V341.9M277 337.3V357.8M278 338.5V345.3M279 331.8V345.6M279 341.9V348.6M279 343V349.9M279 341.3V345.5M279 334.4V354M280 337.7V346M280 340V344.8M280 340.5V344.6M280 332.8V349.1M281 341V345.4M282 341.2V347.2M282 340.9V345.6M282 342.2V346.1M282 343.2V348.1M282 342.2V346.4M282 340.7V345.2M282 340.8V344.5M282 337.9V344.3M283 342.3V346.7M283 341.3V348.2M283 338.3V345.6M285 340V348.3M285 340.5V344.3M285 341V344.6M285 342.2V349.5M285 341V347.4M286 341.1V348M286 340.8V345.4M286 338.7V343.8M286 342.9V346.3M286 336.2V377.5M286 343.2V345.6M286 340V347.7M286 338.3V345.4M287 342.1V347.2M287 343.1V345.5M287 335.2V345.3M287 343V347.4M287 338.5V344.7M288 341.2V345.4M288 338.9V346.1M288 304.2V321.1M288 342.2V345.3M289 338.6V343.3M289 336.4V348M289 333.4V345.4M289 339.1V345.4M289 334.3V357.4M290 341V345.8M291 343V345.9M291 339V345.5M291 339.7V346.4M291 343.3V346.5M291 340.7V346M292 342.6V346.4M292 340.9V344.8M292 341.3V344.7M292 342V345.5M292 343.3V346.3M292 342.2V347.2M293 340.6V343.5M293 342.4V364.3M293 339.9V345.3M293 340.6V344.7M293 340.7V344.7M294 342.8V345.2M294 339.1V344.5M294 341.6V347M294 340.7V343.4M294 342.3V346M295 340.8V346.9M295 339.4V343.3M295 335.7V344.8M295 341.5V346.7M295 340.6V347.4M295 340.8V344.6M296 338.9V346.5M296 342.2V345.2M296 344.6V349.5M297 343.9V350.3M297 341.3V345.9M297 343.6V350.2M297 341.9V346.7M297 340.6V345.8M298 342.2V346.6M298 341.4V344.6M298 335.9V347M298 340.2V355.8M298 339.5V347.8M298 339.7V342.5M300 336.2V342.8M300 340.6V348.2M300 339.2V348.7M300 340.6V344M301 342.3V345.4M301 342.2V346.5M301 342V345.8M301 340.3V345.2M301 338.2V343.9M301 341.8V352.1M302 341.2V346.2M303 341.5V354.8M303 339.2V345.4M303 338.1V346.5M303 338.9V344.9M304 341.1V347.6M304 342.6V348.6M304 343.1V347.6M305 338.6V344.3M305 337.5V341.2M305 341.1V346.1M305 341.8V345.3M305 336.6V350M305 290.2V378.7M306 326V381.5M306 340.9V347M306 336.8V342.7M306 320V354.5M306 341.5V345.9M307 325.4V351.7M307 331V344.9M307 340.1V343.6M308 342.1V345M308 335.9V348.8M308 341.5V344.3M308 343V361M308 347.5V388.3M308 339.4V345.4M308 339.8V345.6M309 339.5V345.3M310 342.1V345.5M310 341V344.3M311 341.9V345.9M311 338V344.4M311 342.4V348.7M311 339.7V346.8M311 340.7V344.3M311 317.3V337M312 338.4V346M312 342.1V347.6M312 341.8V347.2M312 339V342.9M313 343.4V346.3M313 340.2V345.2M313 347.6V354.4M313 344.1V350.7M313 341.8V343.9M314 341.2V346.5M315 354.6V394.2M315 340V343.2M315 320.2V358.9M315 335.3V350.9M315 337.6V347.6M315 340.7V343.4M316 340V344.4M316 341.5V347.4M316 338V346M316 336.2V339.8M316 342.7V345.5M316 340.5V344.6M317 340.3V343.6M318 338.4V343.3M318 340.6V363.5M319 339.4V347.2M319 340.7V346.2M319 342V346.7M319 344.5V350.1M320 338.8V342.9M320 340.7V343.6M320 339.7V344.5M320 341.3V347.3M320 338.8V344.3M320 338.6V344.4M320 339.3V343.9M321 343.2V346.8M321 330.6V346.2M321 343.2V346.3M321 286.2V314.9M321 338.2V343.8M321 336.4V343.4M321 341.1V347.5M322 339V346.5M322 341.4V344.8M322 339.2V343.2M322 339.1V346.1M322 338.5V343.9M323 341.1V346M324 332.8V362.3M324 341.4V364.6M324 340.7V343.9M325 341.7V344.9M325 339.8V342.7M325 343.4V348M325 341.8V344.6M325 342.1V348.6M325 339.1V343.2M325 336.3V351.1M325 335.6V346.8M326 342.2V345.4M326 335V340.9M327 337.2V341.2M327 328.5V386.4M328 341.5V347.2M328 340.3V348.5M328 339V343.1M328 324.7V363.1M328 328.9V347.2M328 356.6V377.6M328 340.7V369.6M329 342.8V349.2M329 256.7V323.1M330 338.3V350.7M330 339.2V344.6M330 338.8V342.3M330 334.7V339.5M330 337.6V342.4M331 339.7V342.4M332 338.1V350.1M332 338.4V344.4M332 344.3V350.8M332 340.8V345.8M332 292.8V330M332 342.7V346.6M332 341.9V346.5M332 339.8V350M333 274.1V427.2M333 324.4V398.7M333 310.2V355.5M333 334.1V341.4M333 256.7V372.8M333 337.7V342.4M333 341V343.3M334 338.9V346.1M334 339.2V345.4M334 345.2V348.4M334 342V345.5M334 342.7V346.3M334 301.9V336.4M334 340.6V382.4M335 336.5V342.9M335 338.2V343.1M335 336.5V344M335 340.1V344.9M336 321.6V342.1M336 340.9V349.7M336 339.1V343.9M336 324.4V368M337 343.6V350.7M338 340V345M338 339.1V342.7M338 276V428.7M338 340.6V345.6M338 340.5V344.3M339 343.1V348.5M339 344.5V349.2M339 338V369M339 300.9V345.3M340 337.8V340.6M340 337.8V343.6M341 341.7V345.5M341 331.5V410.5M341 302.6V359.4M342 333.8V346.7M342 326.3V380M342 337.9V344.6M342 296.3V330.4M343 335.1V342M343 342.5V347.8M344 342.2V348.4M344 342V346.9M344 340.2V348.3M344 326.4V389.4M344 339.1V347.5M345 336.3V341.7M345 339.8V345.7M345 344.3V380.9M345 336.3V358.4M346 340V351.2M346 344.5V350.1M347 372.3V428.7M347 339.9V346.4M347 346.7V357.4M347 344.8V349.2M348 337.2V342.8M348 340.1V351.2M348 336.7V343.7M349 344.3V347.2M349 339.7V346.7M351 337.2V342.6M352 343.1V349.1M354 331.4V418.4M355 340.7V346.9M356 343.8V348M356 345.3V350.2M356 342.6V346.5M356 342.7V347.7M358 346.5V349.9M360 338.9V344.5M361 345.8V350.8M361 345.6V348.8M361 349.9V352.7M362 346.4V350.1M364 306V399.2M364 343V348.6M365 256.7V342.3M365 343.8V347.2M366 346.2V351M366 345V348.3M367 344.9V347.6M367 341.5V347M368 346.4V350.1M369 348.6V357.6M369 344.8V348.9M369 348.4V352M370 346.8V355M371 344.5V352.7M371 371.6V417.9M371 344.6V346.7M372 344.3V348.9M373 347.2V352.1M373 341.7V346.5M373 330.2V365.9M374 344.1V351.4M374 345.7V347.7M374 322.6V358M374 347.5V354.6M375 342V349.8M376 343.3V349.7M377 344.6V352.3M377 263.5V285.9M377 343.8V350.5M377 342.4V347.2M378 347.1V350.3M379 336V351.6M380 301.8V349.8M380 345.3V350M381 361.2V394.7M381 344V348.4M382 345.4V351.1M382 346V349.7M382 347.2V354.6M383 347.8V360.6M383 347.9V355.1M383 328.8V355.5M383 342.3V351.3M383 344.2V349.1M384 346.9V350.2M385 347.1V350.8M385 347.1V351.6M385 349.7V352.2M385 347.5V357.7M385 342.5V347.5M385 344.2V348.2M386 340.9V350.5M386 346.4V351M387 344.3V348.1M388 342.8V347.7M389 341.7V351.5M389 343.3V346.6M390 339.3V345.5M391 343.5V350.1M392 345.6V348.8M392 348.1V351.7M392 346.8V352.5M392 339.8V346.4M393 348V355.5M393 343V347.1M393 344.8V349.9M393 343.6V368.1M394 323.2V364.4M395 346.9V350.3M395 343V346.2M397 347.6V350.7M397 342.5V349.3M397 349.3V356.2M397 347.9V352M398 343.4V348.5M399 344.7V349.4M400 336V348.5M400 339.3V345M401 342V352M401 348.8V376.3M403 342.9V347.4M403 345.9V351.4M403 317.2V366.2M406 336.3V345.3M406 340V345.4M406 329.7V348.4M107 303V327M107 319.9V329.9M114 331.9V347.9M422 320V336M432 326.9V338.9M425 328.9V338.9M437 314.9V362.9M409 340.6V344.6M410 343.8V347.8M416 340.9V344.9M424 345.9V351.9M428 343.8V347.8M415 346V354M407 344V368M413 306V426M411 356.9V400.9M441 341.9V345.9M464 261V381M466 340.9V346.9M465 344.9V350.9M495 316V326M492 335.9V341.9M497 342.9V346.9M495 345.9V349.9M512 342.9V346.9M525 256.7V337M519 359.9V377.9M524 383V401M537 339.9V345.9M540 344.8V348.8M542 343.8V347.8M549 337.8V343.8M551 346.9V350.9M553 344.9V352.9M452 337.6V376.5M452 326.3V373.1M456 337.7V390.5M452 341.3V354.6M455 344.5V377.6M457 343.4V362.3M456 337V355.7M453 306.4V392.3M451 346.4V377.3M450 334V368.6M450 329.4V389.5M453 337.8V369.2M449 319V380M455 302.3V346.4M451 310.1V341.3M451 299.7V367.2M451 317.5V364.6M449 365.7V396.4M451 337.3V404.7M455 348.3V382.8M449 319V412.3M450 356.8V390.7M446 343.3V347.3M446 343.5V347.5M448 256.7V337M453 256.7V330.9M450 263.9V343.9M453 360V400" stroke="#d3d3d3" stroke-opacity="0.69" fill="none"/>
<path d="M115 332V337.8M118 333V428.7M119 330.1V407.3M119 319V374M121 256.7V428.7M121 256.7V417.5M122 296.9V370.4M122 303.4V352.5M123 307.7V410.7M125 256.7V428.7M127 256.7V350.9M127 311.9V382.9M127 338.9V395.4M128 265.2V372.8M129 256.7V428.7M130 293.1V428.7M132 256.7V428.7M132 256.7V383.4M132 256.7V428.7M133 321V350M134 256.7V428.7M135 317.2V382.5M135 289.3V391.2M137 315.4V428.7M138 256.7V368.2M138 256.7V428.7M139 308.6V370.5M139 341.2V405.4M140 275.3V331.9M141 319.6V357.2M142 323.4V346.6M142 313.4V333.4M143 288.9V365M143 328V342.1M143 324.1V336.9M144 328.9V346M144 317.6V346.8M144 335.8V353.5M144 320V384.4M144 326.2V379.2M144 317.7V349M145 329.8V338.8M145 333.6V356.6M145 335.3V346.1M145 290V356.8M146 312.5V345.6M146 329.9V342.2M146 311.7V354.9M146 336.7V353.9M147 335.5V344.4M147 272.3V404.9M147 318.8V343.8M147 342.4V348.3M147 312.8V342.4M148 332.3V340.1M148 330.8V350.2M148 333.2V342M148 331.9V339.9M148 334.8V347.4M148 332V344M149 333.1V347.1M149 320.2V361.2M149 337V349.3M149 323.9V352.1M150 333.5V344.3M150 340.5V349.5M150 312V329.7M150 305.6V360M150 318.1V337.4M150 336.4V346.2M151 324.2V348M151 332.3V356.9M151 332.2V348.9M152 338.7V359.4M152 329.6V346M152 325.1V344.8M153 328.5V346.4M153 330.7V351.1M153 258.8V317.7M153 330.2V339.2M153 318.5V345.4M153 303.3V357.2M153 322.6V350.5M154 326.8V341.3M154 326.6V365.4M154 320.3V367.7M154 331.9V345.5M155 340.4V350.7M155 327.7V339.9M156 328.6V345.8M156 303.9V333.1M156 320V348.8M156 334.3V344.2M157 328.1V344M157 335.7V356.4M158 329.4V349.4M158 334.9V353.5M158 329.4V342.2M158 359.1V368.9M158 314V347M158 320.3V338.8M159 294.2V348.4M159 333.1V349.6M159 326.1V409.7M159 328.2V351M159 326.3V343.4M160 327.2V346.6M160 303.2V324.1M161 332V348.5M161 338.3V354.1M161 322.3V348.3M162 330.5V355.3M162 323.7V354.3M162 313V343.9M162 357.4V396.4M163 311.9V326.6M163 321.8V338.6M163 329.3V343.4M164 324.5V356M164 336.6V349.4M164 332.3V344.3M164 335.5V351.8M164 335.5V364.5M164 328.7V347M165 352.8V365.3M165 301.1V346.4M165 295.7V317.2M165 331.1V342.7M166 331.3V346.5M166 330.7V341.4M166 329V340.4M166 322.8V341.3M167 328.4V339.8M167 323.5V376.5M167 333.3V346.4M167 328.1V347.4M168 333.7V341.9M169 333.4V343.3M169 334.6V342.5M169 333.5V342.7M169 328.7V339.1M169 340.4V359.3M170 329.7V346.7M170 326.8V347.1M170 256.7V428.7M170 335.3V348.1M170 330V343.2M170 332.6V344.4M171 336.6V355M171 351.6V365.6M171 325.1V337.4M171 337.2V358.2M171 329.7V355.2M172 327.6V356.3M172 307.9V333.9M172 294.4V413M173 335.6V346.3M173 331.2V338.7M174 328.7V349.9M174 336.8V348M174 345.3V352.2M174 340.9V349M174 333.6V341.8M174 333V351.3M175 328.5V338.1M175 352.2V368M175 315.6V349.4M176 331V342.5M176 278.2V362.9M176 323.8V347M176 331.6V340.7M176 331.4V355.6M177 327.7V335.6M177 348.8V360M177 331.8V344.5M177 319.9V329.2M177 317.3V341.1M177 326.4V355.2M177 340.3V348.6M178 310.4V348.1M178 319.7V329.2M178 263.8V282M178 335.8V350.4M178 358.6V399M178 275.3V329.6M179 335.6V353.1M179 332V399.1M179 326.6V332M180 312.9V320.5M180 331.5V339M180 335.3V343.9M180 334.4V342.1M181 333.8V348.6M181 339.3V348.5M182 320.3V346.7M182 311.6V366M182 325.6V341.9M182 334.1V347.1M183 340.1V349.1M183 331.4V349.6M183 324.5V345.5M183 320.7V330.7M183 358.7V375.6M184 333.1V341.7M184 335.9V340.4M184 331.8V345.5M184 335.7V344.9M184 336.1V350.5M185 334.1V345.3M185 321.2V343.3M185 340.6V352.1M186 340.4V388M186 334.9V343.7M186 318.2V332.7M186 330.4V340.7M186 256.7V398.9M186 331.4V345.7M187 327.9V354.2M187 323.3V349.6M187 366.7V377.4M187 331.6V347M187 312.2V333.3M187 329.2V337.6M187 325.6V335.5M188 331.3V346.7M188 340.6V355M188 325.8V363M188 325.4V339.2M188 324.2V341.1M188 337.7V351.6M188 286.3V372.2M188 333.2V344.4M189 339.8V345.2M189 340V348.1M189 329.8V347.9M189 326.5V341.8M190 339.9V349.9M190 331.6V349.6M190 308.9V356.7M191 334V344.3M191 301.5V415.4M191 338.4V347.7M191 337.6V360.4M191 337.1V344.5M191 327.5V338.3M192 339.3V358.5M192 296.2V341M192 330.8V341.5M192 301.7V312.9M193 334V339.5M193 337V348.3M193 338.6V345.1M193 331.6V338.2M193 318.8V380.9M194 343.4V355.4M194 346.3V358.4M195 338.3V347.9M195 336.2V345.9M195 329.8V338.1M195 314.8V339M196 335.8V347.9M196 336.9V349.3M196 283.1V364.2M196 335.4V345.8M196 307.9V346.5M197 328.5V335.2M197 337.6V353.4M197 338.8V347.4M197 348.3V358.1M198 338.2V347M198 327.9V337.9M198 341.7V349M199 339.2V350.7M199 344.1V352.3M199 340.7V348.9M199 333.2V350.7M199 338.4V350.8M199 329.1V337.7M200 344.1V348.3M200 336.2V344.5M200 336.4V350.8M201 301.5V357.1M201 340V347.6M201 340.1V345.1M201 338.1V348M201 336.9V347.3M201 337.3V351.6M202 328V345.5M203 342.4V351.6M203 345.7V355.7M203 317.4V332M204 342.1V353.3M204 340.8V353.6M204 323.9V353.6M204 344.4V357.2M204 340.1V354.4M205 334.9V344.6M205 344.2V350.3M205 342.4V355.3M205 326.3V336.4M205 336.5V341.5M206 337.8V350.3M206 337.3V345.4M207 342.3V354.1M207 324.9V336.4M207 349.7V352.1M207 335.4V346.3M207 337.2V365.4M208 345.6V356.3M208 342.2V352.4M208 347V355.1M208 348.4V357.6M209 338.1V347M209 344.7V358.3M209 337.8V345.1M209 340.2V345.5M209 324.9V331.7M210 344.5V347.4M210 338.5V348.8M210 318.8V340.6M210 344.8V351.5M210 332.9V351.2M210 344.2V351.3M210 323.9V352.2M211 333.8V351M211 338.7V343.4M211 337.7V348.8M211 339.3V347.7M211 371.3V376.4M212 342.7V349.3M212 338V346.5M212 335.6V341.7M212 340.1V346.4M213 333.1V356.4M213 338.9V342.8M213 340.7V347.5M213 335.3V338.3M213 338.8V349.5M213 334.8V345.7M213 337.4V342.9M214 340.8V348.3M214 324.4V339.1M214 325.4V341.8M215 338.3V343.7M215 340.8V344.3M215 341.3V348M216 338.4V349.4M216 340.9V351M216 341.7V348M216 336.1V339.7M216 340.1V343.6M216 337.3V343.2M216 334.5V341.5M217 344V354.7M217 339.1V344.8M217 341.1V345.7M218 330.6V340.3M218 343.2V351.3M218 339V345.2M219 341.8V345.7M219 347V352.4M220 336V340M220 271.5V405.7M220 343.1V346.7M220 339.5V344.7M220 344.2V348.2M220 346.7V353.6M220 331.5V340.1M220 341.8V349.9M220 329.8V340.7M221 347.2V353.1M221 338.9V348.7M221 264.6V345.3M221 343.3V347.6M221 339.9V354.1M221 345.9V350.6M221 334.1V342.5M222 344.9V348.6M223 333V344.8M223 337.4V342.1M223 341.2V347.9M223 339.3V344.4M223 332.7V347.4M224 332.4V340.9M224 320.7V343M224 343.8V346.4M224 340.5V344.4M225 337.3V344.4M225 337.8V345.6M225 352.3V358.5M225 341.6V346.7M226 346.4V351.7M226 334.5V344M226 336.8V346.4M227 343.2V347.1M227 337.1V343.5M227 326.9V348.9M227 342.7V347.8M227 341.7V347.3M228 347.4V351.5M228 340.9V349.7M228 314.6V355.1M228 343.7V348M228 339.1V349.3M228 335.3V343.3M228 342.4V346.8M228 314.7V337.7M229 341.1V347.7M229 339.3V342.9M229 344.3V353.7M230 334.8V340.5M230 336.5V343.8M230 344.1V350.5M231 343.8V346.7M231 346.4V352.6M231 346.6V351.7M231 341.9V345.8M231 340.7V349.3M232 345.3V349.2M232 314.7V347.2M232 341V344.5M232 344.4V353.8M232 335.2V341.4M232 320.2V345.1M232 331.6V344.3M233 336.3V339.4M233 340.4V345.4M233 341.9V345.5M233 332.9V339.2M234 343.6V347.3M234 335.1V344M234 341.2V347.4M234 335V346.7M234 340.2V345.3M234 332.7V354.3M234 328.5V341.7M235 339.2V345.5M235 347.3V350.4M235 337.9V350.1M235 341.3V347.7M236 344.2V350.5M236 340.4V346M237 344.3V351.1M237 343.2V348.8M237 343.9V348.1M238 342.6V344.8M238 337V339.1M239 345.6V349.6M239 338.7V342.1M240 347.2V351.8M240 344.1V348.6M240 338.8V344M240 338.4V345.3M240 343.4V346.7M240 337V341.8M240 337.1V349.3M241 328.2V358.2M241 335V339.3M241 338.8V342.8M241 336.1V345.3M241 344.6V348.7M241 340.3V348.5M242 343.4V348.9M242 338.2V341.2M243 340.2V345.3M243 333.7V351.8M243 345.9V351.2M243 342.7V347.3M244 350.9V355.4M244 340.1V345M244 347.2V351.3M244 341.2V348.8M244 341.2V348.4M244 341.8V346.1M245 344V348.3M246 334.7V339.4M247 339.7V346.6M247 342.7V349.3M247 339.9V347.2M247 340.9V351.9M247 343.3V352.7M248 348V353.4M248 341.5V345.9M248 345V348.8M248 340.6V347.6M248 342.2V352.1M248 342.3V348.9M248 343V345.7M249 339.1V354.5M249 333.5V341.2M249 342.3V346.3M249 336.3V343.7M249 343.6V347.1M249 341.6V345.1M249 341.2V344.4M249 342.9V348.2M249 334.3V340.6M250 340.7V344.9M250 345.3V348.2M250 338.7V343.3M250 342.5V362.7M251 342.3V345.9M251 339.7V343.6M251 338.3V342.1M251 338.8V346.9M251 336.4V342M251 344.8V347.1M251 340.8V345.8M251 337.8V343.9M252 339.7V345.4M252 341.9V345.4M253 343V346.1M254 342.8V345.2M254 307.9V363.1M254 338.7V346M254 340.5V347.7M254 341.7V345M254 339.5V346.5M254 346.4V351.2M254 341.4V344.2M255 346.6V352.4M255 341.8V348.4M255 339.4V349.2M256 337.3V342.3M256 339.7V346.3M256 336.3V363M257 337.8V343M257 340.8V348.3M257 326.5V347.9M257 343.6V346.9M257 349.7V353.9M258 341.2V345.4M258 341.6V363.6M258 340.8V344.5M258 342.1V348.3M259 335V340.5M259 344.7V351.1M259 341.4V347.3M259 342.3V350.4M259 340.9V346.4M259 342.1V345.5M260 332.8V340.3M260 341.2V345.8M260 342.9V346.2M261 336.6V342.1M261 341.5V345.9M261 338.5V342.8M261 342.9V346.3M261 338.7V344.1M261 339V345.4M261 335.5V348M261 344.6V347.8M262 336.5V342.6M262 341.1V345.2M263 339.3V349M263 349.8V397.4M263 339.8V344.9M264 343V346.3M264 317.1V344.4M264 332.2V353.9M264 340.9V346.4M264 338.4V344.4M265 340.9V344.5M265 340V347.7M265 316.7V348.5M265 341.5V347.1M265 341V345.9M265 342.4V345.2M266 342.4V347.4M266 339.6V344.7M266 340.9V345.5M267 341V345.4M267 338.5V366.3M267 341.5V352.7M267 332.3V346.7M267 336.3V340.9M267 324.7V349.8M267 341.5V350.5M267 341V343.8M267 342V348.5M268 340.9V344.9M268 341.4V370.4M268 343.2V352.5M268 340V346.4M268 336.1V342.5M268 343.5V347.5M269 337.8V348.4M269 338.3V345.1M269 338.6V344.7M270 339.9V347.6M270 344.8V347.9M270 337.3V345M270 340.7V345.2M270 340.4V345.2M271 342.9V347.1M271 340.3V345.1M271 339.9V344.9M271 340V344.8M271 339.2V346.9M271 344.2V347.9M272 340V345.8M272 341.3V345M272 351.9V393.1M272 333.4V353.1M272 341V347.9M272 338.1V344M273 340.6V346.6M273 340.5V351.3M273 340.7V343.5M273 344V349.4M274 342.9V345.8M274 340.9V345M274 339.9V347M275 341V344.7M275 341.8V350.6M275 343.3V346.5M276 341.8V347.6M276 333.2V355.7M276 341.1V345.2M276 341.6V346.9M276 341.1V346.6M276 340V346.5M277 337.1V349.2M277 337.5V344.9M277 343.5V346.1M278 311.9V346.5M278 333.5V345.1M278 343.8V348.8M278 341.9V360.7M279 342.9V349.1M279 340.1V348M279 341.9V348.2M279 342.3V346.4M279 302.7V362.1M279 337V343.3M279 338.3V342.6M279 341.3V346.1M280 339.2V345.8M280 342.3V349.2M280 340.7V348.4M280 340.7V346.7M281 340.5V344.2M281 341.6V345.7M281 343.1V346.4M281 341.2V345M281 338.2V347.8M281 341.6V346.3M281 344.5V351M281 341.7V346M282 337.5V373.5M282 340.3V344.7M282 340V365.5M282 341.8V344.6M282 343.1V347M282 338V342.4M282 342V346.6M283 341.6V344.1M283 339.3V346.1M283 329.9V360.6M283 334V353.6M283 339.2V343.3M284 341.5V347.2M284 337.1V343.2M284 337.7V342.5M284 341.2V345.2M284 341.9V346.8M284 337.7V345M285 342V345.4M285 335.5V340.5M285 340.6V346.8M286 343.2V347.2M286 342.6V346.8M286 342.3V345.9M286 342.3V345.1M286 343V346.5M286 332.5V363.2M286 341.2V347.6M286 339.1V346.3M287 344V348.5M287 344.1V348.2M287 340.7V347.2M288 343.7V346.4M288 343.5V347.4M288 343.4V347M288 333.9V340.7M289 337V347.8M290 340.7V344.4M290 341.4V348.2M290 341.1V345.9M290 342.6V346.9M290 341.4V346.9M291 341.9V347.4M291 343.3V346.3M291 342.9V345.5M291 340.3V354.4M291 338.6V345.1M291 341.4V344.9M292 338.4V345.3M292 340.6V349.4M292 341.4V354.9M292 338.5V345.9M292 345.2V351M293 342.9V349.4M293 333.9V351M293 338.7V347.6M294 340V344.9M294 337.5V344M295 310.6V337.9M295 341.5V347M295 342.1V346.8M297 341.3V345.5M298 339.2V345M298 334.7V385.5M298 342.9V349.5M298 341.6V345.1M299 343.6V349.3M300 343.5V348.4M300 334.5V364.8M300 324.5V373.1M300 342.4V345.1M300 341.9V347M300 341.7V344.8M301 341.8V345.2M301 340.8V345.6M301 340.4V344.8M301 335.6V343.1M301 340.9V345.6M301 341V349.1M301 335.7V345.4M301 342.6V349.4M302 329.3V358.5M302 336.6V344.2M302 339.4V345.1M302 337V342.4M302 338.2V347.6M303 341V346.6M304 342.4V345.3M304 340.1V343.3M304 339.7V345M305 335.5V339M305 338.2V345.8M305 338.8V344.1M305 341.6V345.7M305 346V351M305 339.4V342.5M306 342.3V345.4M306 338.4V341.8M307 337.4V345.3M307 340.9V358.4M307 336.9V360.3M308 342.1V346.8M308 340.7V349.3M308 343.3V347.5M308 341.7V345.7M308 343.9V347M308 340.5V344.4M309 339.1V345.8M310 342.4V347.1M310 344.1V350.4M310 340.2V344.9M310 340.6V345.2M310 343.2V347.2M310 339.9V355.3M310 340.8V347.4M311 340.1V342.8M311 337.3V347.1M311 334.8V365.6M311 334.4V343.8M311 341.8V345.5M312 341.4V348.1M312 340.7V347.5M312 336.8V347.7M312 343.1V346.4M312 341V345.1M313 338.9V342.2M313 339.8V344.1M313 340.1V346.3M314 328.5V353.9M315 341.2V345.5M315 337.1V342.6M315 342V348.9M316 339.1V342.7M316 341.9V349.5M316 339.4V345.6M317 336.7V346.1M317 343.9V347.1M317 339.5V345.5M317 340.1V383.8M317 339.4V349.1M317 341.4V351.7M317 345.4V348.1M317 337.1V347.4M318 338.1V346.8M318 339.7V345.1M318 338.5V346.1M318 339.9V345.1M319 340.1V342.4M319 339.2V343.8M319 339.7V344.9M319 338.2V344.1M319 338.1V343.3M320 343.4V348.1M320 340.8V346.8M320 343V346.4M320 339.3V343.8M321 362.2V428.7M322 339.3V348M322 344.7V347.4M322 338.4V342.9M322 343.2V347.4M323 342.6V348.8M323 352.8V399.2M323 321.3V342.3M323 343.2V348.5M324 316.8V350M324 331.9V344.3M324 329.9V351M324 339.2V344.1M324 342.6V345M324 341.4V375.8M324 258.9V428.7M324 341.1V345.2M324 341.4V347.1M324 314.6V339.8M324 341.1V345.2M325 341.8V346M325 332.4V357.8M325 340.1V346.4M325 326.9V344.5M326 337.9V343M326 339.4V344.4M327 341.5V345.8M328 339.6V346M328 338.9V345.3M328 340.3V345.1M328 340.6V347.9M328 338.2V344.1M329 342.6V348.7M329 345.4V350.9M330 342.5V346.1M330 342.2V346.6M331 339.9V343.2M331 340.6V344.3M331 339.1V343M331 342.5V347.1M332 341.4V346.2M332 256.7V383.3M332 339.9V343.2M332 339.5V350M333 338.9V345.7M333 340.1V345.1M333 338.2V342.3M333 334.5V341.2M333 341.7V345.3M333 342.8V348.4M334 342V347.9M334 341V344.8M334 338.5V346.7M335 338.9V346M336 327.9V339.4M337 335.8V352.4M337 339.6V343.9M337 334.7V351M337 337.9V346.5M338 338.6V343.9M338 342.8V351.5M338 297.7V425.9M339 340V344.8M339 344.3V347.2M340 344.1V348.7M340 256.7V319.4M340 334.1V348.1M340 343.4V346.4M340 343V348.6M341 341V347.1M341 348.7V370.9M341 341.2V344.1M341 335.7V351.1M341 340.8V344.8M342 318.7V347.9M343 336.9V345.6M343 341.7V345.6M344 343.7V349.2M344 338.8V344.2M345 326.2V364.6M345 342.7V350.5M345 338.9V344.8M345 343V347.1M345 337.7V344.9M346 336.1V354.7M347 341.7V346.9M347 339.4V344.1M347 340.4V344.9M348 341.4V347.8M348 344.4V349.1M348 342.1V346.7M349 333.3V368.4M349 342.1V345.7M349 318.8V400.3M349 342.6V345.9M349 339.1V345.8M350 344.1V347.6M350 342.6V348.6M351 342.7V347M351 342.4V347.2M352 342.5V345.4M353 340.7V346.6M353 340.8V347.5M353 256.7V360.3M354 341.2V346.7M354 344.7V351.6M354 331.8V367.5M355 346V350.8M355 365.8V381.3M355 339.3V344.6M355 342.2V346.2M355 346.7V386.6M356 346.3V351.4M357 345V351.3M358 340V363.1M358 341.9V346.3M359 343.1V346M360 345.4V350.9M360 346.9V351.1M360 342.6V348M360 345.5V348.2M360 344.1V352.7M361 338.3V344.8M362 341.5V360.3M364 314.5V384.4M364 292.8V329.9M364 345.1V350.6M364 344.1V357M365 346.1V350.2M365 344.3V351.4M365 344.9V349.6M366 326.4V368.5M366 344.7V352.4M366 338.5V344.3M367 346.6V349.6M367 325.6V341.9M368 287.4V371.3M368 331.3V350.7M370 343.5V350.3M370 337.9V349.9M370 343.5V351M370 345V349.7M371 347V353M371 344.1V347.8M371 345.8V352.4M371 324V354.2M372 344.9V347M372 337.9V360.2M372 346.8V353.3M373 346.2V350.6M373 340V344.8M373 343.4V353.6M374 337.9V381.6M375 346V349M375 343.5V347.9M375 345.8V350.9M376 316V335.9M376 345.5V351.8M377 340.4V363.1M377 341.2V348.9M377 343.5V348.1M378 345.7V353.1M378 343.1V347.1M378 340.4V346M378 346.7V350.3M379 345.3V350.3M380 344.8V348M380 343.1V367.7M382 344.1V354.3M382 351.9V357.1M383 346.6V349.4M383 343.4V349.6M383 333V350.2M383 348.3V354M384 347V351.7M384 342.8V349.5M384 349.9V367.3M384 371.1V385.4M385 341.1V369.5M387 346.7V352M387 347.4V351.6M387 346.3V349.3M387 320.2V340.1M387 348.3V364.4M387 340.3V348M388 341.3V360.4M388 348.4V351.3M388 344V348.2M389 268.5V344.9M390 344.3V348.9M390 347.4V351.5M390 339.2V376.5M390 343.1V348.3M392 336.9V346.3M392 347.2V351.1M393 334.6V351.2M393 344.5V348.7M394 343.5V347.1M394 346.5V349.6M394 331.7V351.6M395 346V357.6M396 343V350.2M397 345.4V351.4M397 340.4V349.4M397 336V345M397 340.9V352.5M398 340V356.1M399 350.9V358.8M400 345.5V351.1M400 342.4V347.8M400 339.3V350.1M400 339.5V348.7M401 389.1V400.8M401 338.8V344.6M402 327.3V348.8M402 342.6V353.6M402 339.1V345.5M403 326.8V354.1M403 343.5V349.1M403 346.3V350.9M404 347.7V364M404 339.8V350.4M405 344.5V353M405 344.5V348.5M405 277.7V392.2M406 322.9V336.3M406 341.9V346.2M107 312V328M109 323.8V331.8M110 331V339M111 333.4V343.4M109 340.9V350.9M417 316.8V336.8M419 345.9V351.9M425 343.8V347.8M431 345.9V351.9M408 346V352M404 379.8V391.8M438 341.9V347.9M441 344.6V350.6M460 344.9V350.9M475 334.9V342.9M474 256.7V428.7M475 308.9V428.7M496 339V345M491 344.8V348.8M496 344.8V348.8M502 329.9V355.9M500 342.8V390.8M509 344.8V348.8M511 343.8V347.8M521 342.9V346.9M525 327.8V333.8M525 348.8V352.8M534 341.9V345.9M543 342.9V346.9M453 289V397.7M455 332.2V361.1M458 319.7V363.1M449 323.1V387.2M455 356.5V360.8M454 338.1V346M454 294.5V353.3M453 313.5V356.2M448 327V340.3M448 324.6V342.6M451 302.4V355M455 338.4V348M449 322V327.2M453 330.1V345.5M450 280.8V364.9M450 339.8V381.4M451 370.5V389.8M453 367.8V387.1M455 256.7V325M450 382V428.7M474 256.7V358" stroke="#d3d3d3" stroke-opacity="0.69" fill="none"/>
<path d="M115 335 115 333 116 325 118 383 119 369 119 347 119 401 119 333 120 341 120 304 121 427 121 313 122 303 122 334 122 302 122 328 122 324 122 297 123 359 123 349 124 308 124 338 125 325 125 319 125 366 125 340 125 388 125 345 125 362 126 336 127 356 127 347 127 367 128 308 128 349 128 334 128 319 128 327 129 417 129 274 129 342 130 366 130 310 130 321 130 298 130 312 130 325 131 277 131 421 132 328 132 301 132 344 133 335 133 307 133 275 133 352 134 329 134 340 134 376 134 395 134 321 134 406 134 379 134 335 135 350 135 338 135 340 136 312 136 327 136 333 136 318 137 318 137 339 137 382 137 332 137 364 137 267 138 330 138 273 138 334 138 342 138 339 139 340 139 373 139 322 139 347 139 336 139 359 139 332 139 335 139 345 139 339 140 404 140 338 140 342 140 304 140 373 140 337 140 352 140 334 140 331 141 325 141 344 141 323 141 294 141 333 141 261 141 335 141 333 141 338 141 371 141 354 141 332 142 335 142 341 142 350 142 342 142 335 142 335 142 345 142 346 142 335 142 323 143 359 143 329 143 334 143 340 143 340 143 336 143 323 143 327 143 334 143 335 143 335 143 330 143 342 143 348 143 337 143 312 143 350 144 338 144 337 144 336 144 291 144 337 144 302 144 332 144 345 144 340 144 352 144 337 144 353 144 333 144 328 144 344 144 331 144 339 145 348 145 334 145 345 145 324 145 339 145 328 145 323 145 385 145 341 145 323 145 336 145 273 145 337 145 336 145 341 146 329 146 342 146 334 146 336 146 363 146 354 146 336 146 333 146 373 146 347 146 345 146 284 146 342 147 383 147 307 147 340 147 328 147 338 147 342 147 335 147 339 147 362 147 331 147 338 147 330 147 345 147 331 147 328 147 386 147 330 147 326 147 358 147 334 147 328 148 338 148 375 148 323 148 325 148 317 148 331 148 336 148 341 148 340 148 337 148 338 148 336 148 341 148 338 148 331 149 345 149 340 149 327 149 324 149 333 149 341 149 322 149 343 149 345 149 389 149 338 149 335 150 339 150 345 150 321 150 326 150 333 150 354 150 293 150 328 150 341 150 339 150 342 150 368 150 343 150 327 151 361 151 333 151 336 151 338 151 336 151 337 151 348 151 339 151 345 151 341 151 346 152 349 152 339 152 337 152 334 152 342 152 338 152 324 152 331 152 336 152 335 152 322 152 344 153 337 153 338 153 341 153 288 153 335 153 341 153 344 153 323 153 332 153 338 153 330 153 337 153 341 153 339 154 335 154 334 154 344 154 334 154 329 154 329 154 317 154 334 154 316 154 346 154 342 154 330 154 344 154 339 154 338 154 347 154 336 154 334 154 347 155 341 155 346 155 334 155 310 155 343 155 341 155 336 155 266 155 313 155 335 155 340 155 333 156 330 156 292 156 337 156 319 156 334 156 332 156 341 156 346 156 331 156 339 157 339 157 344 157 295 157 338 157 346 157 359 157 331 157 341 157 336 157 346 157 335 157 341 157 336 157 343 157 337 157 334 157 341 157 331 157 341 158 329 158 356 158 348 158 339 158 332 158 344 158 336 158 374 158 364 158 334 158 331 158 330 158 338 159 321 159 338 159 341 159 368 159 360 159 340 159 335 159 389 159 332 159 321 159 360 159 340 159 312 159 324 160 338 160 344 160 340 160 337 160 331 160 314 160 339 160 337 160 333 160 332 160 345 160 338 161 344 161 335 161 340 161 335 161 327 161 395 161 343 161 345 161 340 161 346 161 327 161 339 161 335 162 338 162 327 162 333 162 381 162 330 162 334 162 343 162 330 162 330 162 335 162 339 162 339 162 340 162 328 162 377 163 319 163 332 163 339 163 339 163 317 163 330 163 337 163 362 163 346 163 343 163 342 163 335 163 336 163 323 163 342 163 341 164 340 164 340 164 343 164 331 164 336 164 338 164 344 164 350 164 338 164 341 164 343 164 331 164 341 164 339 164 337 164 348 164 342 165 359 165 330 165 341 165 343 165 341 165 321 165 324 165 306 165 331 165 337 165 332 165 339 165 351 165 333 165 337 166 339 166 380 166 336 166 348 166 327 166 313 166 347 166 344 166 337 166 339 166 339 166 327 166 336 166 361 166 335 166 332 166 342 166 342 167 350 167 334 167 346 167 350 167 345 167 340 167 334 167 367 167 337 167 340 167 338 167 325 167 345 167 347 167 338 168 341 168 321 168 339 168 349 168 339 168 335 168 357 168 334 168 350 168 330 168 348 168 338 168 338 169 330 169 333 169 348 169 333 169 338 169 339 169 345 169 338 169 338 169 340 169 337 169 343 169 334 169 350 169 333 169 350 170 333 170 338 170 347 170 359 170 333 170 335 170 337 170 333 170 334 170 330 170 337 170 342 170 337 170 344 170 338 170 339 170 338 170 338 170 336 170 338 171 346 171 359 171 334 171 340 171 339 171 332 171 338 171 341 171 338 171 334 171 331 171 332 171 348 171 342 171 335 171 355 171 328 172 345 172 389 172 369 172 345 172 342 172 321 172 354 172 338 172 340 172 343 172 326 172 335 172 305 172 356 173 341 173 339 173 338 173 335 173 337 173 337 174 339 174 353 174 333 174 339 174 335 174 336 174 342 174 332 174 349 174 345 174 338 174 346 174 342 174 344 174 336 174 342 174 338 174 336 175 328 175 333 175 360 175 340 175 332 175 334 175 338 175 347 175 340 175 345 175 332 175 329 175 360 175 374 175 343 175 322 176 337 176 340 176 357 176 337 176 311 176 321 176 336 176 343 176 342 176 335 176 332 176 338 176 336 176 343 176 343 176 351 176 333 177 332 177 357 177 343 177 354 177 338 177 325 177 343 177 342 177 327 177 344 177 329 177 341 177 347 177 344 178 306 178 337 178 332 178 333 178 337 178 329 178 340 178 328 178 348 178 343 178 332 178 333 178 324 178 334 178 273 178 343 178 379 178 345 178 351 178 302 179 344 179 341 179 366 179 329 179 333 179 311 179 337 179 349 179 349 179 351 179 307 179 340 179 335 179 343 179 336 179 323 179 351 180 345 180 336 180 343 180 317 180 335 180 339 180 340 180 312 180 338 180 340 180 334 180 334 181 340 181 328 181 316 181 337 181 335 181 348 181 343 181 341 181 338 181 344 182 357 182 333 182 342 182 341 182 333 182 349 182 335 182 339 182 339 182 342 182 333 182 334 182 340 182 338 182 336 182 341 183 341 183 345 183 342 183 341 183 340 183 335 183 336 183 341 183 335 183 335 183 326 183 334 183 367 183 346 183 331 183 345 183 343 183 347 184 332 184 335 184 337 184 338 184 339 184 372 184 323 184 339 184 340 184 343 185 332 185 350 185 337 185 339 185 337 185 340 185 340 185 332 185 334 185 346 185 337 186 340 186 321 186 364 186 349 186 341 186 343 186 339 186 342 186 325 186 336 186 337 186 286 186 339 187 341 187 336 187 372 187 339 187 358 187 346 187 323 187 391 187 351 187 333 187 339 187 337 187 326 187 340 187 340 187 339 187 331 188 339 188 336 188 331 188 348 188 344 188 351 188 332 188 330 188 333 188 345 188 343 188 331 188 345 188 328 188 344 188 348 188 343 188 329 188 346 188 340 188 341 188 339 189 346 189 412 189 342 189 342 189 332 189 329 189 344 189 339 189 339 189 334 189 353 189 332 189 349 189 386 189 335 189 326 190 339 190 345 190 354 190 332 190 318 190 338 190 338 190 341 190 360 190 340 190 345 190 341 190 333 190 340 190 339 190 340 190 333 190 337 191 338 191 339 191 358 191 336 191 340 191 347 191 339 191 344 191 342 191 338 191 343 191 366 191 349 191 337 191 341 191 324 191 331 191 339 191 338 191 333 191 345 192 314 192 349 192 328 192 341 192 338 192 343 192 352 192 319 192 336 192 336 192 335 192 340 192 343 192 339 192 334 192 349 192 307 193 341 193 328 193 340 193 343 193 337 193 343 193 342 193 347 193 342 193 340 193 353 193 335 193 341 193 332 193 350 194 350 194 332 194 349 194 359 194 364 194 341 194 344 194 353 194 339 194 340 194 344 194 349 194 348 194 336 194 333 194 352 195 335 195 333 195 336 195 353 195 343 195 341 195 344 195 337 195 331 195 338 195 334 195 327 195 349 196 341 196 342 196 361 196 343 196 324 196 340 196 341 196 317 196 327 196 336 196 339 196 350 197 332 197 346 197 362 197 343 197 348 197 343 197 343 197 342 197 353 197 333 197 336 197 344 197 353 197 343 197 343 197 344 197 354 197 349 197 423 198 344 198 352 198 339 198 341 198 343 198 359 198 292 198 338 198 344 198 333 198 391 198 338 198 342 198 345 199 345 199 342 199 348 199 345 199 339 199 348 199 351 199 345 199 342 199 355 199 352 199 345 199 350 199 344 199 338 199 346 199 333 199 344 199 326 200 337 200 355 200 329 200 338 200 346 200 356 200 343 200 340 200 339 200 344 200 340 200 338 201 329 201 344 201 339 201 342 201 343 201 339 201 333 201 340 201 345 201 334 201 345 201 346 201 342 201 342 201 343 201 342 201 358 201 348 201 336 201 348 201 342 201 344 202 337 202 352 202 337 202 341 202 342 202 345 202 334 202 338 202 350 202 342 202 354 202 349 202 346 202 332 202 337 202 351 203 340 203 346 203 344 203 343 203 347 203 337 203 344 203 346 203 343 203 351 203 343 203 335 203 325 203 339 203 342 203 343 204 359 204 355 204 342 204 344 204 348 204 347 204 348 204 345 204 339 204 342 204 338 204 342 204 341 204 328 204 351 204 347 204 345 204 341 205 340 205 347 205 347 205 363 205 344 205 365 205 349 205 331 205 339 205 339 206 347 206 346 206 342 206 337 206 344 206 345 206 345 206 349 206 349 206 341 206 339 206 342 206 355 206 340 206 339 206 344 206 341 206 339 206 348 207 335 207 348 207 347 207 331 207 351 207 346 207 343 207 344 207 327 207 343 207 345 207 341 207 342 207 351 207 346 207 333 208 347 208 337 208 348 208 344 208 348 208 351 208 347 208 343 208 347 208 342 208 348 208 347 208 344 208 351 208 343 208 346 208 353 208 344 209 346 209 343 209 343 209 343 209 351 209 334 209 345 209 349 209 342 209 340 209 341 209 341 209 346 209 339 209 343 209 328 210 345 210 342 210 346 210 336 210 344 210 341 210 347 210 347 210 356 210 334 210 358 210 330 210 348 210 337 210 342 210 348 210 338 210 334 211 345 211 342 211 371 211 341 211 345 211 307 211 343 211 346 211 343 211 343 211 350 211 374 211 346 211 344 211 341 211 334 211 346 211 345 212 340 212 341 212 339 212 333 212 334 212 342 212 346 212 342 212 339 212 342 212 342 212 344 212 339 212 347 212 343 212 340 212 332 212 344 212 341 212 343 212 339 213 344 213 345 213 340 213 347 213 340 213 341 213 349 213 349 213 352 213 344 213 344 213 378 213 344 213 348 213 352 213 337 213 344 213 342 213 343 213 352 213 346 213 340 213 343 213 344 213 340 214 345 214 332 214 330 214 345 214 332 214 334 214 347 214 344 214 342 214 340 214 337 215 338 215 341 215 341 215 337 215 343 215 336 215 340 215 347 215 344 215 331 215 344 215 345 215 346 215 343 215 343 215 339 215 337 216 344 216 346 216 344 216 345 216 347 216 353 216 335 216 347 216 349 216 347 216 338 216 342 216 341 216 339 216 340 216 338 216 338 216 341 216 348 216 342 217 343 217 341 217 342 217 339 217 338 217 344 217 341 217 345 217 344 217 344 217 349 217 344 217 351 217 336 217 345 217 342 217 341 217 328 217 347 217 343 218 335 218 346 218 335 218 348 218 336 218 342 218 338 218 342 218 347 218 354 218 342 218 347 218 341 218 344 218 344 218 340 218 344 218 340 218 345 218 342 218 344 219 343 219 336 219 346 219 348 219 344 219 350 219 346 219 346 219 343 219 341 219 339 219 338 219 344 219 344 219 345 219 340 220 338 220 339 220 345 220 342 220 342 220 346 220 340 220 335 220 350 220 344 220 345 220 336 220 346 220 335 220 345 220 343 220 345 220 347 221 349 221 341 221 344 221 350 221 344 221 340 221 337 221 347 221 343 221 305 221 344 221 340 221 345 221 347 221 347 221 348 221 338 221 343 221 341 221 346 222 350 222 349 222 343 222 342 222 346 222 342 222 341 222 339 222 349 222 347 222 344 223 341 223 346 223 342 223 339 223 345 223 356 223 344 223 344 223 340 223 345 223 349 223 342 223 342 223 340 223 348 224 339 224 347 224 343 224 339 224 337 224 348 224 344 224 329 224 340 224 350 224 332 224 345 224 340 224 347 224 342 224 339 225 341 225 342 225 344 225 347 225 341 225 340 225 342 225 344 225 333 225 338 225 338 225 342 225 346 225 332 225 337 225 342 225 355 225 344 225 351 226 349 226 328 226 344 226 344 226 335 226 345 226 342 226 342 226 339 226 343 226 342 226 337 226 345 226 343 226 340 226 348 226 337 227 343 227 346 227 346 227 345 227 340 227 343 227 338 227 339 227 343 227 344 227 345 227 344 227 348 227 341 227 337 227 342 227 343 227 337 227 345 228 341 228 341 228 349 228 345 228 335 228 346 228 346 228 336 228 344 228 344 228 350 228 339 228 345 228 345 228 344 228 340 228 326 228 371 228 342 228 333 228 339 229 342 229 339 229 349 229 343 229 342 229 346 229 344 229 339 229 342 229 345 229 344 229 344 229 341 229 338 229 349 229 349 229 344 229 343 229 345 230 345 230 341 230 351 230 343 230 348 230 328 230 350 230 355 230 343 230 338 230 340 230 347 230 348 230 342 231 336 231 339 231 344 231 345 231 338 231 351 231 349 231 349 231 349 231 343 231 344 231 346 231 349 231 346 231 338 231 345 231 343 231 344 231 345 231 339 231 339 231 345 232 347 232 346 232 347 232 346 232 345 232 331 232 345 232 343 232 344 232 336 232 349 232 341 232 337 232 341 232 338 232 343 232 338 232 333 232 346 232 344 232 353 232 338 233 339 233 346 233 338 233 343 233 361 233 346 233 344 233 342 233 344 233 336 233 345 233 344 233 342 234 345 234 344 234 340 234 349 234 345 234 346 234 344 234 344 234 343 234 341 234 341 234 342 234 343 234 344 234 343 234 340 234 341 234 335 235 349 235 342 235 346 235 349 235 350 235 340 235 345 235 341 235 398 235 344 235 348 235 344 235 338 236 346 236 347 236 347 236 349 236 349 236 347 236 344 236 343 236 343 236 345 236 339 236 342 236 334 236 343 236 340 236 342 236 341 236 344 236 338 236 340 236 348 237 348 237 346 237 345 237 346 237 344 237 340 237 343 237 346 237 351 237 340 237 346 237 338 237 359 237 342 237 343 237 341 238 340 238 344 238 336 238 339 238 342 238 340 238 346 238 344 238 338 238 345 238 338 239 340 239 348 239 348 239 350 239 340 239 348 239 347 239 341 239 346 239 343 239 347 239 348 239 342 240 349 240 345 240 346 240 337 240 344 240 343 240 341 240 345 240 342 240 335 240 345 240 345 240 338 240 347 240 342 240 349 240 348 240 339 240 343 240 342 240 335 240 344 240 343 241 344 241 346 241 343 241 338 241 337 241 345 241 341 241 339 241 337 241 341 241 341 241 341 241 343 241 347 241 339 241 344 241 344 241 350 242 341 242 339 242 343 242 359 242 339 242 346 242 342 242 348 242 346 242 344 242 346 242 347 242 344 242 342 242 347 242 340 243 342 243 346 243 344 243 351 243 342 243 345 243 343 243 343 243 342 243 349 243 350 243 342 243 348 243 345 243 346 243 341 243 346 243 344 244 353 244 344 244 343 244 343 244 343 244 349 244 343 244 345 244 345 244 342 244 348 244 345 244 343 244 344 244 346 244 348 244 325 245 350 245 343 245 342 245 344 245 342 245 341 245 341 245 346 245 343 245 343 245 340 245 345 246 333 246 369 246 345 246 337 246 342 246 341 246 337 246 341 246 340 246 350 246 347 247 344 247 343 247 343 247 343 247 348 247 344 247 346 247 347 247 344 247 346 247 344 247 344 247 345 247 344 247 344 247 346 247 348 247 344 247 340 248 345 248 342 248 347 248 337 248 351 248 344 248 347 248 344 248 363 248 341 248 341 248 347 248 349 248 341 248 347 248 347 248 344 248 346 248 344 248 345 249 347 249 337 249 344 249 345 249 340 249 340 249 342 249 342 249 341 249 341 249 340 249 344 249 345 249 341 249 342 249 339 249 340 249 343 249 344 249 343 249 343 249 346 249 337 249 338 250 343 250 346 250 347 250 341 250 344 250 341 250 342 250 344 250 340 250 347 250 345 250 353 250 342 250 345 250 349 250 341 250 342 250 345 250 349 251 343 251 348 251 343 251 344 251 342 251 345 251 340 251 338 251 345 251 348 251 346 251 348 251 343 251 349 251 343 251 339 251 373 251 346 251 345 251 343 251 343 251 350 251 343 251 344 251 341 252 342 252 342 252 343 252 342 252 343 252 346 252 343 252 340 252 348 252 344 252 344 252 345 253 344 253 342 253 347 253 343 253 342 253 345 253 345 253 346 253 329 253 345 253 342 253 352 253 345 253 342 253 342 254 342 254 344 254 340 254 335 254 344 254 342 254 344 254 344 254 346 254 341 254 343 254 346 254 343 254 349 254 345 254 344 254 347 254 344 254 343 255 346 255 345 255 343 255 349 255 343 255 341 255 345 255 344 255 347 255 343 255 345 255 341 255 348 255 344 255 343 255 343 256 340 256 340 256 339 256 343 256 346 256 345 256 343 256 342 256 350 256 345 256 370 257 346 257 342 257 338 257 346 257 340 257 347 257 341 257 344 257 340 257 341 257 345 257 346 257 337 257 346 257 345 257 352 258 349 258 343 258 343 258 337 258 341 258 346 258 353 258 342 258 343 258 343 258 341 258 347 258 345 258 346 258 339 258 345 258 346 258 345 258 347 258 345 259 344 259 347 259 340 259 342 259 338 259 348 259 344 259 342 259 312 259 346 259 342 259 347 259 339 259 338 259 340 259 344 259 341 259 344 259 349 260 314 260 340 260 343 260 343 260 338 260 338 260 337 260 349 260 344 260 343 260 343 260 342 260 345 260 340 260 347 261 339 261 344 261 346 261 346 261 343 261 345 261 347 261 347 261 341 261 343 261 348 261 345 261 337 261 339 261 341 261 344 261 343 261 342 261 342 261 342 261 346 261 289 261 346 262 346 262 345 262 346 262 341 262 345 262 340 262 343 262 343 262 344 262 346 262 346 262 341 262 343 262 343 262 342 262 344 262 344 262 344 262 367 263 342 263 341 263 346 263 344 263 374 263 342 263 342 263 343 263 347 263 341 263 346 263 340 263 345 263 340 263 339 264 346 264 344 264 345 264 331 264 348 264 332 264 343 264 344 264 342 264 342 264 367 264 345 264 346 264 344 264 347 264 342 264 341 265 346 265 343 265 344 265 342 265 344 265 333 265 344 265 344 265 348 265 343 265 344 265 345 266 345 266 345 266 345 266 344 266 341 266 342 266 346 266 346 266 343 266 343 266 344 266 344 266 343 267 343 267 342 267 352 267 347 267 340 267 343 267 339 267 343 267 337 267 341 267 345 267 346 267 342 267 345 267 344 268 343 268 349 268 344 268 343 268 330 268 344 268 340 268 343 268 344 268 343 268 343 268 335 268 347 268 356 268 346 268 340 268 345 268 338 268 344 268 348 268 345 268 345 268 343 268 347 268 339 268 346 269 294 269 343 269 344 269 343 269 335 269 343 269 337 269 342 269 342 269 344 269 342 269 346 269 342 269 339 270 349 270 340 270 342 270 344 270 344 270 346 270 342 270 342 270 341 270 343 270 346 270 340 270 339 270 345 270 343 270 343 270 342 271 341 271 345 271 345 271 341 271 343 271 343 271 346 271 343 271 339 271 341 271 345 271 343 271 344 271 345 271 342 271 341 271 341 271 342 271 345 271 345 271 343 271 343 271 346 271 343 272 346 272 343 272 344 272 342 272 342 272 343 272 345 272 373 272 346 272 343 272 337 272 346 272 345 272 341 272 344 272 347 272 348 272 344 272 341 272 342 272 346 273 342 273 344 273 344 273 344 273 344 273 346 273 345 273 346 273 344 273 345 273 344 273 342 273 347 274 345 274 326 274 343 274 344 274 344 274 343 274 346 274 344 274 343 274 345 274 347 274 343 274 346 274 343 274 346 275 343 275 346 275 339 275 349 275 342 275 346 275 349 275 343 275 346 275 343 275 339 275 351 275 344 275 348 275 345 275 346 275 342 275 344 275 345 275 346 275 343 276 345 276 344 276 344 276 342 276 347 276 345 276 345 276 343 276 345 276 345 276 346 276 344 276 347 276 345 276 344 276 344 276 341 276 344 276 343 276 343 277 342 277 344 277 344 277 343 277 337 277 348 277 343 277 339 277 343 277 341 277 345 277 344 277 341 277 345 278 329 278 339 278 344 278 342 278 346 278 345 278 345 278 346 278 342 278 343 278 336 278 344 278 345 278 344 278 351 278 344 279 346 279 344 279 344 279 339 279 345 279 344 279 346 279 345 279 343 279 345 279 343 279 342 279 344 279 344 279 332 279 340 279 340 279 350 279 344 279 344 280 340 280 343 280 343 280 341 280 346 280 340 280 345 280 342 280 342 280 344 280 332 280 344 280 344 280 342 280 345 280 342 280 343 280 343 280 344 280 341 281 347 281 340 281 342 281 344 281 360 281 345 281 343 281 343 281 342 281 344 281 343 281 342 281 345 281 342 281 344 281 348 281 344 281 344 282 344 282 344 282 343 282 343 282 344 282 356 282 346 282 343 282 345 282 344 282 343 282 353 282 343 282 345 282 340 282 344 282 344 282 347 282 344 282 343 282 341 282 342 283 344 283 344 283 343 283 343 283 344 283 345 283 345 283 342 283 345 283 344 283 341 283 345 283 343 284 344 284 340 284 340 284 341 284 343 284 343 284 344 284 344 284 348 284 343 284 341 284 346 285 343 285 347 285 342 285 344 285 338 285 340 285 344 285 342 285 342 285 343 285 346 285 344 285 344 285 344 285 343 285 344 285 338 286 344 286 344 286 347 286 345 286 345 286 343 286 345 286 341 286 345 286 345 286 357 286 346 286 344 286 342 286 353 286 344 286 344 286 347 286 345 286 344 286 342 286 342 286 348 286 344 286 343 287 340 287 345 287 342 287 344 287 344 287 340 287 345 287 344 287 346 287 345 287 342 287 346 287 342 287 344 287 344 287 346 288 343 288 345 288 345 288 341 288 345 288 345 288 345 288 341 288 344 288 346 288 343 288 343 288 343 288 313 288 344 288 345 288 337 288 344 289 341 289 342 289 344 289 339 289 342 289 344 289 343 289 346 289 343 289 342 289 343 289 342 290 348 290 343 290 344 290 343 290 343 290 345 290 345 290 345 290 343 290 343 290 345 290 344 290 345 290 346 290 344 290 344 290 342 291 345 291 344 291 342 291 345 291 344 291 344 291 324 291 342 291 343 291 342 291 345 291 343 291 347 291 342 291 343 291 343 292 344 292 342 292 345 292 344 292 343 292 348 292 344 292 343 292 344 292 342 292 343 292 342 292 348 292 344 292 323 292 342 292 343 292 345 292 344 292 345 293 342 293 344 293 353 293 346 293 346 293 342 293 345 293 343 293 333 293 343 293 343 293 337 293 345 293 343 293 343 293 344 294 345 294 344 294 342 294 342 294 342 294 344 294 343 294 343 294 342 294 342 294 341 294 342 294 343 294 344 294 322 294 344 294 336 294 344 294 343 294 343 295 344 295 344 295 341 295 340 295 341 295 324 295 344 295 344 295 343 295 342 295 343 295 344 295 343 295 344 295 344 295 343 296 346 296 344 296 342 296 343 296 347 296 345 296 343 296 343 296 344 296 347 296 342 297 347 297 345 297 344 297 343 297 342 297 347 297 347 297 343 297 344 297 344 297 343 297 345 298 344 298 342 298 344 298 343 298 345 298 346 298 342 298 342 298 340 298 343 298 343 298 344 298 344 298 360 298 341 298 346 298 343 298 348 298 345 298 343 298 343 298 345 298 344 298 341 298 343 299 351 299 346 299 347 299 341 299 346 299 341 299 352 299 342 299 345 299 345 299 347 299 346 300 346 300 353 300 343 300 340 300 348 300 350 300 343 300 344 300 349 300 344 300 344 300 343 300 344 300 344 300 344 300 342 300 345 300 344 300 343 300 344 300 346 300 342 300 343 301 343 301 343 301 344 301 342 301 343 301 342 301 343 301 345 301 344 301 349 301 339 301 344 301 343 301 345 301 344 301 341 301 343 301 344 301 342 301 341 301 342 301 346 301 347 301 350 302 344 302 340 302 358 302 338 302 342 302 342 302 345 302 343 302 344 302 343 302 355 302 340 302 343 302 345 302 343 303 344 303 348 303 344 303 342 303 344 303 344 303 346 303 342 303 341 303 344 303 342 303 342 303 344 303 343 304 344 304 344 304 342 304 343 304 346 304 344 304 340 304 344 304 345 304 342 304 346 304 342 305 337 305 342 305 343 305 341 305 339 305 343 305 341 305 344 305 349 305 344 305 345 305 344 305 343 305 343 305 334 305 341 306 354 306 341 306 344 306 340 306 340 306 337 306 344 306 342 306 346 306 345 306 344 306 345 306 346 306 344 306 340 307 345 307 341 307 332 307 343 307 350 307 343 307 339 307 347 307 338 307 342 307 349 307 342 307 344 307 342 308 344 308 342 308 342 308 343 308 346 308 344 308 344 308 345 308 342 308 345 308 344 308 343 308 345 308 352 308 343 308 368 308 342 308 342 308 341 308 343 309 345 309 341 309 342 309 344 309 343 309 340 309 344 309 343 309 349 309 346 309 342 309 344 309 342 309 343 310 349 310 345 310 347 310 343 310 342 310 343 310 343 310 343 310 345 310 344 310 343 310 348 310 344 310 344 310 343 311 347 311 341 311 341 311 295 311 344 311 344 311 342 311 340 311 352 311 350 311 341 311 346 311 343 311 339 311 344 311 342 311 342 311 344 311 344 311 327 312 345 312 343 312 342 312 344 312 344 312 342 312 345 312 345 312 345 312 343 312 343 312 343 312 344 312 341 312 342 312 345 313 344 313 341 313 346 313 345 313 343 313 340 313 336 313 341 313 351 313 343 313 342 313 347 313 373 313 344 313 344 313 343 313 346 313 343 314 344 314 341 314 343 314 344 314 343 314 341 314 339 314 344 314 342 314 345 314 344 315 344 315 374 315 343 315 340 315 343 315 342 315 340 315 343 315 340 315 343 315 343 315 345 315 339 315 345 315 341 315 342 315 343 316 342 316 346 316 343 316 341 316 345 316 341 316 342 316 344 316 346 316 342 316 342 316 346 316 344 316 342 316 338 316 344 316 348 316 343 316 343 316 343 316 320 316 349 316 343 316 344 317 341 317 343 317 346 317 343 317 362 317 344 317 342 317 342 317 347 317 343 317 336 317 340 317 345 317 347 317 343 317 342 318 343 318 341 318 343 318 343 318 342 318 347 318 342 318 352 318 345 318 342 318 343 318 342 318 342 319 346 319 341 319 341 319 342 319 342 319 343 319 342 319 342 319 343 319 344 319 341 319 341 319 342 319 347 319 343 320 342 320 346 320 341 320 342 320 342 320 344 320 344 320 341 320 342 320 344 320 344 320 342 320 342 320 340 320 344 320 345 320 345 320 342 320 342 320 343 320 344 321 345 321 338 321 345 321 343 321 342 321 396 321 344 321 301 321 344 321 341 321 344 321 340 321 306 321 341 321 344 321 344 321 341 321 342 322 345 322 343 322 344 322 348 322 343 322 342 322 343 322 343 322 346 322 341 322 341 322 344 322 344 322 341 322 341 322 343 322 341 322 345 323 337 323 346 323 376 323 346 323 332 323 344 323 341 323 346 323 343 323 342 324 333 324 338 324 344 324 340 324 348 324 346 324 342 324 344 324 359 324 353 324 358 324 343 324 316 324 344 324 327 324 341 324 343 324 343 324 341 324 342 325 344 325 343 325 346 325 341 325 344 325 346 325 345 325 342 325 340 325 343 325 344 325 345 325 344 325 341 325 343 325 344 325 343 325 341 325 336 326 343 326 340 326 343 326 344 326 343 326 338 326 342 326 344 326 346 326 341 326 343 326 347 327 336 327 344 327 330 327 346 327 341 327 314 327 340 327 339 327 340 327 320 327 339 327 357 327 342 328 335 328 341 328 342 328 343 328 343 328 343 328 342 328 343 328 344 328 335 328 344 328 341 328 341 328 343 328 343 328 344 328 344 328 338 328 367 328 341 328 345 328 342 328 336 328 355 328 340 329 346 329 343 329 346 329 421 329 346 329 343 329 348 329 345 329 344 329 344 329 351 329 341 329 336 329 341 329 275 329 344 329 342 330 344 330 342 330 344 330 341 330 347 330 347 330 344 330 344 330 337 330 336 330 342 330 344 330 340 331 346 331 342 331 342 331 342 331 341 331 345 331 343 331 341 332 344 332 344 332 270 332 340 332 341 332 348 332 339 332 343 332 343 332 342 332 311 332 345 332 345 332 343 332 345 332 341 332 347 332 344 332 344 332 345 332 342 332 345 332 344 332 343 333 347 333 351 333 343 333 342 333 362 333 344 333 343 333 344 333 340 333 358 333 333 333 327 333 373 333 333 333 342 333 338 333 338 333 346 333 341 333 307 333 343 333 340 333 346 333 342 334 345 334 343 334 343 334 342 334 307 334 347 334 346 334 342 334 339 334 340 334 343 334 343 334 344 334 345 334 343 334 345 334 345 334 338 334 319 334 361 334 341 335 340 335 344 335 342 335 342 335 345 335 341 335 342 335 341 335 342 335 340 335 346 335 343 335 344 336 345 336 344 336 345 336 342 336 332 336 299 336 344 336 334 336 345 336 343 336 343 336 342 336 346 336 345 337 341 337 344 337 342 337 348 337 343 337 342 337 343 337 351 337 342 337 347 337 342 338 342 338 343 338 341 338 341 338 341 338 347 338 346 338 362 338 425 338 343 338 342 338 340 338 342 338 341 339 342 339 346 339 342 339 347 339 344 339 335 339 354 339 347 339 323 339 346 339 344 340 345 340 346 340 344 340 285 340 397 340 341 340 345 340 346 340 339 340 339 340 344 340 345 340 344 340 343 340 341 341 352 341 339 341 344 341 344 341 360 341 343 341 343 341 371 341 343 341 346 341 345 341 343 341 331 342 381 342 340 342 340 342 344 342 333 342 353 342 341 342 345 342 346 342 341 342 341 342 348 342 345 342 313 342 427 342 344 343 341 343 339 343 342 343 347 343 348 343 345 343 344 343 344 343 345 343 343 343 346 343 345 343 344 343 342 343 342 343 344 344 342 344 346 344 338 344 345 344 342 344 342 344 344 344 345 344 342 344 344 344 344 344 358 344 343 344 328 344 344 344 343 344 342 345 345 345 339 345 347 345 343 345 363 345 342 345 346 345 345 345 341 345 382 345 347 346 344 346 346 346 346 346 341 346 348 346 347 346 345 346 340 347 341 347 409 347 337 347 343 347 352 347 344 347 347 347 349 347 344 347 340 347 342 347 343 348 362 348 345 348 340 348 361 348 346 348 347 348 344 348 346 348 345 348 340 348 347 349 346 349 351 349 343 349 344 349 338 349 360 349 344 349 342 350 346 350 346 350 344 350 343 350 346 350 349 350 341 350 345 351 346 351 345 351 345 351 341 351 344 351 340 351 343 351 345 351 340 351 346 351 345 351 340 351 341 352 345 352 287 352 344 352 348 352 346 352 344 352 339 353 343 353 344 353 334 353 344 353 288 354 344 354 340 354 344 354 348 354 350 354 341 354 375 354 348 355 349 355 343 355 348 355 344 355 374 355 342 355 344 355 344 355 355 355 348 355 367 356 343 356 346 356 349 356 348 356 348 356 345 356 345 357 341 357 342 357 348 357 346 357 347 357 344 357 343 358 348 358 344 358 344 358 344 358 346 358 352 358 320 358 344 358 344 358 346 358 344 359 345 359 344 359 303 360 348 360 345 360 345 360 349 360 342 360 357 360 345 360 347 360 337 360 348 360 347 361 364 361 342 361 348 361 345 361 347 361 350 361 351 361 348 361 349 362 348 362 347 362 345 362 344 362 351 363 351 363 342 363 371 364 339 364 349 364 353 364 311 364 348 364 348 364 340 364 346 364 351 364 353 364 346 365 350 365 379 365 347 365 299 365 348 365 349 365 347 365 345 365 346 365 348 365 347 366 349 366 348 366 344 366 347 366 360 366 348 366 345 366 347 366 349 366 341 367 345 367 348 367 342 367 334 367 346 367 344 367 334 368 329 368 347 368 348 368 341 368 348 368 345 368 352 368 350 369 348 369 353 369 347 369 347 369 350 370 351 370 347 370 344 370 348 370 347 370 347 370 402 370 347 370 351 370 339 371 337 371 350 371 349 371 346 371 395 371 346 371 349 371 352 371 347 371 343 371 339 372 346 372 347 372 346 372 347 372 349 372 346 372 350 373 334 373 343 373 348 373 342 373 326 373 345 373 351 373 350 373 349 373 344 373 348 373 347 374 352 374 348 374 348 374 347 374 340 374 351 374 360 375 346 375 345 375 347 375 350 375 346 375 344 375 346 375 346 375 348 375 346 376 347 376 353 376 343 376 326 376 349 376 345 376 348 377 348 377 275 377 341 377 352 377 347 377 345 377 345 377 319 377 345 377 346 378 349 378 349 378 338 378 345 378 346 378 347 378 349 378 343 378 346 378 348 378 347 379 344 379 347 379 346 379 348 379 346 379 323 379 349 379 344 379 353 380 349 380 385 380 369 380 339 380 349 380 346 380 326 380 344 380 355 380 348 381 378 381 348 381 346 381 282 381 350 382 349 382 348 382 348 382 348 382 351 382 354 382 346 383 348 383 354 383 345 383 346 383 342 383 343 383 349 383 352 383 348 383 342 383 347 383 346 383 339 383 351 383 349 383 365 383 347 384 347 384 346 384 349 384 347 384 346 384 349 384 349 384 386 384 359 384 344 384 347 384 378 385 349 385 356 385 349 385 351 385 355 385 353 385 345 385 347 385 346 386 345 386 351 386 343 386 346 386 349 386 349 386 347 387 349 387 350 387 348 387 343 387 346 387 330 387 356 387 344 387 350 387 349 388 351 388 345 388 349 388 346 388 350 388 345 388 346 388 346 388 351 389 347 389 307 389 344 389 351 389 345 389 343 389 350 389 346 390 347 390 349 390 342 390 351 390 358 390 346 390 349 391 350 391 347 391 350 391 347 392 347 392 346 392 350 392 350 392 342 392 358 392 349 392 343 392 345 392 350 393 352 393 345 393 347 393 342 393 340 393 356 393 343 393 340 393 347 394 345 394 348 394 317 394 345 394 349 394 346 394 344 394 347 394 348 394 342 395 352 395 343 395 349 395 345 395 346 396 342 396 348 396 348 396 347 396 347 396 350 397 349 397 346 397 348 397 346 397 349 397 333 397 348 397 346 397 345 397 341 397 347 397 353 397 350 398 341 398 333 398 346 398 342 398 348 398 336 398 330 398 351 399 286 399 347 399 347 399 344 399 355 400 343 400 348 400 346 400 345 400 347 400 345 400 342 400 344 400 342 401 344 401 395 401 338 401 342 401 347 401 363 401 346 402 338 402 348 402 345 402 345 402 342 402 351 402 344 403 347 403 345 403 339 403 340 403 346 403 349 403 349 403 342 404 341 404 356 404 350 404 355 404 343 404 345 405 349 405 343 405 347 405 269 405 335 406 347 406 341 406 346 406 330 406 344 406 341 406 348 406 343 406 344 406 339 107 315 107 320 107 325 108 326 109 328 107 332 108 333 108 334 103 333 105 337 110 335 115 335 108 339 111 338 112 341 114 340 108 343 109 346 105 352 419 316 417 327 422 326 422 328 431 320 432 333 427 332 425 334 431 340 437 339 427 341 409 343 410 346 412 347 413 345 411 348 416 343 420 343 421 343 419 349 420 347 424 349 423 352 425 346 428 346 429 348 431 346 431 349 429 352 420 357 408 345 408 349 414 346 415 350 402 358 407 356 400 371 404 386 415 362 413 366 413 369 411 379 421 375 420 390 438 345 441 344 441 348 443 344 460 348 465 312 464 321 464 336 466 344 464 348 465 348 465 401 478 313 475 339 476 346 475 347 473 351 479 345 474 376 475 399 482 354 487 363 495 321 492 339 496 342 493 345 494 345 493 345 491 347 496 346 497 345 496 347 495 348 500 349 502 343 500 367 511 334 509 347 511 346 512 345 513 346 511 350 515 350 516 347 518 349 520 349 521 345 521 345 522 340 525 331 526 338 524 346 525 351 528 347 519 369 524 392 530 351 531 350 532 347 534 344 537 343 539 347 540 347 539 347 541 348 542 346 543 345 545 349 546 344 548 347 548 341 549 341 550 342 551 349 553 349 452 355 454 356 456 350 450 352 453 346 453 343 452 342 452 357 455 347 452 350 452 346 456 364 455 347 452 348 451 345 448 349 450 349 455 361 458 341 453 359 457 353 452 332 453 346 447 358 457 353 456 349 456 346 453 349 449 355 453 349 455 359 451 362 450 351 455 358 454 342 449 348 454 358 448 355 450 359 453 353 456 355 449 350 456 323 454 324 450 327 451 331 453 323 453 335 453 344 448 334 451 325 456 325 451 328 455 324 448 334 451 329 457 333 451 326 454 332 450 331 455 343 451 333 449 325 453 338 450 323 456 327 451 341 455 321 451 361 454 361 455 364 450 361 449 381 451 380 453 377 450 360 451 360 451 371 455 366 449 366 454 380 451 362 451 370 450 374 446 345 446 345 446 344 445 345 447 344 446 346 448 277 455 275 453 285 453 291 454 301 450 304 450 407 451 408 449 380 451 380 453 380 474 298" fill="none" marker-start="url(#m)" marker-mid="url(#m)" marker-end="url(#m)"/>
</g></g>
<path d="M100.5 227v4.5M200.5 227v4.5M301.5 227v4.5M402.5 227v4.5M503.5 227v4.5M80 209.5h-4.5M80 175.5h-4.5M80 142.5h-4.5M80 108.5h-4.5M80 74.5h-4.5M100.5 428v4.5M200.5 428v4.5M301.5 428v4.5M402.5 428v4.5M503.5 428v4.5M80 410.5h-4.5M80 377.5h-4.5M80 343.5h-4.5M80 310.5h-4.5M80 276.5h-4.5" stroke="#657b83" stroke-width="1.11" fill="none"/>
<g font-family="&quot;Liberation Sans&quot;, sans-serif" font-size="13.6" fill="#657b83">
<text x="100.04" y="245.88" text-anchor="middle">1980</text>
<text x="200.04" y="245.88" text-anchor="middle">1990</text>
<text x="301.55" y="245.88" text-anchor="middle">2000</text>
<text x="401.55" y="245.88" text-anchor="middle">2010</text>
<text x="502.55" y="245.88" text-anchor="middle">2020</text>
<text x="70.8" y="213.83" text-anchor="end">−4</text>
<text x="70.8" y="180.98" text-anchor="end">−2</text>
<text x="70.8" y="147.13" text-anchor="end">0</text>
<text x="70.8" y="114.03" text-anchor="end">2</text>
<text x="70.8" y="79.68" text-anchor="end">4</text>
<text x="100.04" y="447.98" text-anchor="middle">1980</text>
<text x="200.04" y="447.98" text-anchor="middle">1990</text>
<text x="301.55" y="447.98" text-anchor="middle">2000</text>
<text x="401.55" y="447.98" text-anchor="middle">2010</text>
<text x="502.55" y="447.98" text-anchor="middle">2020</text>
<text x="70.8" y="415.68" text-anchor="end">−4</text>
<text x="70.8" y="382.08" text-anchor="end">−2</text>
<text x="70.8" y="348.98" text-anchor="end">0</text>
<text x="70.8" y="314.88" text-anchor="end">2</text>
<text x="70.8" y="281.53" text-anchor="end">4</text>
</g>
<text transform="translate(41.63 142.85) rotate(-90)" text-anchor="middle" font-family="&quot;Liberation Sans&quot;, sans-serif" font-size="16.67" fill="#657b83">RA cos Dec (mas)</text>
<text x="328" y="49.02" text-anchor="middle" font-family="&quot;Liberation Sans&quot;, sans-serif" font-size="22.22" fill="#000000">0923+392</text>
<text transform="translate(41.63 344.2) rotate(-90)" text-anchor="middle" font-family="&quot;Liberation Sans&quot;, sans-serif" font-size="16.67" fill="#657b83">Dec (mas)</text></svg></body></html>
